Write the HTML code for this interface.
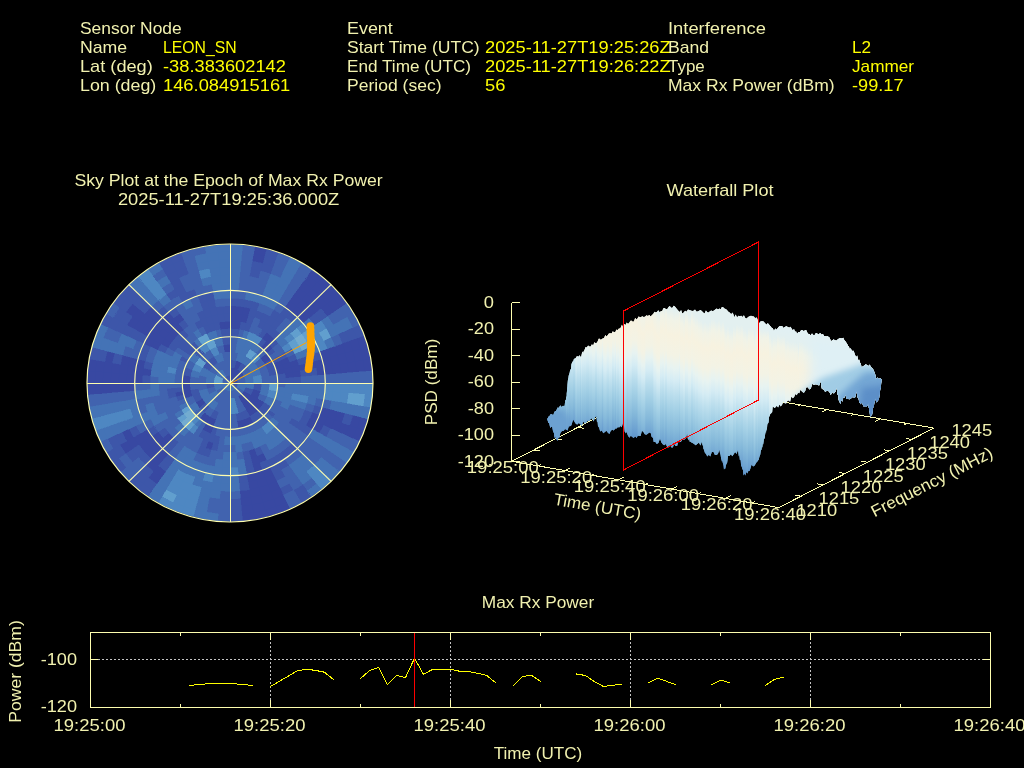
<!DOCTYPE html>
<html><head><meta charset="utf-8"><title>Interference Event</title>
<style>
html,body{margin:0;padding:0;background:#000;}
body{width:1024px;height:768px;overflow:hidden;}
svg{display:block;}
text{font-family:"Liberation Sans",sans-serif;}
line,polyline,rect,.cr{shape-rendering:crispEdges;}
</style></head><body>
<svg width="1024" height="768" viewBox="0 0 1024 768">
<rect width="1024" height="768" fill="#000"/>
<g opacity="0.999">
<text x="80" y="34" fill="#f2f2b0" font-size="16.60" text-anchor="start" textLength="101.7" lengthAdjust="spacingAndGlyphs">Sensor Node</text>
<text x="80" y="53" fill="#f2f2b0" font-size="16.60" text-anchor="start" textLength="47.2" lengthAdjust="spacingAndGlyphs">Name</text>
<text x="163" y="53" fill="#ffff00" font-size="16.60" text-anchor="start" textLength="73.7" lengthAdjust="spacingAndGlyphs">LEON_SN</text>
<text x="80" y="72" fill="#f2f2b0" font-size="16.60" text-anchor="start" textLength="72.8" lengthAdjust="spacingAndGlyphs">Lat (deg)</text>
<text x="163" y="72" fill="#ffff00" font-size="16.60" text-anchor="start" textLength="122.9" lengthAdjust="spacingAndGlyphs">-38.383602142</text>
<text x="80" y="91" fill="#f2f2b0" font-size="16.60" text-anchor="start" textLength="76.3" lengthAdjust="spacingAndGlyphs">Lon (deg)</text>
<text x="163" y="91" fill="#ffff00" font-size="16.60" text-anchor="start" textLength="127.3" lengthAdjust="spacingAndGlyphs">146.084915161</text>
<text x="347" y="34" fill="#f2f2b0" font-size="16.60" text-anchor="start" textLength="45.8" lengthAdjust="spacingAndGlyphs">Event</text>
<text x="347" y="53" fill="#f2f2b0" font-size="16.60" text-anchor="start" textLength="132.7" lengthAdjust="spacingAndGlyphs">Start Time (UTC)</text>
<text x="485" y="53" fill="#ffff00" font-size="16.60" text-anchor="start" textLength="185.7" lengthAdjust="spacingAndGlyphs">2025-11-27T19:25:26Z</text>
<text x="347" y="72" fill="#f2f2b0" font-size="16.60" text-anchor="start" textLength="124.0" lengthAdjust="spacingAndGlyphs">End Time (UTC)</text>
<text x="485" y="72" fill="#ffff00" font-size="16.60" text-anchor="start" textLength="185.7" lengthAdjust="spacingAndGlyphs">2025-11-27T19:26:22Z</text>
<text x="347" y="91" fill="#f2f2b0" font-size="16.60" text-anchor="start" textLength="94.5" lengthAdjust="spacingAndGlyphs">Period (sec)</text>
<text x="485" y="91" fill="#ffff00" font-size="16.60" text-anchor="start" textLength="20.4" lengthAdjust="spacingAndGlyphs">56</text>
<text x="668" y="34" fill="#f2f2b0" font-size="16.60" text-anchor="start" textLength="97.9" lengthAdjust="spacingAndGlyphs">Interference</text>
<text x="668" y="53" fill="#f2f2b0" font-size="16.60" text-anchor="start" textLength="41.1" lengthAdjust="spacingAndGlyphs">Band</text>
<text x="852" y="53" fill="#ffff00" font-size="16.60" text-anchor="start" textLength="19.1" lengthAdjust="spacingAndGlyphs">L2</text>
<text x="668" y="72" fill="#f2f2b0" font-size="16.60" text-anchor="start" textLength="36.8" lengthAdjust="spacingAndGlyphs">Type</text>
<text x="852" y="72" fill="#ffff00" font-size="16.60" text-anchor="start" textLength="62.1" lengthAdjust="spacingAndGlyphs">Jammer</text>
<text x="668" y="91" fill="#f2f2b0" font-size="16.60" text-anchor="start" textLength="166.6" lengthAdjust="spacingAndGlyphs">Max Rx Power (dBm)</text>
<text x="852" y="91" fill="#ffff00" font-size="16.60" text-anchor="start" textLength="51.6" lengthAdjust="spacingAndGlyphs">-99.17</text>
<text x="228.6" y="186" fill="#f2f2b0" font-size="16.60" text-anchor="middle" textLength="308.2" lengthAdjust="spacingAndGlyphs">Sky Plot at the Epoch of Max Rx Power</text>
<text x="228.6" y="205" fill="#f2f2b0" font-size="16.60" text-anchor="middle" textLength="221.4" lengthAdjust="spacingAndGlyphs">2025-11-27T19:25:36.000Z</text>
<text x="720" y="196" fill="#f2f2b0" font-size="16.60" text-anchor="middle" textLength="107.0" lengthAdjust="spacingAndGlyphs">Waterfall Plot</text>
<text x="538" y="608" fill="#f2f2b0" font-size="16.60" text-anchor="middle" textLength="112.3" lengthAdjust="spacingAndGlyphs">Max Rx Power</text>
<text x="538" y="759" fill="#f2f2b0" font-size="16.60" text-anchor="middle" textLength="88.5" lengthAdjust="spacingAndGlyphs">Time (UTC)</text>
<line x1="90.5" y1="659.5" x2="990.5" y2="659.5" stroke="#c4c4c4" stroke-width="1" stroke-dasharray="2 2" stroke-dashoffset="1"/>
<line x1="270.5" y1="632.5" x2="270.5" y2="707.5" stroke="#c4c4c4" stroke-width="1" stroke-dasharray="2 2" stroke-dashoffset="3"/>
<line x1="450.5" y1="632.5" x2="450.5" y2="707.5" stroke="#c4c4c4" stroke-width="1" stroke-dasharray="2 2" stroke-dashoffset="3"/>
<line x1="630.5" y1="632.5" x2="630.5" y2="707.5" stroke="#c4c4c4" stroke-width="1" stroke-dasharray="2 2" stroke-dashoffset="3"/>
<line x1="810.5" y1="632.5" x2="810.5" y2="707.5" stroke="#c4c4c4" stroke-width="1" stroke-dasharray="2 2" stroke-dashoffset="3"/>
<polyline points="189.5,685.4 198.5,684.6 207.5,683.8 216.5,683.7 225.5,683.7 234.5,683.8 243.5,684.6 252.5,685.4" fill="none" stroke="#ffff00" stroke-width="1" stroke-linecap="square"/>
<polyline points="270.5,686.5 279.5,681.2 288.5,676.0 297.5,670.7 306.5,669.2 315.5,670.4 324.5,672.2 333.5,679.6" fill="none" stroke="#ffff00" stroke-width="1" stroke-linecap="square"/>
<polyline points="360.5,678.6 369.5,670.6 378.5,667.4 387.5,684.7 396.5,675.3 405.5,677.6 414.5,658.2 423.5,674.3 432.5,669.4 441.5,669.4 450.5,669.4 459.5,671.2 468.5,671.6 477.5,673.3 486.5,675.3 495.5,682.6" fill="none" stroke="#ffff00" stroke-width="1" stroke-linecap="square"/>
<polyline points="513.5,685.4 522.5,676.5 531.5,675.3 540.5,681.4" fill="none" stroke="#ffff00" stroke-width="1" stroke-linecap="square"/>
<polyline points="576.5,674.0 585.5,675.5 594.5,681.7 603.5,686.5 612.5,685.3 621.5,684.2" fill="none" stroke="#ffff00" stroke-width="1" stroke-linecap="square"/>
<polyline points="648.5,682.7 657.5,678.1 666.5,681.3 675.5,684.6" fill="none" stroke="#ffff00" stroke-width="1" stroke-linecap="square"/>
<polyline points="711.5,684.7 720.5,680.1 729.5,682.6" fill="none" stroke="#ffff00" stroke-width="1" stroke-linecap="square"/>
<polyline points="765.5,685.4 774.5,679.3 783.5,677.3" fill="none" stroke="#ffff00" stroke-width="1" stroke-linecap="square"/>
<line x1="414.5" y1="632.5" x2="414.5" y2="707.5" stroke="#ff0000" stroke-width="1"/>
<rect x="90.5" y="632.5" width="900.0" height="75.0" fill="none" stroke="#ffffb0" stroke-width="1"/>
<line x1="90.5" y1="707.5" x2="90.5" y2="700.0" stroke="#ffffb0" stroke-width="1"/>
<line x1="90.5" y1="632.5" x2="90.5" y2="640.0" stroke="#ffffb0" stroke-width="1"/>
<line x1="180.5" y1="707.5" x2="180.5" y2="704.0" stroke="#ffffb0" stroke-width="1"/>
<line x1="180.5" y1="632.5" x2="180.5" y2="636.0" stroke="#ffffb0" stroke-width="1"/>
<line x1="270.5" y1="707.5" x2="270.5" y2="700.0" stroke="#ffffb0" stroke-width="1"/>
<line x1="270.5" y1="632.5" x2="270.5" y2="640.0" stroke="#ffffb0" stroke-width="1"/>
<line x1="360.5" y1="707.5" x2="360.5" y2="704.0" stroke="#ffffb0" stroke-width="1"/>
<line x1="360.5" y1="632.5" x2="360.5" y2="636.0" stroke="#ffffb0" stroke-width="1"/>
<line x1="450.5" y1="707.5" x2="450.5" y2="700.0" stroke="#ffffb0" stroke-width="1"/>
<line x1="450.5" y1="632.5" x2="450.5" y2="640.0" stroke="#ffffb0" stroke-width="1"/>
<line x1="540.5" y1="707.5" x2="540.5" y2="704.0" stroke="#ffffb0" stroke-width="1"/>
<line x1="540.5" y1="632.5" x2="540.5" y2="636.0" stroke="#ffffb0" stroke-width="1"/>
<line x1="630.5" y1="707.5" x2="630.5" y2="700.0" stroke="#ffffb0" stroke-width="1"/>
<line x1="630.5" y1="632.5" x2="630.5" y2="640.0" stroke="#ffffb0" stroke-width="1"/>
<line x1="720.5" y1="707.5" x2="720.5" y2="704.0" stroke="#ffffb0" stroke-width="1"/>
<line x1="720.5" y1="632.5" x2="720.5" y2="636.0" stroke="#ffffb0" stroke-width="1"/>
<line x1="810.5" y1="707.5" x2="810.5" y2="700.0" stroke="#ffffb0" stroke-width="1"/>
<line x1="810.5" y1="632.5" x2="810.5" y2="640.0" stroke="#ffffb0" stroke-width="1"/>
<line x1="900.5" y1="707.5" x2="900.5" y2="704.0" stroke="#ffffb0" stroke-width="1"/>
<line x1="900.5" y1="632.5" x2="900.5" y2="636.0" stroke="#ffffb0" stroke-width="1"/>
<line x1="990.5" y1="707.5" x2="990.5" y2="700.0" stroke="#ffffb0" stroke-width="1"/>
<line x1="990.5" y1="632.5" x2="990.5" y2="640.0" stroke="#ffffb0" stroke-width="1"/>
<line x1="90.5" y1="659.5" x2="98.0" y2="659.5" stroke="#ffffb0" stroke-width="1"/>
<line x1="990.5" y1="659.5" x2="983.0" y2="659.5" stroke="#ffffb0" stroke-width="1"/>
<text x="89.5" y="731" fill="#f2f2b0" font-size="16.60" text-anchor="middle" textLength="71.9" lengthAdjust="spacingAndGlyphs">19:25:00</text>
<text x="269.5" y="731" fill="#f2f2b0" font-size="16.60" text-anchor="middle" textLength="71.9" lengthAdjust="spacingAndGlyphs">19:25:20</text>
<text x="449.5" y="731" fill="#f2f2b0" font-size="16.60" text-anchor="middle" textLength="71.9" lengthAdjust="spacingAndGlyphs">19:25:40</text>
<text x="629.5" y="731" fill="#f2f2b0" font-size="16.60" text-anchor="middle" textLength="71.9" lengthAdjust="spacingAndGlyphs">19:26:00</text>
<text x="809.5" y="731" fill="#f2f2b0" font-size="16.60" text-anchor="middle" textLength="71.9" lengthAdjust="spacingAndGlyphs">19:26:20</text>
<text x="989.5" y="731" fill="#f2f2b0" font-size="16.60" text-anchor="middle" textLength="71.9" lengthAdjust="spacingAndGlyphs">19:26:40</text>
<text x="77" y="664.5" fill="#f2f2b0" font-size="16.60" text-anchor="end" textLength="36.3" lengthAdjust="spacingAndGlyphs">-100</text>
<text x="77" y="712" fill="#f2f2b0" font-size="16.60" text-anchor="end" textLength="36.3" lengthAdjust="spacingAndGlyphs">-120</text>
<text x="21" y="671.5" fill="#f2f2b0" font-size="16.60" text-anchor="middle" textLength="102.7" lengthAdjust="spacingAndGlyphs" transform="rotate(-90 21 671.5)">Power (dBm)</text>
<defs><clipPath id="hc"><ellipse cx="230.0" cy="383.0" rx="143.0" ry="138.4"/></clipPath></defs>
<g clip-path="url(#hc)" shape-rendering="crispEdges">
<rect x="86" y="243" width="289" height="281" fill="#4264b0"/>
<path d="M230.0 383.0L230.0 375.3L230.3 375.3L230.7 375.3L231.0 375.3L231.4 375.4L231.7 375.5L232.1 375.5L232.4 375.6L232.7 375.7L233.0 375.9L233.4 376.0L233.7 376.2L234.0 376.3L234.3 376.5L234.6 376.7L234.8 376.9L235.1 377.1L235.4 377.3L235.6 377.5L230.0 383.0ZM230.0 383.0L235.6 377.5L235.9 377.8L236.1 378.0L236.3 378.3L236.5 378.6L236.7 378.9L236.9 379.1L237.0 379.4L237.2 379.7L237.3 380.0L237.5 380.4L237.6 380.7L237.7 381.0L237.8 381.3L237.8 381.7L237.9 382.0L237.9 382.3L237.9 382.7L237.9 383.0L230.0 383.0ZM230.0 375.3L230.0 367.6L230.7 367.6L231.4 367.6L232.1 367.7L232.8 367.8L233.4 367.9L234.1 368.1L234.8 368.3L235.4 368.5L236.1 368.7L236.7 369.0L237.3 369.3L237.9 369.6L234.0 376.3L233.7 376.2L233.4 376.0L233.0 375.9L232.7 375.7L232.4 375.6L232.1 375.5L231.7 375.5L231.4 375.4L231.0 375.3L230.7 375.3L230.3 375.3ZM234.0 376.3L237.9 369.6L238.5 370.0L239.1 370.3L239.7 370.7L240.2 371.2L240.7 371.6L241.2 372.1L241.7 372.6L242.2 373.1L242.6 373.6L243.0 374.1L243.4 374.7L243.8 375.3L236.9 379.1L236.7 378.9L236.5 378.6L236.3 378.3L236.1 378.0L235.9 377.8L235.6 377.5L235.4 377.3L235.1 377.1L234.8 376.9L234.6 376.7L234.3 376.5ZM234.1 368.1L236.2 360.6L237.2 360.9L238.2 361.2L239.1 361.6L240.1 362.0L241.0 362.5L241.9 362.9L237.9 369.6L237.3 369.3L236.7 369.0L236.1 368.7L235.4 368.5L234.8 368.3ZM243.8 390.7L250.6 394.6L250.1 395.4L249.5 396.3L248.9 397.1L248.3 397.9L247.6 398.7L246.9 399.4L241.2 393.9L241.7 393.4L242.2 392.9L242.6 392.4L243.0 391.9L243.4 391.3ZM241.2 393.9L246.9 399.4L246.1 400.1L245.3 400.7L244.5 401.4L243.7 402.0L242.8 402.5L241.9 403.1L237.9 396.4L238.5 396.0L239.1 395.7L239.7 395.3L240.2 394.8L240.7 394.4ZM253.0 389.0L260.7 391.0L260.3 392.3L259.9 393.6L259.4 394.8L258.8 396.1L258.2 397.3L257.5 398.4L250.6 394.6L251.1 393.7L251.6 392.8L252.0 391.9L252.4 390.9L252.7 390.0ZM250.6 394.6L257.5 398.4L256.8 399.6L256.0 400.7L255.2 401.8L254.3 402.9L253.4 403.9L252.5 404.8L246.9 399.4L247.6 398.7L248.3 397.9L248.9 397.1L249.5 396.3L250.1 395.4ZM246.9 399.4L252.5 404.8L251.5 405.8L250.4 406.7L249.3 407.5L248.2 408.3L247.1 409.1L245.9 409.8L241.9 403.1L242.8 402.5L243.7 402.0L244.5 401.4L245.3 400.7L246.1 400.1ZM257.5 398.4L264.4 402.3L263.5 403.7L262.5 405.1L261.5 406.5L260.4 407.8L254.3 402.9L255.2 401.8L256.0 400.7L256.8 399.6ZM254.3 402.9L260.4 407.8L259.3 409.1L258.1 410.3L256.8 411.5L255.5 412.6L250.4 406.7L251.5 405.8L252.5 404.8L253.4 403.9ZM250.4 406.7L255.5 412.6L254.2 413.6L252.8 414.6L251.3 415.6L249.9 416.4L245.9 409.8L247.1 409.1L248.2 408.3L249.3 407.5ZM205.7 402.9L199.6 407.8L198.5 406.5L197.5 405.1L196.5 403.7L195.6 402.3L202.5 398.4L203.2 399.6L204.0 400.7L204.8 401.8ZM224.5 352.6L223.1 345.0L224.8 344.7L226.5 344.5L228.3 344.4L230.0 344.4L230.0 352.1L228.6 352.1L227.2 352.2L225.9 352.4ZM260.4 358.2L266.5 353.2L267.8 354.8L269.0 356.4L270.2 358.1L271.3 359.8L264.4 363.7L263.5 362.3L262.5 360.9L261.5 359.5ZM249.9 416.4L253.8 423.1L252.0 424.1L250.1 425.0L248.2 425.8L246.3 426.5L243.6 419.3L245.2 418.7L246.8 418.0L248.3 417.2ZM243.6 419.3L246.3 426.5L244.3 427.2L242.3 427.8L240.3 428.2L238.3 428.6L236.9 421.0L238.6 420.7L240.3 420.3L241.9 419.8ZM216.4 419.3L213.7 426.5L211.8 425.8L209.9 425.0L208.0 424.1L206.2 423.1L210.1 416.4L211.7 417.2L213.2 418.0L214.8 418.7ZM210.1 416.4L206.2 423.1L204.4 422.1L202.7 421.0L201.0 419.8L199.4 418.5L204.5 412.6L205.8 413.6L207.2 414.6L208.7 415.6ZM192.7 396.2L185.2 398.8L184.5 396.9L184.0 395.0L183.5 393.0L183.1 391.0L190.9 389.7L191.2 391.4L191.6 393.0L192.1 394.6ZM190.9 389.7L183.1 391.0L182.7 389.0L182.5 387.0L182.4 385.0L182.3 383.0L190.3 383.0L190.3 384.7L190.4 386.4L190.6 388.0ZM190.3 383.0L182.3 383.0L182.4 381.0L182.5 379.0L182.7 377.0L183.1 375.0L190.9 376.3L190.6 378.0L190.4 379.6L190.3 381.3ZM260.6 347.5L265.7 341.6L267.6 343.1L269.3 344.8L263.7 350.2L262.2 348.8ZM263.7 350.2L269.3 344.8L271.0 346.5L272.6 348.3L266.5 353.2L265.1 351.7ZM273.2 363.4L280.4 360.2L281.4 362.3L282.3 364.5L274.8 367.2L274.0 365.3ZM274.8 367.2L282.3 364.5L283.0 366.7L283.7 369.0L276.0 371.0L275.5 369.1ZM276.0 371.0L283.7 369.0L284.3 371.3L284.8 373.6L276.9 375.0L276.5 373.0ZM213.7 426.5L211.0 433.8L208.7 432.9L206.5 432.0L209.9 425.0L211.8 425.8ZM209.9 425.0L206.5 432.0L204.3 430.9L202.2 429.8L206.2 423.1L208.0 424.1ZM184.0 395.0L176.3 397.0L175.7 394.7L175.2 392.4L183.1 391.0L183.5 393.0ZM230.0 328.9L230.0 321.2L232.8 321.3L235.5 321.5L234.8 329.2L232.4 329.0ZM234.8 329.2L235.5 321.5L238.3 321.8L241.0 322.2L239.7 329.8L237.3 329.4ZM261.9 338.7L266.5 332.4L268.7 334.0L270.9 335.7L265.7 341.6L263.9 340.1ZM265.7 341.6L270.9 335.7L272.9 337.5L274.9 339.3L269.3 344.8L267.6 343.1ZM280.4 360.2L287.6 356.9L288.7 359.4L289.7 361.9L282.3 364.5L281.4 362.3ZM282.3 364.5L289.7 361.9L290.6 364.4L291.4 367.0L283.7 369.0L283.0 366.7ZM283.7 369.0L291.4 367.0L292.0 369.6L292.6 372.3L284.8 373.6L284.3 371.3ZM284.8 373.6L292.6 372.3L293.0 374.9L293.3 377.6L285.4 378.3L285.1 375.9ZM220.3 329.8L219.0 322.2L221.7 321.8L224.5 321.5L225.2 329.2L222.7 329.4ZM225.2 329.2L224.5 321.5L227.2 321.3L230.0 321.2L230.0 328.9L227.6 329.0ZM230.0 321.2L230.0 313.5L233.1 313.6L236.2 313.8L235.5 321.5L232.8 321.3ZM235.5 321.5L236.2 313.8L239.3 314.1L242.4 314.6L241.0 322.2L238.3 321.8ZM241.0 322.2L242.4 314.6L245.5 315.1L248.5 315.9L246.4 323.3L243.8 322.7ZM289.7 361.9L297.2 359.2L298.2 362.1L299.1 365.0L291.4 367.0L290.6 364.4ZM291.4 367.0L299.1 365.0L299.8 368.0L300.4 370.9L292.6 372.3L292.0 369.6ZM292.6 372.3L300.4 370.9L300.9 373.9L301.2 376.9L293.3 377.6L293.0 374.9ZM213.6 442.7L211.5 450.1L208.5 449.3L205.5 448.3L208.3 441.1L210.9 441.9ZM230.0 313.5L230.0 305.8L233.5 305.9L236.9 306.1L236.2 313.8L233.1 313.6ZM236.2 313.8L236.9 306.1L240.4 306.4L243.8 307.0L242.4 314.6L239.3 314.1ZM242.4 314.6L243.8 307.0L247.2 307.6L250.6 308.4L248.5 315.9L245.5 315.1ZM299.1 365.0L306.7 363.0L307.6 366.3L308.2 369.6L300.4 370.9L299.8 368.0ZM254.5 448.3L257.2 455.6L253.9 456.6L250.6 457.6L248.5 450.1L251.5 449.3ZM168.1 348.2L161.2 344.4L163.0 341.5L164.9 338.7L171.4 343.1L169.7 345.7ZM171.4 343.1L164.9 338.7L167.0 336.0L169.1 333.4L175.2 338.3L173.3 340.7ZM175.2 338.3L169.1 333.4L171.4 330.8L173.8 328.4L179.4 333.9L177.3 336.0ZM179.4 333.9L173.8 328.4L176.3 326.1L178.9 323.8L184.0 329.8L181.7 331.8ZM306.7 363.0L314.4 361.0L315.3 364.6L316.1 368.2L308.2 369.6L307.6 366.3ZM263.6 453.0L266.9 460.0L263.4 461.5L259.9 462.8L257.2 455.6L260.4 454.3ZM257.2 455.6L259.9 462.8L256.3 464.0L252.6 465.1L250.6 457.6L253.9 456.6ZM173.8 437.6L168.2 443.1L165.6 440.4L163.1 437.6L169.1 432.6L171.4 435.2ZM150.9 376.3L142.9 375.6L143.4 371.9L143.9 368.2L151.8 369.6L151.2 372.9ZM158.0 350.4L150.8 347.1L152.5 343.8L154.3 340.5L161.2 344.4L159.5 347.3ZM161.2 344.4L154.3 340.5L156.3 337.4L158.4 334.3L164.9 338.7L163.0 341.5ZM164.9 338.7L158.4 334.3L160.7 331.3L163.1 328.4L169.1 333.4L167.0 336.0ZM169.1 333.4L163.1 328.4L165.6 325.6L168.2 322.9L173.8 328.4L171.4 330.8ZM173.8 328.4L168.2 322.9L171.0 320.4L173.8 317.9L178.9 323.8L176.3 326.1ZM178.9 323.8L173.8 317.9L176.8 315.6L179.9 313.4L184.4 319.7L181.6 321.7ZM314.4 361.0L322.1 359.0L323.1 362.9L323.9 366.9L316.1 368.2L315.3 364.6ZM316.1 368.2L323.9 366.9L324.5 370.9L325.0 374.9L317.1 375.6L316.6 371.9ZM312.1 412.1L319.6 414.7L318.1 418.5L316.4 422.2L309.2 418.9L310.7 415.5ZM309.2 418.9L316.4 422.2L314.6 425.8L312.6 429.3L305.7 425.5L307.5 422.2ZM259.9 462.8L262.6 470.1L258.7 471.4L254.7 472.5L252.6 465.1L256.3 464.0ZM168.2 443.1L162.6 448.5L159.7 445.6L157.0 442.6L163.1 437.6L165.6 440.4ZM163.1 437.6L157.0 442.6L154.4 439.4L151.9 436.2L158.4 431.7L160.7 434.7ZM142.6 383.0L134.7 383.0L134.8 379.0L135.0 374.9L142.9 375.6L142.7 379.3ZM142.9 375.6L135.0 374.9L135.5 370.9L136.1 366.9L143.9 368.2L143.4 371.9ZM143.9 368.2L136.1 366.9L136.9 362.9L137.9 359.0L145.6 361.0L144.7 364.6ZM150.8 347.1L143.6 343.8L145.4 340.2L147.4 336.7L154.3 340.5L152.5 343.8ZM154.3 340.5L147.4 336.7L149.6 333.2L151.9 329.8L158.4 334.3L156.3 337.4ZM158.4 334.3L151.9 329.8L154.4 326.6L157.0 323.4L163.1 328.4L160.7 331.3ZM163.1 328.4L157.0 323.4L159.7 320.4L162.6 317.5L168.2 322.9L165.6 325.6ZM168.2 322.9L162.6 317.5L165.6 314.7L168.7 312.0L173.8 317.9L171.0 320.4ZM284.7 307.1L289.2 300.8L292.9 303.4L296.4 306.1L291.3 312.0L288.0 309.5ZM291.3 312.0L296.4 306.1L299.8 309.0L303.0 312.0L297.4 317.5L294.4 314.7ZM297.4 317.5L303.0 312.0L306.1 315.2L309.1 318.5L303.0 323.4L300.3 320.4ZM319.6 351.3L327.0 348.7L328.5 352.8L329.8 357.0L322.1 359.0L320.9 355.1ZM322.1 359.0L329.8 357.0L330.8 361.3L331.7 365.6L323.9 366.9L323.1 362.9ZM323.9 366.9L331.7 365.6L332.4 369.9L332.9 374.3L325.0 374.9L324.5 370.9ZM322.1 407.0L329.8 409.0L328.5 413.2L327.0 417.3L319.6 414.7L320.9 410.9ZM319.6 414.7L327.0 417.3L325.4 421.4L323.6 425.4L316.4 422.2L318.1 418.5ZM316.4 422.2L323.6 425.4L321.6 429.4L319.4 433.2L312.6 429.3L314.6 425.8ZM270.3 467.0L273.6 474.0L269.5 475.7L265.3 477.3L262.6 470.1L266.5 468.6ZM262.6 470.1L265.3 477.3L261.1 478.7L256.7 480.0L254.7 472.5L258.7 471.4ZM254.7 472.5L256.7 480.0L252.4 481.0L247.9 481.9L246.6 474.3L250.6 473.5ZM168.7 454.0L163.6 459.9L160.2 457.0L157.0 454.0L162.6 448.5L165.6 451.3ZM162.6 448.5L157.0 454.0L153.9 450.8L150.9 447.5L157.0 442.6L159.7 445.6ZM157.0 442.6L150.9 447.5L148.1 444.1L145.4 440.6L151.9 436.2L154.4 439.4ZM151.9 436.2L145.4 440.6L142.9 436.9L140.6 433.2L147.4 429.3L149.6 432.8ZM135.0 391.1L127.1 391.7L126.8 387.4L126.7 383.0L134.7 383.0L134.8 387.0ZM134.7 383.0L126.7 383.0L126.8 378.6L127.1 374.3L135.0 374.9L134.8 379.0ZM135.0 374.9L127.1 374.3L127.6 369.9L128.3 365.6L136.1 366.9L135.5 370.9ZM136.1 366.9L128.3 365.6L129.2 361.3L130.2 357.0L137.9 359.0L136.9 362.9ZM147.4 336.7L140.6 332.8L142.9 329.1L145.4 325.4L151.9 329.8L149.6 333.2ZM151.9 329.8L145.4 325.4L148.1 321.9L150.9 318.5L157.0 323.4L154.4 326.6ZM157.0 323.4L150.9 318.5L153.9 315.2L157.0 312.0L162.6 317.5L159.7 320.4ZM289.2 300.8L293.8 294.4L297.7 297.2L301.5 300.2L296.4 306.1L292.9 303.4ZM296.4 306.1L301.5 300.2L305.1 303.3L308.6 306.6L303.0 312.0L299.8 309.0ZM303.0 312.0L308.6 306.6L312.0 310.0L315.2 313.5L309.1 318.5L306.1 315.2ZM327.0 348.7L334.5 346.0L336.1 350.5L337.4 355.0L329.8 357.0L328.5 352.8ZM329.8 357.0L337.4 355.0L338.6 359.6L339.5 364.2L331.7 365.6L330.8 361.3ZM331.7 365.6L339.5 364.2L340.3 368.9L340.8 373.6L332.9 374.3L332.4 369.9ZM329.8 409.0L337.4 411.0L336.1 415.5L334.5 420.0L327.0 417.3L328.5 413.2ZM327.0 417.3L334.5 420.0L332.8 424.4L330.8 428.7L323.6 425.4L325.4 421.4ZM273.6 474.0L277.0 481.0L272.6 482.9L268.0 484.6L265.3 477.3L269.5 475.7ZM265.3 477.3L268.0 484.6L263.4 486.1L258.8 487.4L256.7 480.0L261.1 478.7ZM256.7 480.0L258.8 487.4L254.1 488.5L249.3 489.5L247.9 481.9L252.4 481.0ZM163.6 459.9L158.5 465.8L154.9 462.7L151.4 459.4L157.0 454.0L160.2 457.0ZM157.0 454.0L151.4 459.4L148.0 456.0L144.8 452.5L150.9 447.5L153.9 450.8ZM150.9 447.5L144.8 452.5L141.8 448.8L138.9 445.0L145.4 440.6L148.1 444.1ZM145.4 440.6L138.9 445.0L136.2 441.1L133.7 437.1L140.6 433.2L142.9 436.9ZM127.1 391.7L119.2 392.4L118.9 387.7L118.8 383.0L126.7 383.0L126.8 387.4ZM126.7 383.0L118.8 383.0L118.9 378.3L119.2 373.6L127.1 374.3L126.8 378.6ZM127.1 374.3L119.2 373.6L119.7 368.9L120.5 364.2L128.3 365.6L127.6 369.9ZM128.3 365.6L120.5 364.2L121.4 359.6L122.6 355.0L130.2 357.0L129.2 361.3ZM140.6 332.8L133.7 328.9L136.2 324.9L138.9 321.0L145.4 325.4L142.9 329.1ZM145.4 325.4L138.9 321.0L141.8 317.2L144.8 313.5L150.9 318.5L148.1 321.9ZM150.9 318.5L144.8 313.5L148.0 310.0L151.4 306.6L157.0 312.0L153.9 315.2ZM293.8 294.4L298.4 288.1L302.5 291.1L306.6 294.3L301.5 300.2L297.7 297.2ZM301.5 300.2L306.6 294.3L310.5 297.6L314.3 301.1L308.6 306.6L305.1 303.3ZM308.6 306.6L314.3 301.1L317.9 304.7L321.3 308.5L315.2 313.5L312.0 310.0ZM334.5 346.0L342.0 343.4L343.7 348.2L345.1 353.0L337.4 355.0L336.1 350.5ZM337.4 355.0L345.1 353.0L346.3 357.9L347.4 362.9L339.5 364.2L338.6 359.6ZM339.5 364.2L347.4 362.9L348.1 367.9L348.7 372.9L340.8 373.6L340.3 368.9ZM337.4 411.0L345.1 413.0L343.7 417.8L342.0 422.6L334.5 420.0L336.1 415.5ZM334.5 420.0L342.0 422.6L340.1 427.3L338.0 432.0L330.8 428.7L332.8 424.4ZM277.0 481.0L280.4 488.0L275.6 490.0L270.8 491.8L268.0 484.6L272.6 482.9ZM268.0 484.6L270.8 491.8L265.8 493.5L260.8 494.9L258.8 487.4L263.4 486.1ZM258.8 487.4L260.8 494.9L255.8 496.1L250.7 497.1L249.3 489.5L254.1 488.5ZM249.3 489.5L250.7 497.1L245.6 497.8L240.4 498.4L239.7 490.7L244.5 490.2ZM166.2 471.6L161.6 477.9L157.5 474.9L153.4 471.7L158.5 465.8L162.3 468.8ZM158.5 465.8L153.4 471.7L149.5 468.4L145.7 464.9L151.4 459.4L154.9 462.7ZM138.9 445.0L132.4 449.4L129.5 445.2L126.8 440.9L133.7 437.1L136.2 441.1ZM133.7 437.1L126.8 440.9L124.3 436.5L122.0 432.0L129.2 428.7L131.3 432.9ZM119.2 392.4L111.3 393.1L110.9 388.1L110.8 383.0L118.8 383.0L118.9 387.7ZM118.8 383.0L110.8 383.0L110.9 377.9L111.3 372.9L119.2 373.6L118.9 378.3ZM119.2 373.6L111.3 372.9L111.9 367.9L112.6 362.9L120.5 364.2L119.7 368.9ZM133.7 328.9L126.8 325.1L129.5 320.8L132.4 316.6L138.9 321.0L136.2 324.9ZM138.9 321.0L132.4 316.6L135.5 312.5L138.7 308.5L144.8 313.5L141.8 317.2ZM298.4 288.1L302.9 281.8L307.4 285.0L311.7 288.4L306.6 294.3L302.5 291.1ZM306.6 294.3L311.7 288.4L315.9 291.9L319.9 295.6L314.3 301.1L310.5 297.6ZM314.3 301.1L319.9 295.6L323.7 299.5L327.4 303.6L321.3 308.5L317.9 304.7ZM321.3 308.5L327.4 303.6L330.8 307.8L334.1 312.1L327.6 316.6L324.5 312.5ZM342.0 343.4L349.4 340.7L351.2 345.8L352.8 351.0L345.1 353.0L343.7 348.2ZM345.1 353.0L352.8 351.0L354.1 356.3L355.2 361.5L347.4 362.9L346.3 357.9ZM347.4 362.9L355.2 361.5L356.0 366.9L356.6 372.2L348.7 372.9L348.1 367.9ZM342.0 422.6L349.4 425.3L347.4 430.3L345.2 435.2L338.0 432.0L340.1 427.3ZM280.4 488.0L283.7 495.0L278.6 497.2L273.5 499.1L270.8 491.8L275.6 490.0ZM270.8 491.8L273.5 499.1L268.2 500.8L262.9 502.3L260.8 494.9L265.8 493.5ZM260.8 494.9L262.9 502.3L257.5 503.6L252.1 504.7L250.7 497.1L255.8 496.1ZM250.7 497.1L252.1 504.7L246.6 505.5L241.1 506.1L240.4 498.4L245.6 497.8ZM161.6 477.9L157.1 484.2L152.6 481.0L148.3 477.6L153.4 471.7L157.5 474.9ZM132.4 449.4L125.9 453.9L122.8 449.4L119.9 444.8L126.8 440.9L129.5 445.2ZM111.3 393.1L103.4 393.8L103.0 388.4L102.9 383.0L110.8 383.0L110.9 388.1ZM110.8 383.0L102.9 383.0L103.0 377.6L103.4 372.2L111.3 372.9L110.9 377.9ZM111.3 372.9L103.4 372.2L104.0 366.9L104.8 361.5L112.6 362.9L111.9 367.9ZM112.6 362.9L104.8 361.5L105.9 356.3L107.2 351.0L114.9 353.0L113.7 357.9ZM132.4 316.6L125.9 312.1L129.2 307.8L132.6 303.6L138.7 308.5L135.5 312.5ZM252.1 261.3L253.5 253.7L259.2 254.8L265.0 256.2L262.9 263.7L257.5 262.4ZM302.9 281.8L307.5 275.5L312.2 278.9L316.8 282.4L311.7 288.4L307.4 285.0ZM311.7 288.4L316.8 282.4L321.2 286.2L325.5 290.2L319.9 295.6L315.9 291.9ZM319.9 295.6L325.5 290.2L329.6 294.3L333.5 298.6L327.4 303.6L323.7 299.5ZM327.4 303.6L333.5 298.6L337.1 303.1L340.6 307.7L334.1 312.1L330.8 307.8ZM349.4 340.7L356.9 338.1L358.8 343.5L360.5 349.0L352.8 351.0L351.2 345.8ZM352.8 351.0L360.5 349.0L361.9 354.6L363.0 360.2L355.2 361.5L354.1 356.3ZM355.2 361.5L363.0 360.2L363.9 365.9L364.5 371.6L356.6 372.2L356.0 366.9ZM352.8 415.0L360.5 417.0L358.8 422.5L356.9 427.9L349.4 425.3L351.2 420.2ZM349.4 425.3L356.9 427.9L354.8 433.2L352.4 438.5L345.2 435.2L347.4 430.3ZM283.7 495.0L287.1 502.0L281.7 504.3L276.2 506.4L273.5 499.1L278.6 497.2ZM273.5 499.1L276.2 506.4L270.6 508.2L265.0 509.8L262.9 502.3L268.2 500.8ZM262.9 502.3L265.0 509.8L259.2 511.2L253.5 512.3L252.1 504.7L257.5 503.6ZM252.1 504.7L253.5 512.3L247.6 513.2L241.8 513.8L241.1 506.1L246.6 505.5ZM103.4 393.8L95.5 394.4L95.1 388.7L94.9 383.0L102.9 383.0L103.0 388.4ZM102.9 383.0L94.9 383.0L95.1 377.3L95.5 371.6L103.4 372.2L103.0 377.6ZM103.4 372.2L95.5 371.6L96.1 365.9L97.0 360.2L104.8 361.5L104.0 366.9ZM253.5 253.7L254.8 246.1L261.0 247.3L267.0 248.7L265.0 256.2L259.2 254.8ZM307.5 275.5L312.0 269.1L317.1 272.7L321.9 276.5L316.8 282.4L312.2 278.9ZM316.8 282.4L321.9 276.5L326.6 280.5L331.1 284.7L325.5 290.2L321.2 286.2ZM325.5 290.2L331.1 284.7L335.4 289.1L339.5 293.7L333.5 298.6L329.6 294.3ZM333.5 298.6L339.5 293.7L343.4 298.4L347.1 303.3L340.6 307.7L337.1 303.1ZM356.9 338.1L364.4 335.5L366.4 341.2L368.1 347.0L360.5 349.0L358.8 343.5ZM360.5 349.0L368.1 347.0L369.6 352.9L370.8 358.9L363.0 360.2L361.9 354.6ZM363.0 360.2L370.8 358.9L371.8 364.9L372.5 370.9L364.5 371.6L363.9 365.9ZM360.5 417.0L368.1 419.0L366.4 424.8L364.4 430.5L356.9 427.9L358.8 422.5ZM356.9 427.9L364.4 430.5L362.1 436.2L359.6 441.7L352.4 438.5L354.8 433.2ZM287.1 502.0L290.4 509.0L284.7 511.4L278.9 513.6L276.2 506.4L281.7 504.3ZM276.2 506.4L278.9 513.6L273.0 515.6L267.0 517.3L265.0 509.8L270.6 508.2ZM265.0 509.8L267.0 517.3L261.0 518.7L254.8 519.9L253.5 512.3L259.2 511.2ZM253.5 512.3L254.8 519.9L248.7 520.8L242.5 521.5L241.8 513.8L247.6 513.2ZM95.5 394.4L87.5 395.1L87.1 389.1L87.0 383.0L94.9 383.0L95.1 388.7ZM94.9 383.0L87.0 383.0L87.1 376.9L87.5 370.9L95.5 371.6L95.1 377.3ZM95.5 371.6L87.5 370.9L88.2 364.9L89.2 358.9L97.0 360.2L96.1 365.9Z" fill="#3949a3" stroke="#3949a3" stroke-width="0.6"/>
<path d="M230.0 383.0L237.9 383.0L237.9 383.3L237.9 383.7L237.9 384.0L237.8 384.3L237.8 384.7L237.7 385.0L237.6 385.3L237.5 385.6L237.3 386.0L237.2 386.3L237.0 386.6L236.9 386.9L236.7 387.1L236.5 387.4L236.3 387.7L236.1 388.0L235.9 388.2L235.6 388.5L230.0 383.0ZM230.0 383.0L224.4 377.5L224.6 377.3L224.9 377.1L225.2 376.9L225.4 376.7L225.7 376.5L226.0 376.3L226.3 376.2L226.6 376.0L227.0 375.9L227.3 375.7L227.6 375.6L227.9 375.5L228.3 375.5L228.6 375.4L229.0 375.3L229.3 375.3L229.7 375.3L230.0 375.3L230.0 383.0ZM230.0 367.6L230.0 359.8L231.0 359.9L232.1 359.9L233.1 360.0L234.1 360.2L235.2 360.4L236.2 360.6L234.1 368.1L233.4 367.9L232.8 367.8L232.1 367.7L231.4 367.6L230.7 367.6ZM237.9 369.6L241.9 362.9L242.8 363.5L243.7 364.0L244.5 364.6L245.3 365.3L246.1 365.9L246.9 366.6L241.2 372.1L240.7 371.6L240.2 371.2L239.7 370.7L239.1 370.3L238.5 370.0ZM245.3 387.0L253.0 389.0L252.7 390.0L252.4 390.9L252.0 391.9L251.6 392.8L251.1 393.7L250.6 394.6L243.8 390.7L244.1 390.1L244.4 389.5L244.7 388.9L244.9 388.3L245.2 387.6ZM214.7 387.0L207.0 389.0L206.7 388.0L206.5 387.0L206.4 386.0L206.3 385.0L206.2 384.0L206.2 383.0L214.1 383.0L214.1 383.7L214.2 384.3L214.2 385.0L214.4 385.7L214.5 386.3ZM253.8 383.0L261.8 383.0L261.7 384.3L261.7 385.7L261.5 387.0L261.3 388.4L261.0 389.7L260.7 391.0L253.0 389.0L253.3 388.0L253.5 387.0L253.6 386.0L253.7 385.0L253.8 384.0ZM209.4 371.4L202.5 367.6L203.2 366.4L204.0 365.3L204.8 364.2L205.7 363.1L206.6 362.1L207.5 361.2L213.1 366.6L212.4 367.3L211.7 368.1L211.1 368.9L210.5 369.7L209.9 370.6ZM213.1 366.6L207.5 361.2L208.5 360.2L209.6 359.3L210.7 358.5L211.8 357.7L212.9 356.9L214.1 356.2L218.1 362.9L217.2 363.5L216.3 364.0L215.5 364.6L214.7 365.3L213.9 365.9ZM245.9 409.8L249.9 416.4L248.3 417.2L246.8 418.0L245.2 418.7L243.6 419.3L240.9 412.0L242.2 411.5L243.4 411.0L244.7 410.4ZM240.9 412.0L243.6 419.3L241.9 419.8L240.3 420.3L238.6 420.7L236.9 421.0L235.5 413.4L236.9 413.2L238.2 412.8L239.6 412.5ZM219.1 412.0L216.4 419.3L214.8 418.7L213.2 418.0L211.7 417.2L210.1 416.4L214.1 409.8L215.3 410.4L216.6 411.0L217.8 411.5ZM209.6 406.7L204.5 412.6L203.2 411.5L201.9 410.3L200.7 409.1L199.6 407.8L205.7 402.9L206.6 403.9L207.5 404.8L208.5 405.8ZM202.5 398.4L195.6 402.3L194.8 400.8L194.0 399.3L193.3 397.8L192.7 396.2L200.1 393.6L200.6 394.8L201.2 396.1L201.8 397.3ZM200.1 393.6L192.7 396.2L192.1 394.6L191.6 393.0L191.2 391.4L190.9 389.7L198.7 388.4L199.0 389.7L199.3 391.0L199.7 392.3ZM264.4 363.7L271.3 359.8L272.3 361.6L273.2 363.4L274.0 365.3L274.8 367.2L267.3 369.8L266.7 368.2L266.0 366.7L265.2 365.2ZM267.3 369.8L274.8 367.2L275.5 369.1L276.0 371.0L276.5 373.0L276.9 375.0L269.1 376.3L268.8 374.6L268.4 373.0L267.9 371.4ZM264.4 402.3L271.3 406.2L270.2 407.9L269.0 409.6L267.8 411.2L266.5 412.8L260.4 407.8L261.5 406.5L262.5 405.1L263.5 403.7ZM260.4 407.8L266.5 412.8L265.1 414.3L263.7 415.8L262.2 417.2L260.6 418.5L255.5 412.6L256.8 411.5L258.1 410.3L259.3 409.1ZM255.5 412.6L260.6 418.5L259.0 419.8L257.3 421.0L255.6 422.1L253.8 423.1L249.9 416.4L251.3 415.6L252.8 414.6L254.2 413.6ZM190.9 376.3L183.1 375.0L183.5 373.0L184.0 371.0L184.5 369.1L185.2 367.2L192.7 369.8L192.1 371.4L191.6 373.0L191.2 374.6ZM199.6 358.2L193.5 353.2L194.9 351.7L196.3 350.2L197.8 348.8L199.4 347.5L204.5 353.4L203.2 354.5L201.9 355.7L200.7 356.9ZM223.1 345.0L221.7 337.4L223.8 337.1L225.8 336.8L227.9 336.7L230.0 336.7L230.0 344.4L228.3 344.4L226.5 344.5L224.8 344.7ZM230.0 336.7L230.0 328.9L232.4 329.0L234.8 329.2L234.2 336.8L232.1 336.7ZM234.2 336.8L234.8 329.2L237.3 329.4L239.7 329.8L238.3 337.4L236.2 337.1ZM257.3 345.0L261.9 338.7L263.9 340.1L265.7 341.6L260.6 347.5L259.0 346.2ZM266.5 353.2L272.6 348.3L274.1 350.1L275.6 352.0L269.0 356.4L267.8 354.8ZM271.3 359.8L278.2 356.0L279.3 358.0L280.4 360.2L273.2 363.4L272.3 361.6ZM276.9 375.0L284.8 373.6L285.1 375.9L285.4 378.3L277.5 379.0L277.3 377.0ZM277.5 379.0L285.4 378.3L285.6 380.6L285.6 383.0L277.7 383.0L277.6 381.0ZM269.0 409.6L275.6 414.0L274.1 415.9L272.6 417.7L266.5 412.8L267.8 411.2ZM217.7 427.8L215.6 435.2L213.3 434.6L211.0 433.8L213.7 426.5L215.7 427.2ZM185.2 398.8L177.7 401.5L177.0 399.3L176.3 397.0L184.0 395.0L184.5 396.9ZM183.1 391.0L175.2 392.4L174.9 390.1L174.6 387.7L182.5 387.0L182.7 389.0ZM186.8 363.4L179.6 360.2L180.7 358.0L181.8 356.0L188.7 359.8L187.7 361.6ZM191.0 356.4L184.4 352.0L185.9 350.1L187.4 348.3L193.5 353.2L192.2 354.8ZM193.5 353.2L187.4 348.3L189.0 346.5L190.7 344.8L196.3 350.2L194.9 351.7ZM196.3 350.2L190.7 344.8L192.4 343.1L194.3 341.6L199.4 347.5L197.8 348.8ZM221.7 337.4L220.3 329.8L222.7 329.4L225.2 329.2L225.8 336.8L223.8 337.1ZM225.8 336.8L225.2 329.2L227.6 329.0L230.0 328.9L230.0 336.7L227.9 336.7ZM239.7 329.8L241.0 322.2L243.8 322.7L246.4 323.3L244.4 330.8L242.0 330.2ZM244.4 330.8L246.4 323.3L249.1 324.1L251.7 324.9L249.0 332.2L246.7 331.4ZM257.8 336.2L261.8 329.5L264.1 330.9L266.5 332.4L261.9 338.7L259.9 337.4ZM269.3 344.8L274.9 339.3L276.9 341.3L278.7 343.3L272.6 348.3L271.0 346.5ZM278.2 356.0L285.0 352.1L286.4 354.5L287.6 356.9L280.4 360.2L279.3 358.0ZM285.4 378.3L293.3 377.6L293.5 380.3L293.6 383.0L285.6 383.0L285.6 380.6ZM220.3 436.2L219.0 443.8L216.2 443.3L213.6 442.7L215.6 435.2L218.0 435.8ZM215.6 435.2L213.6 442.7L210.9 441.9L208.3 441.1L211.0 433.8L213.3 434.6ZM211.0 433.8L208.3 441.1L205.7 440.1L203.1 439.0L206.5 432.0L208.7 432.9ZM206.5 432.0L203.1 439.0L200.7 437.8L198.2 436.5L202.2 429.8L204.3 430.9ZM176.3 397.0L168.6 399.0L168.0 396.4L167.4 393.7L175.2 392.4L175.7 394.7ZM175.2 392.4L167.4 393.7L167.0 391.1L166.7 388.4L174.6 387.7L174.9 390.1ZM184.4 352.0L177.9 347.6L179.6 345.4L181.3 343.3L187.4 348.3L185.9 350.1ZM187.4 348.3L181.3 343.3L183.1 341.3L185.1 339.3L190.7 344.8L189.0 346.5ZM206.5 334.0L203.1 327.0L205.7 325.9L208.3 324.9L211.0 332.2L208.7 333.1ZM211.0 332.2L208.3 324.9L210.9 324.1L213.6 323.3L215.6 330.8L213.3 331.4ZM215.6 330.8L213.6 323.3L216.2 322.7L219.0 322.2L220.3 329.8L218.0 330.2ZM246.4 323.3L248.5 315.9L251.5 316.7L254.5 317.7L251.7 324.9L249.1 324.1ZM256.9 327.0L260.2 320.0L263.0 321.4L265.8 322.8L261.8 329.5L259.3 328.2ZM261.8 329.5L265.8 322.8L268.4 324.4L271.0 326.1L266.5 332.4L264.1 330.9ZM266.5 332.4L271.0 326.1L273.5 327.9L276.0 329.8L270.9 335.7L268.7 334.0ZM270.9 335.7L276.0 329.8L278.3 331.8L280.6 333.9L274.9 339.3L272.9 337.5ZM287.6 356.9L294.8 353.6L296.1 356.4L297.2 359.2L289.7 361.9L288.7 359.4ZM293.3 377.6L301.2 376.9L301.4 380.0L301.5 383.0L293.6 383.0L293.5 380.3ZM219.0 443.8L217.6 451.4L214.5 450.9L211.5 450.1L213.6 442.7L216.2 443.3ZM208.3 441.1L205.5 448.3L202.6 447.2L199.8 446.0L203.1 439.0L205.7 440.1ZM175.0 352.1L168.1 348.2L169.7 345.7L171.4 343.1L177.9 347.6L176.4 349.8ZM177.9 347.6L171.4 343.1L173.3 340.7L175.2 338.3L181.3 343.3L179.6 345.4ZM181.3 343.3L175.2 338.3L177.3 336.0L179.4 333.9L185.1 339.3L183.1 341.3ZM185.1 339.3L179.4 333.9L181.7 331.8L184.0 329.8L189.1 335.7L187.1 337.5ZM198.2 329.5L194.2 322.8L197.0 321.4L199.8 320.0L203.1 327.0L200.7 328.2ZM203.1 327.0L199.8 320.0L202.6 318.8L205.5 317.7L208.3 324.9L205.7 325.9ZM208.3 324.9L205.5 317.7L208.5 316.7L211.5 315.9L213.6 323.3L210.9 324.1ZM213.6 323.3L211.5 315.9L214.5 315.1L217.6 314.6L219.0 322.2L216.2 322.7ZM219.0 322.2L217.6 314.6L220.7 314.1L223.8 313.8L224.5 321.5L221.7 321.8ZM224.5 321.5L223.8 313.8L226.9 313.6L230.0 313.5L230.0 321.2L227.2 321.3ZM248.5 315.9L250.6 308.4L253.9 309.4L257.2 310.4L254.5 317.7L251.5 316.7ZM254.5 317.7L257.2 310.4L260.4 311.7L263.6 313.0L260.2 320.0L257.4 318.8ZM260.2 320.0L263.6 313.0L266.7 314.5L269.7 316.1L265.8 322.8L263.0 321.4ZM265.8 322.8L269.7 316.1L272.7 317.9L275.6 319.7L271.0 326.1L268.4 324.4ZM271.0 326.1L275.6 319.7L278.4 321.7L281.1 323.8L276.0 329.8L273.5 327.9ZM297.2 359.2L304.7 356.6L305.8 359.8L306.7 363.0L299.1 365.0L298.2 362.1ZM300.4 370.9L308.2 369.6L308.8 372.9L309.1 376.3L301.2 376.9L300.9 373.9ZM291.9 417.8L298.8 421.6L297.0 424.5L295.1 427.3L288.6 422.9L290.3 420.3ZM260.2 446.0L263.6 453.0L260.4 454.3L257.2 455.6L254.5 448.3L257.4 447.2ZM248.5 450.1L250.6 457.6L247.2 458.4L243.8 459.0L242.4 451.4L245.5 450.9ZM211.5 450.1L209.4 457.6L206.1 456.6L202.8 455.6L205.5 448.3L208.5 449.3ZM205.5 448.3L202.8 455.6L199.6 454.3L196.4 453.0L199.8 446.0L202.6 447.2ZM165.2 353.6L158.0 350.4L159.5 347.3L161.2 344.4L168.1 348.2L166.6 350.9ZM184.0 329.8L178.9 323.8L181.6 321.7L184.4 319.7L189.0 326.1L186.5 327.9ZM199.8 320.0L196.4 313.0L199.6 311.7L202.8 310.4L205.5 317.7L202.6 318.8ZM205.5 317.7L202.8 310.4L206.1 309.4L209.4 308.4L211.5 315.9L208.5 316.7ZM211.5 315.9L209.4 308.4L212.8 307.6L216.2 307.0L217.6 314.6L214.5 315.1ZM217.6 314.6L216.2 307.0L219.6 306.4L223.1 306.1L223.8 313.8L220.7 314.1ZM223.8 313.8L223.1 306.1L226.5 305.9L230.0 305.8L230.0 313.5L226.9 313.6ZM230.0 305.8L230.0 298.1L233.8 298.1L237.6 298.4L236.9 306.1L233.5 305.9ZM236.9 306.1L237.6 298.4L241.4 298.8L245.2 299.3L243.8 307.0L240.4 306.4ZM243.8 307.0L245.2 299.3L248.9 300.1L252.6 300.9L250.6 308.4L247.2 307.6ZM250.6 308.4L252.6 300.9L256.3 302.0L259.9 303.2L257.2 310.4L253.9 309.4ZM269.7 316.1L273.7 309.4L277.0 311.4L280.1 313.4L275.6 319.7L272.7 317.9ZM275.6 319.7L280.1 313.4L283.2 315.6L286.2 317.9L281.1 323.8L278.4 321.7ZM304.7 356.6L312.1 353.9L313.3 357.5L314.4 361.0L306.7 363.0L305.8 359.8ZM308.2 369.6L316.1 368.2L316.6 371.9L317.1 375.6L309.1 376.3L308.8 372.9ZM304.7 409.4L312.1 412.1L310.7 415.5L309.2 418.9L302.0 415.6L303.4 412.6ZM302.0 415.6L309.2 418.9L307.5 422.2L305.7 425.5L298.8 421.6L300.5 418.7ZM298.8 421.6L305.7 425.5L303.7 428.6L301.6 431.7L295.1 427.3L297.0 424.5ZM250.6 457.6L252.6 465.1L248.9 465.9L245.2 466.7L243.8 459.0L247.2 458.4ZM178.9 442.2L173.8 448.1L171.0 445.6L168.2 443.1L173.8 437.6L176.3 439.9ZM169.1 432.6L163.1 437.6L160.7 434.7L158.4 431.7L164.9 427.3L167.0 430.0ZM150.6 383.0L142.6 383.0L142.7 379.3L142.9 375.6L150.9 376.3L150.6 379.6ZM151.8 369.6L143.9 368.2L144.7 364.6L145.6 361.0L153.3 363.0L152.4 366.3ZM202.8 310.4L200.1 303.2L203.7 302.0L207.4 300.9L209.4 308.4L206.1 309.4ZM209.4 308.4L207.4 300.9L211.1 300.1L214.8 299.3L216.2 307.0L212.8 307.6ZM280.1 313.4L284.7 307.1L288.0 309.5L291.3 312.0L286.2 317.9L283.2 315.6ZM286.2 317.9L291.3 312.0L294.4 314.7L297.4 317.5L291.8 322.9L289.0 320.4ZM312.1 353.9L319.6 351.3L320.9 355.1L322.1 359.0L314.4 361.0L313.3 357.5ZM314.4 405.0L322.1 407.0L320.9 410.9L319.6 414.7L312.1 412.1L313.3 408.5ZM305.7 425.5L312.6 429.3L310.4 432.8L308.1 436.2L301.6 431.7L303.7 428.6ZM291.8 443.1L297.4 448.5L294.4 451.3L291.3 454.0L286.2 448.1L289.0 445.6ZM286.2 448.1L291.3 454.0L288.0 456.5L284.7 458.9L280.1 452.6L283.2 450.4ZM280.1 452.6L284.7 458.9L281.2 461.2L277.7 463.3L273.7 456.6L277.0 454.6ZM273.7 456.6L277.7 463.3L274.0 465.2L270.3 467.0L266.9 460.0L270.4 458.3ZM266.9 460.0L270.3 467.0L266.5 468.6L262.6 470.1L259.9 462.8L263.4 461.5ZM252.6 465.1L254.7 472.5L250.6 473.5L246.6 474.3L245.2 466.7L248.9 465.9ZM173.8 448.1L168.7 454.0L165.6 451.3L162.6 448.5L168.2 443.1L171.0 445.6ZM158.4 431.7L151.9 436.2L149.6 432.8L147.4 429.3L154.3 425.5L156.3 428.6ZM145.6 361.0L137.9 359.0L139.1 355.1L140.4 351.3L147.9 353.9L146.7 357.5ZM147.9 353.9L140.4 351.3L141.9 347.5L143.6 343.8L150.8 347.1L149.3 350.5ZM173.8 317.9L168.7 312.0L172.0 309.5L175.3 307.1L179.9 313.4L176.8 315.6ZM200.1 303.2L197.4 295.9L201.3 294.6L205.3 293.5L207.4 300.9L203.7 302.0ZM207.4 300.9L205.3 293.5L209.4 292.5L213.4 291.7L214.8 299.3L211.1 300.1ZM284.7 458.9L289.2 465.2L285.5 467.7L281.6 469.9L277.7 463.3L281.2 461.2ZM277.7 463.3L281.6 469.9L277.7 472.0L273.6 474.0L270.3 467.0L274.0 465.2ZM246.6 474.3L247.9 481.9L243.5 482.5L239.0 483.0L238.3 475.3L242.4 474.9ZM175.3 458.9L170.8 465.2L167.1 462.6L163.6 459.9L168.7 454.0L172.0 456.5ZM143.6 343.8L136.4 340.6L138.4 336.6L140.6 332.8L147.4 336.7L145.4 340.2ZM162.6 317.5L157.0 312.0L160.2 309.0L163.6 306.1L168.7 312.0L165.6 314.7ZM182.3 302.7L178.4 296.1L182.3 294.0L186.4 292.0L189.7 299.0L186.0 300.8ZM189.7 299.0L186.4 292.0L190.5 290.3L194.7 288.7L197.4 295.9L193.5 297.4ZM309.1 318.5L315.2 313.5L318.2 317.2L321.1 321.0L314.6 325.4L311.9 321.9ZM323.6 425.4L330.8 428.7L328.7 432.9L326.3 437.1L319.4 433.2L321.6 429.4ZM281.6 469.9L285.6 476.6L281.4 478.9L277.0 481.0L273.6 474.0L277.7 472.0ZM247.9 481.9L249.3 489.5L244.5 490.2L239.7 490.7L239.0 483.0L243.5 482.5ZM170.8 465.2L166.2 471.6L162.3 468.8L158.5 465.8L163.6 459.9L167.1 462.6ZM140.6 433.2L133.7 437.1L131.3 432.9L129.2 428.7L136.4 425.4L138.4 429.4ZM136.4 340.6L129.2 337.3L131.3 333.1L133.7 328.9L140.6 332.8L138.4 336.6ZM170.8 300.8L166.2 294.4L170.2 291.8L174.4 289.4L178.4 296.1L174.5 298.3ZM178.4 296.1L174.4 289.4L178.6 287.1L183.0 285.0L186.4 292.0L182.3 294.0ZM249.3 276.5L250.7 268.9L255.8 269.9L260.8 271.1L258.8 278.6L254.1 277.5ZM315.2 313.5L321.3 308.5L324.5 312.5L327.6 316.6L321.1 321.0L318.2 317.2ZM151.4 459.4L145.7 464.9L142.1 461.3L138.7 457.5L144.8 452.5L148.0 456.0ZM144.8 452.5L138.7 457.5L135.5 453.5L132.4 449.4L138.9 445.0L141.8 448.8ZM120.5 364.2L112.6 362.9L113.7 357.9L114.9 353.0L122.6 355.0L121.4 359.6ZM129.2 337.3L122.0 334.0L124.3 329.5L126.8 325.1L133.7 328.9L131.3 333.1ZM144.8 313.5L138.7 308.5L142.1 304.7L145.7 301.1L151.4 306.6L148.0 310.0ZM174.4 289.4L170.4 282.7L175.0 280.3L179.6 278.0L183.0 285.0L178.6 287.1ZM250.7 268.9L252.1 261.3L257.5 262.4L262.9 263.7L260.8 271.1L255.8 269.9ZM260.8 271.1L262.9 263.7L268.2 265.2L273.5 266.9L270.8 274.2L265.8 272.5ZM338.0 334.0L345.2 330.8L347.4 335.7L349.4 340.7L342.0 343.4L340.1 338.7ZM345.1 413.0L352.8 415.0L351.2 420.2L349.4 425.3L342.0 422.6L343.7 417.8ZM289.6 483.3L293.6 490.0L288.7 492.6L283.7 495.0L280.4 488.0L285.0 485.7ZM240.4 498.4L241.1 506.1L235.5 506.4L230.0 506.6L230.0 498.8L235.2 498.7ZM153.4 471.7L148.3 477.6L144.1 474.1L140.1 470.4L145.7 464.9L149.5 468.4ZM138.7 457.5L132.6 462.4L129.2 458.2L125.9 453.9L132.4 449.4L135.5 453.5ZM126.8 440.9L119.9 444.8L117.3 440.1L114.8 435.2L122.0 432.0L124.3 436.5ZM122.0 334.0L114.8 330.8L117.3 325.9L119.9 321.2L126.8 325.1L124.3 329.5ZM126.8 325.1L119.9 321.2L122.8 316.6L125.9 312.1L132.4 316.6L129.5 320.8ZM138.7 308.5L132.6 303.6L136.3 299.5L140.1 295.6L145.7 301.1L142.1 304.7ZM170.4 282.7L166.4 276.0L171.3 273.4L176.3 271.0L179.6 278.0L175.0 280.3ZM179.6 278.0L176.3 271.0L181.4 268.8L186.5 266.9L189.2 274.2L184.4 276.0ZM262.9 263.7L265.0 256.2L270.6 257.8L276.2 259.6L273.5 266.9L268.2 265.2ZM345.2 330.8L352.4 327.5L354.8 332.8L356.9 338.1L349.4 340.7L347.4 335.7ZM302.9 484.2L307.5 490.5L302.6 493.7L297.5 496.7L293.6 490.0L298.3 487.2ZM241.1 506.1L241.8 513.8L235.9 514.2L230.0 514.3L230.0 506.6L235.5 506.4ZM157.1 484.2L152.5 490.5L147.8 487.1L143.2 483.6L148.3 477.6L152.6 481.0ZM148.3 477.6L143.2 483.6L138.8 479.8L134.5 475.8L140.1 470.4L144.1 474.1ZM125.9 453.9L119.4 458.3L116.1 453.5L113.0 448.6L119.9 444.8L122.8 449.4ZM119.9 444.8L113.0 448.6L110.2 443.6L107.6 438.5L114.8 435.2L117.3 440.1ZM104.8 361.5L97.0 360.2L98.1 354.6L99.5 349.0L107.2 351.0L105.9 356.3ZM114.8 330.8L107.6 327.5L110.2 322.4L113.0 317.4L119.9 321.2L117.3 325.9ZM119.9 321.2L113.0 317.4L116.1 312.5L119.4 307.7L125.9 312.1L122.8 316.6ZM125.9 312.1L119.4 307.7L122.9 303.1L126.5 298.6L132.6 303.6L129.2 307.8ZM132.6 303.6L126.5 298.6L130.4 294.3L134.5 290.2L140.1 295.6L136.3 299.5ZM166.4 276.0L162.5 269.3L167.6 266.6L172.9 264.0L176.3 271.0L171.3 273.4ZM176.3 271.0L172.9 264.0L178.3 261.7L183.8 259.6L186.5 266.9L181.4 268.8ZM265.0 256.2L267.0 248.7L273.0 250.4L278.9 252.4L276.2 259.6L270.6 257.8ZM352.4 327.5L359.6 324.3L362.1 329.8L364.4 335.5L356.9 338.1L354.8 332.8ZM307.5 490.5L312.0 496.9L306.8 500.2L301.5 503.4L297.5 496.7L302.6 493.7ZM241.8 513.8L242.5 521.5L236.2 521.9L230.0 522.0L230.0 514.3L235.9 514.2ZM152.5 490.5L148.0 496.9L142.9 493.3L138.1 489.5L143.2 483.6L147.8 487.1ZM143.2 483.6L138.1 489.5L133.4 485.5L128.9 481.3L134.5 475.8L138.8 479.8ZM126.5 467.4L120.5 472.3L116.6 467.6L112.9 462.7L119.4 458.3L122.9 462.9ZM119.4 458.3L112.9 462.7L109.4 457.7L106.2 452.5L113.0 448.6L116.1 453.5ZM97.0 360.2L89.2 358.9L90.4 352.9L91.9 347.0L99.5 349.0L98.1 354.6ZM107.6 327.5L100.4 324.3L103.2 318.8L106.2 313.5L113.0 317.4L110.2 322.4ZM119.4 307.7L112.9 303.3L116.6 298.4L120.5 293.7L126.5 298.6L122.9 303.1ZM126.5 298.6L120.5 293.7L124.6 289.1L128.9 284.7L134.5 290.2L130.4 294.3ZM162.5 269.3L158.5 262.6L164.0 259.7L169.6 257.0L172.9 264.0L167.6 266.6ZM172.9 264.0L169.6 257.0L175.3 254.6L181.1 252.4L183.8 259.6L178.3 261.7Z" fill="#3e57aa" stroke="#3e57aa" stroke-width="0.6"/>
<path d="M230.0 383.0L222.1 383.0L222.1 382.7L222.1 382.3L222.1 382.0L222.2 381.7L222.2 381.3L222.3 381.0L222.4 380.7L222.5 380.4L222.7 380.0L222.8 379.7L223.0 379.4L223.1 379.1L223.3 378.9L223.5 378.6L223.7 378.3L223.9 378.0L224.1 377.8L224.4 377.5L230.0 383.0ZM236.9 379.1L243.8 375.3L244.1 375.9L244.4 376.5L244.7 377.1L244.9 377.7L245.2 378.4L245.3 379.0L245.5 379.7L245.6 380.3L245.8 381.0L245.8 381.7L245.9 382.3L245.9 383.0L237.9 383.0L237.9 382.7L237.9 382.3L237.9 382.0L237.8 381.7L237.8 381.3L237.7 381.0L237.6 380.7L237.5 380.4L237.3 380.0L237.2 379.7L237.0 379.4ZM236.9 386.9L243.8 390.7L243.4 391.3L243.0 391.9L242.6 392.4L242.2 392.9L241.7 393.4L241.2 393.9L240.7 394.4L240.2 394.8L239.7 395.3L239.1 395.7L238.5 396.0L237.9 396.4L234.0 389.7L234.3 389.5L234.6 389.3L234.8 389.1L235.1 388.9L235.4 388.7L235.6 388.5L235.9 388.2L236.1 388.0L236.3 387.7L236.5 387.4L236.7 387.1ZM234.0 389.7L237.9 396.4L237.3 396.7L236.7 397.0L236.1 397.3L235.4 397.5L234.8 397.7L234.1 397.9L233.4 398.1L232.8 398.2L232.1 398.3L231.4 398.4L230.7 398.4L230.0 398.4L230.0 390.7L230.3 390.7L230.7 390.7L231.0 390.7L231.4 390.6L231.7 390.5L232.1 390.5L232.4 390.4L232.7 390.3L233.0 390.1L233.4 390.0L233.7 389.8ZM230.0 390.7L230.0 398.4L229.3 398.4L228.6 398.4L227.9 398.3L227.2 398.2L226.6 398.1L225.9 397.9L225.2 397.7L224.6 397.5L223.9 397.3L223.3 397.0L222.7 396.7L222.1 396.4L226.0 389.7L226.3 389.8L226.6 390.0L227.0 390.1L227.3 390.3L227.6 390.4L227.9 390.5L228.3 390.5L228.6 390.6L229.0 390.7L229.3 390.7L229.7 390.7ZM226.0 389.7L222.1 396.4L221.5 396.0L220.9 395.7L220.3 395.3L219.8 394.8L219.3 394.4L218.8 393.9L218.3 393.4L217.8 392.9L217.4 392.4L217.0 391.9L216.6 391.3L216.2 390.7L223.1 386.9L223.3 387.1L223.5 387.4L223.7 387.7L223.9 388.0L224.1 388.2L224.4 388.5L224.6 388.7L224.9 388.9L225.2 389.1L225.4 389.3L225.7 389.5ZM226.0 376.3L222.1 369.6L222.7 369.3L223.3 369.0L223.9 368.7L224.6 368.5L225.2 368.3L225.9 368.1L226.6 367.9L227.2 367.8L227.9 367.7L228.6 367.6L229.3 367.6L230.0 367.6L230.0 375.3L229.7 375.3L229.3 375.3L229.0 375.3L228.6 375.4L228.3 375.5L227.9 375.5L227.6 375.6L227.3 375.7L227.0 375.9L226.6 376.0L226.3 376.2ZM241.2 372.1L246.9 366.6L247.6 367.3L248.3 368.1L248.9 368.9L249.5 369.7L250.1 370.6L250.6 371.4L243.8 375.3L243.4 374.7L243.0 374.1L242.6 373.6L242.2 373.1L241.7 372.6ZM237.9 396.4L241.9 403.1L241.0 403.5L240.1 404.0L239.1 404.4L238.2 404.8L237.2 405.1L236.2 405.4L234.1 397.9L234.8 397.7L235.4 397.5L236.1 397.3L236.7 397.0L237.3 396.7ZM230.0 398.4L230.0 406.2L229.0 406.1L227.9 406.1L226.9 406.0L225.9 405.8L224.8 405.6L223.8 405.4L225.9 397.9L226.6 398.1L227.2 398.2L227.9 398.3L228.6 398.4L229.3 398.4ZM225.9 397.9L223.8 405.4L222.8 405.1L221.8 404.8L220.9 404.4L219.9 404.0L219.0 403.5L218.1 403.1L222.1 396.4L222.7 396.7L223.3 397.0L223.9 397.3L224.6 397.5L225.2 397.7ZM222.1 396.4L218.1 403.1L217.2 402.5L216.3 402.0L215.5 401.4L214.7 400.7L213.9 400.1L213.1 399.4L218.8 393.9L219.3 394.4L219.8 394.8L220.3 395.3L220.9 395.7L221.5 396.0ZM216.2 390.7L209.4 394.6L208.9 393.7L208.4 392.8L208.0 391.9L207.6 390.9L207.3 390.0L207.0 389.0L214.7 387.0L214.8 387.6L215.1 388.3L215.3 388.9L215.6 389.5L215.9 390.1ZM216.2 375.3L209.4 371.4L209.9 370.6L210.5 369.7L211.1 368.9L211.7 368.1L212.4 367.3L213.1 366.6L218.8 372.1L218.3 372.6L217.8 373.1L217.4 373.6L217.0 374.1L216.6 374.7ZM218.8 372.1L213.1 366.6L213.9 365.9L214.7 365.3L215.5 364.6L216.3 364.0L217.2 363.5L218.1 362.9L222.1 369.6L221.5 370.0L220.9 370.3L220.3 370.7L219.8 371.2L219.3 371.6ZM222.1 369.6L218.1 362.9L219.0 362.5L219.9 362.0L220.9 361.6L221.8 361.2L222.8 360.9L223.8 360.6L225.9 368.1L225.2 368.3L224.6 368.5L223.9 368.7L223.3 369.0L222.7 369.3ZM225.9 368.1L223.8 360.6L224.8 360.4L225.9 360.2L226.9 360.0L227.9 359.9L229.0 359.9L230.0 359.8L230.0 367.6L229.3 367.6L228.6 367.6L227.9 367.7L227.2 367.8L226.6 367.9ZM230.0 359.8L230.0 352.1L231.4 352.1L232.8 352.2L234.1 352.4L235.5 352.6L236.9 352.8L238.2 353.2L236.2 360.6L235.2 360.4L234.1 360.2L233.1 360.0L232.1 359.9L231.0 359.9ZM241.9 403.1L245.9 409.8L244.7 410.4L243.4 411.0L242.2 411.5L240.9 412.0L239.6 412.5L238.2 412.8L236.2 405.4L237.2 405.1L238.2 404.8L239.1 404.4L240.1 404.0L241.0 403.5ZM230.0 406.2L230.0 413.9L228.6 413.9L227.2 413.8L225.9 413.6L224.5 413.4L223.1 413.2L221.8 412.8L223.8 405.4L224.8 405.6L225.9 405.8L226.9 406.0L227.9 406.1L229.0 406.1ZM223.8 405.4L221.8 412.8L220.4 412.5L219.1 412.0L217.8 411.5L216.6 411.0L215.3 410.4L214.1 409.8L218.1 403.1L219.0 403.5L219.9 404.0L220.9 404.4L221.8 404.8L222.8 405.1ZM207.0 389.0L199.3 391.0L199.0 389.7L198.7 388.4L198.5 387.0L198.3 385.7L198.3 384.3L198.2 383.0L206.2 383.0L206.2 384.0L206.3 385.0L206.4 386.0L206.5 387.0L206.7 388.0ZM206.2 383.0L198.2 383.0L198.3 381.7L198.3 380.3L198.5 379.0L198.7 377.6L199.0 376.3L199.3 375.0L207.0 377.0L206.7 378.0L206.5 379.0L206.4 380.0L206.3 381.0L206.2 382.0ZM223.8 360.6L221.8 353.2L223.1 352.8L224.5 352.6L225.9 352.4L227.2 352.2L228.6 352.1L230.0 352.1L230.0 359.8L229.0 359.9L227.9 359.9L226.9 360.0L225.9 360.2L224.8 360.4ZM230.0 352.1L230.0 344.4L231.7 344.4L233.5 344.5L235.2 344.7L236.9 345.0L235.5 352.6L234.1 352.4L232.8 352.2L231.4 352.1ZM254.3 363.1L260.4 358.2L261.5 359.5L262.5 360.9L263.5 362.3L264.4 363.7L257.5 367.6L256.8 366.4L256.0 365.3L255.2 364.2ZM257.5 367.6L264.4 363.7L265.2 365.2L266.0 366.7L266.7 368.2L267.3 369.8L259.9 372.4L259.4 371.2L258.8 369.9L258.2 368.7ZM259.9 372.4L267.3 369.8L267.9 371.4L268.4 373.0L268.8 374.6L269.1 376.3L261.3 377.6L261.0 376.3L260.7 375.0L260.3 373.7ZM261.3 377.6L269.1 376.3L269.4 378.0L269.6 379.6L269.7 381.3L269.7 383.0L261.8 383.0L261.7 381.7L261.7 380.3L261.5 379.0ZM259.9 393.6L267.3 396.2L266.7 397.8L266.0 399.3L265.2 400.8L264.4 402.3L257.5 398.4L258.2 397.3L258.8 396.1L259.4 394.8ZM235.5 413.4L236.9 421.0L235.2 421.3L233.5 421.5L231.7 421.6L230.0 421.6L230.0 413.9L231.4 413.9L232.8 413.8L234.1 413.6ZM230.0 413.9L230.0 421.6L228.3 421.6L226.5 421.5L224.8 421.3L223.1 421.0L224.5 413.4L225.9 413.6L227.2 413.8L228.6 413.9ZM224.5 413.4L223.1 421.0L221.4 420.7L219.7 420.3L218.1 419.8L216.4 419.3L219.1 412.0L220.4 412.5L221.8 412.8L223.1 413.2ZM214.1 409.8L210.1 416.4L208.7 415.6L207.2 414.6L205.8 413.6L204.5 412.6L209.6 406.7L210.7 407.5L211.8 408.3L212.9 409.1ZM198.7 388.4L190.9 389.7L190.6 388.0L190.4 386.4L190.3 384.7L190.3 383.0L198.2 383.0L198.3 384.3L198.3 385.7L198.5 387.0ZM198.2 383.0L190.3 383.0L190.3 381.3L190.4 379.6L190.6 378.0L190.9 376.3L198.7 377.6L198.5 379.0L198.3 380.3L198.3 381.7ZM205.7 363.1L199.6 358.2L200.7 356.9L201.9 355.7L203.2 354.5L204.5 353.4L209.6 359.3L208.5 360.2L207.5 361.2L206.6 362.1ZM209.6 359.3L204.5 353.4L205.8 352.4L207.2 351.4L208.7 350.4L210.1 349.6L214.1 356.2L212.9 356.9L211.8 357.7L210.7 358.5ZM219.1 354.0L216.4 346.7L218.1 346.2L219.7 345.7L221.4 345.3L223.1 345.0L224.5 352.6L223.1 352.8L221.8 353.2L220.4 353.5ZM230.0 344.4L230.0 336.7L232.1 336.7L234.2 336.8L236.2 337.1L238.3 337.4L236.9 345.0L235.2 344.7L233.5 344.5L231.7 344.4ZM255.5 353.4L260.6 347.5L262.2 348.8L263.7 350.2L265.1 351.7L266.5 353.2L260.4 358.2L259.3 356.9L258.1 355.7L256.8 354.5ZM269.1 376.3L276.9 375.0L277.3 377.0L277.5 379.0L277.6 381.0L277.7 383.0L269.7 383.0L269.7 381.3L269.6 379.6L269.4 378.0ZM236.9 421.0L238.3 428.6L236.2 428.9L234.2 429.2L232.1 429.3L230.0 429.3L230.0 421.6L231.7 421.6L233.5 421.5L235.2 421.3ZM230.0 421.6L230.0 429.3L227.9 429.3L225.8 429.2L223.8 428.9L221.7 428.6L223.1 421.0L224.8 421.3L226.5 421.5L228.3 421.6ZM223.1 421.0L221.7 428.6L219.7 428.2L217.7 427.8L215.7 427.2L213.7 426.5L216.4 419.3L218.1 419.8L219.7 420.3L221.4 420.7ZM204.5 412.6L199.4 418.5L197.8 417.2L196.3 415.8L194.9 414.3L193.5 412.8L199.6 407.8L200.7 409.1L201.9 410.3L203.2 411.5ZM195.6 402.3L188.7 406.2L187.7 404.4L186.8 402.6L186.0 400.7L185.2 398.8L192.7 396.2L193.3 397.8L194.0 399.3L194.8 400.8ZM192.7 369.8L185.2 367.2L186.0 365.3L186.8 363.4L187.7 361.6L188.7 359.8L195.6 363.7L194.8 365.2L194.0 366.7L193.3 368.2ZM238.3 337.4L239.7 329.8L242.0 330.2L244.4 330.8L242.3 338.2L240.3 337.8ZM269.0 356.4L275.6 352.0L276.9 354.0L278.2 356.0L271.3 359.8L270.2 358.1ZM277.7 383.0L285.6 383.0L285.6 385.4L285.4 387.7L277.5 387.0L277.6 385.0ZM274.8 398.8L282.3 401.5L281.4 403.7L280.4 405.8L273.2 402.6L274.0 400.7ZM273.2 402.6L280.4 405.8L279.3 408.0L278.2 410.0L271.3 406.2L272.3 404.4ZM271.3 406.2L278.2 410.0L276.9 412.0L275.6 414.0L269.0 409.6L270.2 407.9ZM266.5 412.8L272.6 417.7L271.0 419.5L269.3 421.2L263.7 415.8L265.1 414.3ZM263.7 415.8L269.3 421.2L267.6 422.9L265.7 424.4L260.6 418.5L262.2 417.2ZM260.6 418.5L265.7 424.4L263.9 425.9L261.9 427.3L257.3 421.0L259.0 419.8ZM257.3 421.0L261.9 427.3L259.9 428.6L257.8 429.8L253.8 423.1L255.6 422.1ZM253.8 423.1L257.8 429.8L255.7 430.9L253.5 432.0L250.1 425.0L252.0 424.1ZM250.1 425.0L253.5 432.0L251.3 432.9L249.0 433.8L246.3 426.5L248.2 425.8ZM246.3 426.5L249.0 433.8L246.7 434.6L244.4 435.2L242.3 427.8L244.3 427.2ZM242.3 427.8L244.4 435.2L242.0 435.8L239.7 436.2L238.3 428.6L240.3 428.2ZM238.3 428.6L239.7 436.2L237.3 436.6L234.8 436.8L234.2 429.2L236.2 428.9ZM234.2 429.2L234.8 436.8L232.4 437.0L230.0 437.1L230.0 429.3L232.1 429.3ZM230.0 429.3L230.0 437.1L227.6 437.0L225.2 436.8L225.8 429.2L227.9 429.3ZM225.8 429.2L225.2 436.8L222.7 436.6L220.3 436.2L221.7 428.6L223.8 428.9ZM221.7 428.6L220.3 436.2L218.0 435.8L215.6 435.2L217.7 427.8L219.7 428.2ZM206.2 423.1L202.2 429.8L200.1 428.6L198.1 427.3L202.7 421.0L204.4 422.1ZM186.8 402.6L179.6 405.8L178.6 403.7L177.7 401.5L185.2 398.8L186.0 400.7ZM182.5 387.0L174.6 387.7L174.4 385.4L174.4 383.0L182.3 383.0L182.4 385.0ZM182.3 383.0L174.4 383.0L174.4 380.6L174.6 378.3L182.5 379.0L182.4 381.0ZM182.5 379.0L174.6 378.3L174.9 375.9L175.2 373.6L183.1 375.0L182.7 377.0ZM183.1 375.0L175.2 373.6L175.7 371.3L176.3 369.0L184.0 371.0L183.5 373.0ZM184.0 371.0L176.3 369.0L177.0 366.7L177.7 364.5L185.2 367.2L184.5 369.1ZM185.2 367.2L177.7 364.5L178.6 362.3L179.6 360.2L186.8 363.4L186.0 365.3ZM188.7 359.8L181.8 356.0L183.1 354.0L184.4 352.0L191.0 356.4L189.8 358.1ZM217.7 338.2L215.6 330.8L218.0 330.2L220.3 329.8L221.7 337.4L219.7 337.8ZM249.0 332.2L251.7 324.9L254.3 325.9L256.9 327.0L253.5 334.0L251.3 333.1ZM253.5 334.0L256.9 327.0L259.3 328.2L261.8 329.5L257.8 336.2L255.7 335.1ZM272.6 348.3L278.7 343.3L280.4 345.4L282.1 347.6L275.6 352.0L274.1 350.1ZM275.6 352.0L282.1 347.6L283.6 349.8L285.0 352.1L278.2 356.0L276.9 354.0ZM280.4 405.8L287.6 409.1L286.4 411.5L285.0 413.9L278.2 410.0L279.3 408.0ZM278.2 410.0L285.0 413.9L283.6 416.2L282.1 418.4L275.6 414.0L276.9 412.0ZM275.6 414.0L282.1 418.4L280.4 420.6L278.7 422.7L272.6 417.7L274.1 415.9ZM225.2 436.8L224.5 444.5L221.7 444.2L219.0 443.8L220.3 436.2L222.7 436.6ZM202.2 429.8L198.2 436.5L195.9 435.1L193.5 433.6L198.1 427.3L200.1 428.6ZM181.8 410.0L175.0 413.9L173.6 411.5L172.4 409.1L179.6 405.8L180.7 408.0ZM179.6 405.8L172.4 409.1L171.3 406.6L170.3 404.1L177.7 401.5L178.6 403.7ZM177.7 401.5L170.3 404.1L169.4 401.6L168.6 399.0L176.3 397.0L177.0 399.3ZM174.6 387.7L166.7 388.4L166.5 385.7L166.4 383.0L174.4 383.0L174.4 385.4ZM181.8 356.0L175.0 352.1L176.4 349.8L177.9 347.6L184.4 352.0L183.1 354.0ZM190.7 344.8L185.1 339.3L187.1 337.5L189.1 335.7L194.3 341.6L192.4 343.1ZM194.3 341.6L189.1 335.7L191.3 334.0L193.5 332.4L198.1 338.7L196.1 340.1ZM202.2 336.2L198.2 329.5L200.7 328.2L203.1 327.0L206.5 334.0L204.3 335.1ZM251.7 324.9L254.5 317.7L257.4 318.8L260.2 320.0L256.9 327.0L254.3 325.9ZM285.0 352.1L291.9 348.2L293.4 350.9L294.8 353.6L287.6 356.9L286.4 354.5ZM289.7 404.1L297.2 406.8L296.1 409.6L294.8 412.4L287.6 409.1L288.7 406.6ZM287.6 409.1L294.8 412.4L293.4 415.1L291.9 417.8L285.0 413.9L286.4 411.5ZM285.0 413.9L291.9 417.8L290.3 420.3L288.6 422.9L282.1 418.4L283.6 416.2ZM282.1 418.4L288.6 422.9L286.7 425.3L284.8 427.7L278.7 422.7L280.4 420.6ZM278.7 422.7L284.8 427.7L282.7 430.0L280.6 432.1L274.9 426.7L276.9 424.7ZM251.7 441.1L254.5 448.3L251.5 449.3L248.5 450.1L246.4 442.7L249.1 441.9ZM246.4 442.7L248.5 450.1L245.5 450.9L242.4 451.4L241.0 443.8L243.8 443.3ZM235.5 444.5L236.2 452.2L233.1 452.4L230.0 452.5L230.0 444.8L232.8 444.7ZM230.0 444.8L230.0 452.5L226.9 452.4L223.8 452.2L224.5 444.5L227.2 444.7ZM224.5 444.5L223.8 452.2L220.7 451.9L217.6 451.4L219.0 443.8L221.7 444.2ZM203.1 439.0L199.8 446.0L197.0 444.6L194.2 443.2L198.2 436.5L200.7 437.8ZM198.2 436.5L194.2 443.2L191.6 441.6L189.0 439.9L193.5 433.6L195.9 435.1ZM193.5 433.6L189.0 439.9L186.5 438.1L184.0 436.2L189.1 430.3L191.3 432.0ZM181.3 422.7L175.2 427.7L173.3 425.3L171.4 422.9L177.9 418.4L179.6 420.6ZM177.9 418.4L171.4 422.9L169.7 420.3L168.1 417.8L175.0 413.9L176.4 416.2ZM175.0 413.9L168.1 417.8L166.6 415.1L165.2 412.4L172.4 409.1L173.6 411.5ZM172.4 409.1L165.2 412.4L163.9 409.6L162.8 406.8L170.3 404.1L171.3 406.6ZM170.3 404.1L162.8 406.8L161.8 403.9L160.9 401.0L168.6 399.0L169.4 401.6ZM168.6 399.0L160.9 401.0L160.2 398.0L159.6 395.1L167.4 393.7L168.0 396.4ZM167.4 393.7L159.6 395.1L159.1 392.1L158.8 389.1L166.7 388.4L167.0 391.1ZM166.7 388.4L158.8 389.1L158.6 386.0L158.5 383.0L166.4 383.0L166.5 385.7ZM172.4 356.9L165.2 353.6L166.6 350.9L168.1 348.2L175.0 352.1L173.6 354.5ZM189.1 335.7L184.0 329.8L186.5 327.9L189.0 326.1L193.5 332.4L191.3 334.0ZM193.5 332.4L189.0 326.1L191.6 324.4L194.2 322.8L198.2 329.5L195.9 330.9ZM276.0 329.8L281.1 323.8L283.7 326.1L286.2 328.4L280.6 333.9L278.3 331.8ZM301.2 376.9L309.1 376.3L309.4 379.6L309.4 383.0L301.5 383.0L301.4 380.0ZM297.2 406.8L304.7 409.4L303.4 412.6L302.0 415.6L294.8 412.4L296.1 409.6ZM294.8 412.4L302.0 415.6L300.5 418.7L298.8 421.6L291.9 417.8L293.4 415.1ZM288.6 422.9L295.1 427.3L293.0 430.0L290.9 432.6L284.8 427.7L286.7 425.3ZM284.8 427.7L290.9 432.6L288.6 435.2L286.2 437.6L280.6 432.1L282.7 430.0ZM265.8 443.2L269.7 449.9L266.7 451.5L263.6 453.0L260.2 446.0L263.0 444.6ZM242.4 451.4L243.8 459.0L240.4 459.6L236.9 459.9L236.2 452.2L239.3 451.9ZM223.8 452.2L223.1 459.9L219.6 459.6L216.2 459.0L217.6 451.4L220.7 451.9ZM217.6 451.4L216.2 459.0L212.8 458.4L209.4 457.6L211.5 450.1L214.5 450.9ZM199.8 446.0L196.4 453.0L193.3 451.5L190.3 449.9L194.2 443.2L197.0 444.6ZM194.2 443.2L190.3 449.9L187.3 448.1L184.4 446.3L189.0 439.9L191.6 441.6ZM189.0 439.9L184.4 446.3L181.6 444.3L178.9 442.2L184.0 436.2L186.5 438.1ZM184.0 436.2L178.9 442.2L176.3 439.9L173.8 437.6L179.4 432.1L181.7 434.2ZM179.4 432.1L173.8 437.6L171.4 435.2L169.1 432.6L175.2 427.7L177.3 430.0ZM175.2 427.7L169.1 432.6L167.0 430.0L164.9 427.3L171.4 422.9L173.3 425.3ZM171.4 422.9L164.9 427.3L163.0 424.5L161.2 421.6L168.1 417.8L169.7 420.3ZM165.2 412.4L158.0 415.6L156.6 412.6L155.3 409.4L162.8 406.8L163.9 409.6ZM162.8 406.8L155.3 409.4L154.2 406.2L153.3 403.0L160.9 401.0L161.8 403.9ZM160.9 401.0L153.3 403.0L152.4 399.7L151.8 396.4L159.6 395.1L160.2 398.0ZM158.5 383.0L150.6 383.0L150.6 379.6L150.9 376.3L158.8 376.9L158.6 380.0ZM189.0 326.1L184.4 319.7L187.3 317.9L190.3 316.1L194.2 322.8L191.6 324.4ZM194.2 322.8L190.3 316.1L193.3 314.5L196.4 313.0L199.8 320.0L197.0 321.4ZM257.2 310.4L259.9 303.2L263.4 304.5L266.9 306.0L263.6 313.0L260.4 311.7ZM263.6 313.0L266.9 306.0L270.4 307.7L273.7 309.4L269.7 316.1L266.7 314.5ZM281.1 323.8L286.2 317.9L289.0 320.4L291.8 322.9L286.2 328.4L283.7 326.1ZM309.1 376.3L317.1 375.6L317.3 379.3L317.4 383.0L309.4 383.0L309.4 379.6ZM306.7 403.0L314.4 405.0L313.3 408.5L312.1 412.1L304.7 409.4L305.8 406.2ZM295.1 427.3L301.6 431.7L299.3 434.7L296.9 437.6L290.9 432.6L293.0 430.0ZM290.9 432.6L296.9 437.6L294.4 440.4L291.8 443.1L286.2 437.6L288.6 435.2ZM286.2 437.6L291.8 443.1L289.0 445.6L286.2 448.1L281.1 442.2L283.7 439.9ZM281.1 442.2L286.2 448.1L283.2 450.4L280.1 452.6L275.6 446.3L278.4 444.3ZM275.6 446.3L280.1 452.6L277.0 454.6L273.7 456.6L269.7 449.9L272.7 448.1ZM269.7 449.9L273.7 456.6L270.4 458.3L266.9 460.0L263.6 453.0L266.7 451.5ZM216.2 459.0L214.8 466.7L211.1 465.9L207.4 465.1L209.4 457.6L212.8 458.4ZM209.4 457.6L207.4 465.1L203.7 464.0L200.1 462.8L202.8 455.6L206.1 456.6ZM202.8 455.6L200.1 462.8L196.6 461.5L193.1 460.0L196.4 453.0L199.6 454.3ZM184.4 446.3L179.9 452.6L176.8 450.4L173.8 448.1L178.9 442.2L181.6 444.3ZM164.9 427.3L158.4 431.7L156.3 428.6L154.3 425.5L161.2 421.6L163.0 424.5ZM153.3 403.0L145.6 405.0L144.7 401.4L143.9 397.8L151.8 396.4L152.4 399.7ZM150.9 389.7L142.9 390.4L142.7 386.7L142.6 383.0L150.6 383.0L150.6 386.4ZM153.3 363.0L145.6 361.0L146.7 357.5L147.9 353.9L155.3 356.6L154.2 359.8ZM155.3 356.6L147.9 353.9L149.3 350.5L150.8 347.1L158.0 350.4L156.6 353.4ZM184.4 319.7L179.9 313.4L183.0 311.4L186.3 309.4L190.3 316.1L187.3 317.9ZM190.3 316.1L186.3 309.4L189.6 307.7L193.1 306.0L196.4 313.0L193.3 314.5ZM196.4 313.0L193.1 306.0L196.6 304.5L200.1 303.2L202.8 310.4L199.6 311.7ZM216.2 307.0L214.8 299.3L218.6 298.8L222.4 298.4L223.1 306.1L219.6 306.4ZM223.1 306.1L222.4 298.4L226.2 298.1L230.0 298.1L230.0 305.8L226.5 305.9ZM230.0 298.1L230.0 290.3L234.2 290.4L238.3 290.7L237.6 298.4L233.8 298.1ZM237.6 298.4L238.3 290.7L242.4 291.1L246.6 291.7L245.2 299.3L241.4 298.8ZM273.7 309.4L277.7 302.7L281.2 304.8L284.7 307.1L280.1 313.4L277.0 311.4ZM317.1 375.6L325.0 374.9L325.2 379.0L325.3 383.0L317.4 383.0L317.3 379.3ZM316.1 397.8L323.9 399.1L323.1 403.1L322.1 407.0L314.4 405.0L315.3 401.4ZM301.6 431.7L308.1 436.2L305.6 439.4L303.0 442.6L296.9 437.6L299.3 434.7ZM296.9 437.6L303.0 442.6L300.3 445.6L297.4 448.5L291.8 443.1L294.4 440.4ZM179.9 452.6L175.3 458.9L172.0 456.5L168.7 454.0L173.8 448.1L176.8 450.4ZM154.3 425.5L147.4 429.3L145.4 425.8L143.6 422.2L150.8 418.9L152.5 422.2ZM147.9 412.1L140.4 414.7L139.1 410.9L137.9 407.0L145.6 405.0L146.7 408.5ZM145.6 405.0L137.9 407.0L136.9 403.1L136.1 399.1L143.9 397.8L144.7 401.4ZM142.9 390.4L135.0 391.1L134.8 387.0L134.7 383.0L142.6 383.0L142.7 386.7ZM179.9 313.4L175.3 307.1L178.8 304.8L182.3 302.7L186.3 309.4L183.0 311.4ZM193.1 306.0L189.7 299.0L193.5 297.4L197.4 295.9L200.1 303.2L196.6 304.5ZM238.3 290.7L239.0 283.0L243.5 283.5L247.9 284.1L246.6 291.7L242.4 291.1ZM246.6 291.7L247.9 284.1L252.4 285.0L256.7 286.0L254.7 293.5L250.6 292.5ZM254.7 293.5L256.7 286.0L261.1 287.3L265.3 288.7L262.6 295.9L258.7 294.6ZM277.7 302.7L281.6 296.1L285.5 298.3L289.2 300.8L284.7 307.1L281.2 304.8ZM325.0 374.9L332.9 374.3L333.2 378.6L333.3 383.0L325.3 383.0L325.2 379.0ZM323.9 399.1L331.7 400.4L330.8 404.7L329.8 409.0L322.1 407.0L323.1 403.1ZM308.1 436.2L314.6 440.6L311.9 444.1L309.1 447.5L303.0 442.6L305.6 439.4ZM303.0 442.6L309.1 447.5L306.1 450.8L303.0 454.0L297.4 448.5L300.3 445.6ZM297.4 448.5L303.0 454.0L299.8 457.0L296.4 459.9L291.3 454.0L294.4 451.3ZM291.3 454.0L296.4 459.9L292.9 462.6L289.2 465.2L284.7 458.9L288.0 456.5ZM147.4 429.3L140.6 433.2L138.4 429.4L136.4 425.4L143.6 422.2L145.4 425.8ZM136.1 399.1L128.3 400.4L127.6 396.1L127.1 391.7L135.0 391.1L135.5 395.1ZM137.9 359.0L130.2 357.0L131.5 352.8L133.0 348.7L140.4 351.3L139.1 355.1ZM140.4 351.3L133.0 348.7L134.6 344.6L136.4 340.6L143.6 343.8L141.9 347.5ZM168.7 312.0L163.6 306.1L167.1 303.4L170.8 300.8L175.3 307.1L172.0 309.5ZM175.3 307.1L170.8 300.8L174.5 298.3L178.4 296.1L182.3 302.7L178.8 304.8ZM197.4 295.9L194.7 288.7L198.9 287.3L203.3 286.0L205.3 293.5L201.3 294.6ZM205.3 293.5L203.3 286.0L207.6 285.0L212.1 284.1L213.4 291.7L209.4 292.5ZM239.0 283.0L239.7 275.3L244.5 275.8L249.3 276.5L247.9 284.1L243.5 283.5ZM247.9 284.1L249.3 276.5L254.1 277.5L258.8 278.6L256.7 286.0L252.4 285.0ZM256.7 286.0L258.8 278.6L263.4 279.9L268.0 281.4L265.3 288.7L261.1 287.3ZM281.6 296.1L285.6 289.4L289.8 291.8L293.8 294.4L289.2 300.8L285.5 298.3ZM332.9 374.3L340.8 373.6L341.1 378.3L341.2 383.0L333.3 383.0L333.2 378.6ZM314.6 440.6L321.1 445.0L318.2 448.8L315.2 452.5L309.1 447.5L311.9 444.1ZM309.1 447.5L315.2 452.5L312.0 456.0L308.6 459.4L303.0 454.0L306.1 450.8ZM289.2 465.2L293.8 471.6L289.8 474.2L285.6 476.6L281.6 469.9L285.5 467.7ZM128.3 400.4L120.5 401.8L119.7 397.1L119.2 392.4L127.1 391.7L127.6 396.1ZM130.2 357.0L122.6 355.0L123.9 350.5L125.5 346.0L133.0 348.7L131.5 352.8ZM157.0 312.0L151.4 306.6L154.9 303.3L158.5 300.2L163.6 306.1L160.2 309.0ZM186.4 292.0L183.0 285.0L187.4 283.1L192.0 281.4L194.7 288.7L190.5 290.3ZM194.7 288.7L192.0 281.4L196.6 279.9L201.2 278.6L203.3 286.0L198.9 287.3ZM239.7 275.3L240.4 267.6L245.6 268.2L250.7 268.9L249.3 276.5L244.5 275.8ZM258.8 278.6L260.8 271.1L265.8 272.5L270.8 274.2L268.0 281.4L263.4 279.9ZM285.6 289.4L289.6 282.7L294.0 285.3L298.4 288.1L293.8 294.4L289.8 291.8ZM330.8 337.3L338.0 334.0L340.1 338.7L342.0 343.4L334.5 346.0L332.8 341.6ZM340.8 373.6L348.7 372.9L349.1 377.9L349.2 383.0L341.2 383.0L341.1 378.3ZM330.8 428.7L338.0 432.0L335.7 436.5L333.2 440.9L326.3 437.1L328.7 432.9ZM321.1 445.0L327.6 449.4L324.5 453.5L321.3 457.5L315.2 452.5L318.2 448.8ZM315.2 452.5L321.3 457.5L317.9 461.3L314.3 464.9L308.6 459.4L312.0 456.0ZM293.8 471.6L298.4 477.9L294.0 480.7L289.6 483.3L285.6 476.6L289.8 474.2ZM285.6 476.6L289.6 483.3L285.0 485.7L280.4 488.0L277.0 481.0L281.4 478.9ZM239.7 490.7L240.4 498.4L235.2 498.7L230.0 498.8L230.0 491.1L234.9 491.0ZM230.0 491.1L230.0 498.8L224.8 498.7L219.6 498.4L220.3 490.7L225.1 491.0ZM120.5 401.8L112.6 403.1L111.9 398.1L111.3 393.1L119.2 392.4L119.7 397.1ZM166.2 294.4L161.6 288.1L166.0 285.3L170.4 282.7L174.4 289.4L170.2 291.8ZM183.0 285.0L179.6 278.0L184.4 276.0L189.2 274.2L192.0 281.4L187.4 283.1ZM192.0 281.4L189.2 274.2L194.2 272.5L199.2 271.1L201.2 278.6L196.6 279.9ZM240.4 267.6L241.1 259.9L246.6 260.5L252.1 261.3L250.7 268.9L245.6 268.2ZM270.8 274.2L273.5 266.9L278.6 268.8L283.7 271.0L280.4 278.0L275.6 276.0ZM289.6 282.7L293.6 276.0L298.3 278.8L302.9 281.8L298.4 288.1L294.0 285.3ZM327.6 316.6L334.1 312.1L337.2 316.6L340.1 321.2L333.2 325.1L330.5 320.8ZM348.7 372.9L356.6 372.2L357.0 377.6L357.1 383.0L349.2 383.0L349.1 377.9ZM338.0 432.0L345.2 435.2L342.7 440.1L340.1 444.8L333.2 440.9L335.7 436.5ZM327.6 449.4L334.1 453.9L330.8 458.2L327.4 462.4L321.3 457.5L324.5 453.5ZM298.4 477.9L302.9 484.2L298.3 487.2L293.6 490.0L289.6 483.3L294.0 480.7ZM230.0 498.8L230.0 506.6L224.5 506.4L218.9 506.1L219.6 498.4L224.8 498.7ZM219.6 498.4L218.9 506.1L213.4 505.5L207.9 504.7L209.3 497.1L214.4 497.8ZM145.7 464.9L140.1 470.4L136.3 466.5L132.6 462.4L138.7 457.5L142.1 461.3ZM112.6 403.1L104.8 404.5L104.0 399.1L103.4 393.8L111.3 393.1L111.9 398.1ZM118.0 343.4L110.6 340.7L112.6 335.7L114.8 330.8L122.0 334.0L119.9 338.7ZM189.2 274.2L186.5 266.9L191.8 265.2L197.1 263.7L199.2 271.1L194.2 272.5ZM241.1 259.9L241.8 252.2L247.6 252.8L253.5 253.7L252.1 261.3L246.6 260.5ZM273.5 266.9L276.2 259.6L281.7 261.7L287.1 264.0L283.7 271.0L278.6 268.8ZM293.6 276.0L297.5 269.3L302.6 272.3L307.5 275.5L302.9 281.8L298.3 278.8ZM334.1 312.1L340.6 307.7L343.9 312.5L347.0 317.4L340.1 321.2L337.2 316.6ZM356.6 372.2L364.5 371.6L364.9 377.3L365.1 383.0L357.1 383.0L357.0 377.6ZM345.2 435.2L352.4 438.5L349.8 443.6L347.0 448.6L340.1 444.8L342.7 440.1ZM334.1 453.9L340.6 458.3L337.1 462.9L333.5 467.4L327.4 462.4L330.8 458.2ZM311.7 477.6L316.8 483.6L312.2 487.1L307.5 490.5L302.9 484.2L307.4 481.0ZM293.6 490.0L297.5 496.7L292.4 499.4L287.1 502.0L283.7 495.0L288.7 492.6ZM230.0 506.6L230.0 514.3L224.1 514.2L218.2 513.8L218.9 506.1L224.5 506.4ZM218.9 506.1L218.2 513.8L212.4 513.2L206.5 512.3L207.9 504.7L213.4 505.5ZM140.1 470.4L134.5 475.8L130.4 471.7L126.5 467.4L132.6 462.4L136.3 466.5ZM132.6 462.4L126.5 467.4L122.9 462.9L119.4 458.3L125.9 453.9L129.2 458.2ZM104.8 404.5L97.0 405.8L96.1 400.1L95.5 394.4L103.4 393.8L104.0 399.1ZM110.6 340.7L103.1 338.1L105.2 332.8L107.6 327.5L114.8 330.8L112.6 335.7ZM157.1 281.8L152.5 275.5L157.4 272.3L162.5 269.3L166.4 276.0L161.7 278.8ZM186.5 266.9L183.8 259.6L189.4 257.8L195.0 256.2L197.1 263.7L191.8 265.2ZM241.8 252.2L242.5 244.5L248.7 245.2L254.8 246.1L253.5 253.7L247.6 252.8ZM276.2 259.6L278.9 252.4L284.7 254.6L290.4 257.0L287.1 264.0L281.7 261.7ZM297.5 269.3L301.5 262.6L306.8 265.8L312.0 269.1L307.5 275.5L302.6 272.3ZM340.6 307.7L347.1 303.3L350.6 308.3L353.8 313.5L347.0 317.4L343.9 312.5ZM347.0 317.4L353.8 313.5L356.8 318.8L359.6 324.3L352.4 327.5L349.8 322.4ZM364.5 371.6L372.5 370.9L372.9 376.9L373.0 383.0L365.1 383.0L364.9 377.3ZM352.4 438.5L359.6 441.7L356.8 447.2L353.8 452.5L347.0 448.6L349.8 443.6ZM340.6 458.3L347.1 462.7L343.4 467.6L339.5 472.3L333.5 467.4L337.1 462.9ZM297.5 496.7L301.5 503.4L296.0 506.3L290.4 509.0L287.1 502.0L292.4 499.4ZM230.0 514.3L230.0 522.0L223.8 521.9L217.5 521.5L218.2 513.8L224.1 514.2ZM134.5 475.8L128.9 481.3L124.6 476.9L120.5 472.3L126.5 467.4L130.4 471.7ZM113.0 448.6L106.2 452.5L103.2 447.2L100.4 441.7L107.6 438.5L110.2 443.6ZM97.0 405.8L89.2 407.1L88.2 401.1L87.5 395.1L95.5 394.4L96.1 400.1ZM113.0 317.4L106.2 313.5L109.4 308.3L112.9 303.3L119.4 307.7L116.1 312.5ZM183.8 259.6L181.1 252.4L187.0 250.4L193.0 248.7L195.0 256.2L189.4 257.8ZM195.0 256.2L193.0 248.7L199.0 247.3L205.2 246.1L206.5 253.7L200.8 254.8Z" fill="#4264b0" stroke="#4264b0" stroke-width="0.6"/>
<path d="M230.0 383.0L235.6 388.5L235.4 388.7L235.1 388.9L234.8 389.1L234.6 389.3L234.3 389.5L234.0 389.7L233.7 389.8L233.4 390.0L233.0 390.1L232.7 390.3L232.4 390.4L232.1 390.5L231.7 390.5L231.4 390.6L231.0 390.7L230.7 390.7L230.3 390.7L230.0 390.7L230.0 383.0ZM230.0 383.0L230.0 390.7L229.7 390.7L229.3 390.7L229.0 390.7L228.6 390.6L228.3 390.5L227.9 390.5L227.6 390.4L227.3 390.3L227.0 390.1L226.6 390.0L226.3 389.8L226.0 389.7L225.7 389.5L225.4 389.3L225.2 389.1L224.9 388.9L224.6 388.7L224.4 388.5L230.0 383.0ZM230.0 383.0L224.4 388.5L224.1 388.2L223.9 388.0L223.7 387.7L223.5 387.4L223.3 387.1L223.1 386.9L223.0 386.6L222.8 386.3L222.7 386.0L222.5 385.6L222.4 385.3L222.3 385.0L222.2 384.7L222.2 384.3L222.1 384.0L222.1 383.7L222.1 383.3L222.1 383.0L230.0 383.0ZM237.9 383.0L245.9 383.0L245.9 383.7L245.8 384.3L245.8 385.0L245.6 385.7L245.5 386.3L245.3 387.0L245.2 387.6L244.9 388.3L244.7 388.9L244.4 389.5L244.1 390.1L243.8 390.7L236.9 386.9L237.0 386.6L237.2 386.3L237.3 386.0L237.5 385.6L237.6 385.3L237.7 385.0L237.8 384.7L237.8 384.3L237.9 384.0L237.9 383.7L237.9 383.3ZM223.1 386.9L216.2 390.7L215.9 390.1L215.6 389.5L215.3 388.9L215.1 388.3L214.8 387.6L214.7 387.0L214.5 386.3L214.4 385.7L214.2 385.0L214.2 384.3L214.1 383.7L214.1 383.0L222.1 383.0L222.1 383.3L222.1 383.7L222.1 384.0L222.2 384.3L222.2 384.7L222.3 385.0L222.4 385.3L222.5 385.6L222.7 386.0L222.8 386.3L223.0 386.6ZM223.1 379.1L216.2 375.3L216.6 374.7L217.0 374.1L217.4 373.6L217.8 373.1L218.3 372.6L218.8 372.1L219.3 371.6L219.8 371.2L220.3 370.7L220.9 370.3L221.5 370.0L222.1 369.6L226.0 376.3L225.7 376.5L225.4 376.7L225.2 376.9L224.9 377.1L224.6 377.3L224.4 377.5L224.1 377.8L223.9 378.0L223.7 378.3L223.5 378.6L223.3 378.9ZM243.8 375.3L250.6 371.4L251.1 372.3L251.6 373.2L252.0 374.1L252.4 375.1L252.7 376.0L253.0 377.0L245.3 379.0L245.2 378.4L244.9 377.7L244.7 377.1L244.4 376.5L244.1 375.9ZM245.3 379.0L253.0 377.0L253.3 378.0L253.5 379.0L253.6 380.0L253.7 381.0L253.8 382.0L253.8 383.0L245.9 383.0L245.9 382.3L245.8 381.7L245.8 381.0L245.6 380.3L245.5 379.7ZM245.9 383.0L253.8 383.0L253.8 384.0L253.7 385.0L253.6 386.0L253.5 387.0L253.3 388.0L253.0 389.0L245.3 387.0L245.5 386.3L245.6 385.7L245.8 385.0L245.8 384.3L245.9 383.7ZM218.8 393.9L213.1 399.4L212.4 398.7L211.7 397.9L211.1 397.1L210.5 396.3L209.9 395.4L209.4 394.6L216.2 390.7L216.6 391.3L217.0 391.9L217.4 392.4L217.8 392.9L218.3 393.4ZM214.1 383.0L206.2 383.0L206.2 382.0L206.3 381.0L206.4 380.0L206.5 379.0L206.7 378.0L207.0 377.0L214.7 379.0L214.5 379.7L214.4 380.3L214.2 381.0L214.2 381.7L214.1 382.3ZM214.7 379.0L207.0 377.0L207.3 376.0L207.6 375.1L208.0 374.1L208.4 373.2L208.9 372.3L209.4 371.4L216.2 375.3L215.9 375.9L215.6 376.5L215.3 377.1L215.1 377.7L214.8 378.4ZM236.2 360.6L238.2 353.2L239.6 353.5L240.9 354.0L242.2 354.5L243.4 355.0L244.7 355.6L245.9 356.2L241.9 362.9L241.0 362.5L240.1 362.0L239.1 361.6L238.2 361.2L237.2 360.9ZM241.9 362.9L245.9 356.2L247.1 356.9L248.2 357.7L249.3 358.5L250.4 359.3L251.5 360.2L252.5 361.2L246.9 366.6L246.1 365.9L245.3 365.3L244.5 364.6L243.7 364.0L242.8 363.5ZM246.9 366.6L252.5 361.2L253.4 362.1L254.3 363.1L255.2 364.2L256.0 365.3L256.8 366.4L257.5 367.6L250.6 371.4L250.1 370.6L249.5 369.7L248.9 368.9L248.3 368.1L247.6 367.3ZM250.6 371.4L257.5 367.6L258.2 368.7L258.8 369.9L259.4 371.2L259.9 372.4L260.3 373.7L260.7 375.0L253.0 377.0L252.7 376.0L252.4 375.1L252.0 374.1L251.6 373.2L251.1 372.3ZM218.1 403.1L214.1 409.8L212.9 409.1L211.8 408.3L210.7 407.5L209.6 406.7L208.5 405.8L207.5 404.8L213.1 399.4L213.9 400.1L214.7 400.7L215.5 401.4L216.3 402.0L217.2 402.5ZM213.1 399.4L207.5 404.8L206.6 403.9L205.7 402.9L204.8 401.8L204.0 400.7L203.2 399.6L202.5 398.4L209.4 394.6L209.9 395.4L210.5 396.3L211.1 397.1L211.7 397.9L212.4 398.7ZM209.4 394.6L202.5 398.4L201.8 397.3L201.2 396.1L200.6 394.8L200.1 393.6L199.7 392.3L199.3 391.0L207.0 389.0L207.3 390.0L207.6 390.9L208.0 391.9L208.4 392.8L208.9 393.7ZM207.0 377.0L199.3 375.0L199.7 373.7L200.1 372.4L200.6 371.2L201.2 369.9L201.8 368.7L202.5 367.6L209.4 371.4L208.9 372.3L208.4 373.2L208.0 374.1L207.6 375.1L207.3 376.0ZM218.1 362.9L214.1 356.2L215.3 355.6L216.6 355.0L217.8 354.5L219.1 354.0L220.4 353.5L221.8 353.2L223.8 360.6L222.8 360.9L221.8 361.2L220.9 361.6L219.9 362.0L219.0 362.5ZM235.5 352.6L236.9 345.0L238.6 345.3L240.3 345.7L241.9 346.2L243.6 346.7L240.9 354.0L239.6 353.5L238.2 353.2L236.9 352.8ZM240.9 354.0L243.6 346.7L245.2 347.3L246.8 348.0L248.3 348.8L249.9 349.6L245.9 356.2L244.7 355.6L243.4 355.0L242.2 354.5ZM261.8 383.0L269.7 383.0L269.7 384.7L269.6 386.4L269.4 388.0L269.1 389.7L261.3 388.4L261.5 387.0L261.7 385.7L261.7 384.3ZM261.3 388.4L269.1 389.7L268.8 391.4L268.4 393.0L267.9 394.6L267.3 396.2L259.9 393.6L260.3 392.3L260.7 391.0L261.0 389.7ZM198.7 377.6L190.9 376.3L191.2 374.6L191.6 373.0L192.1 371.4L192.7 369.8L200.1 372.4L199.7 373.7L199.3 375.0L199.0 376.3ZM236.9 345.0L238.3 337.4L240.3 337.8L242.3 338.2L244.3 338.8L246.3 339.5L243.6 346.7L241.9 346.2L240.3 345.7L238.6 345.3ZM243.6 346.7L246.3 339.5L248.2 340.2L250.1 341.0L252.0 341.9L253.8 342.9L249.9 349.6L248.3 348.8L246.8 348.0L245.2 347.3ZM249.9 349.6L253.8 342.9L255.6 343.9L257.3 345.0L259.0 346.2L260.6 347.5L255.5 353.4L254.2 352.4L252.8 351.4L251.3 350.4ZM267.3 396.2L274.8 398.8L274.0 400.7L273.2 402.6L272.3 404.4L271.3 406.2L264.4 402.3L265.2 400.8L266.0 399.3L266.7 397.8ZM199.6 407.8L193.5 412.8L192.2 411.2L191.0 409.6L189.8 407.9L188.7 406.2L195.6 402.3L196.5 403.7L197.5 405.1L198.5 406.5ZM195.6 363.7L188.7 359.8L189.8 358.1L191.0 356.4L192.2 354.8L193.5 353.2L199.6 358.2L198.5 359.5L197.5 360.9L196.5 362.3ZM216.4 346.7L213.7 339.5L215.7 338.8L217.7 338.2L219.7 337.8L221.7 337.4L223.1 345.0L221.4 345.3L219.7 345.7L218.1 346.2ZM242.3 338.2L244.4 330.8L246.7 331.4L249.0 332.2L246.3 339.5L244.3 338.8ZM277.5 387.0L285.4 387.7L285.1 390.1L284.8 392.4L276.9 391.0L277.3 389.0ZM276.9 391.0L284.8 392.4L284.3 394.7L283.7 397.0L276.0 395.0L276.5 393.0ZM276.0 395.0L283.7 397.0L283.0 399.3L282.3 401.5L274.8 398.8L275.5 396.9ZM202.7 421.0L198.1 427.3L196.1 425.9L194.3 424.4L199.4 418.5L201.0 419.8ZM188.7 406.2L181.8 410.0L180.7 408.0L179.6 405.8L186.8 402.6L187.7 404.4ZM199.4 347.5L194.3 341.6L196.1 340.1L198.1 338.7L202.7 345.0L201.0 346.2ZM209.9 341.0L206.5 334.0L208.7 333.1L211.0 332.2L213.7 339.5L211.8 340.2ZM213.7 339.5L211.0 332.2L213.3 331.4L215.6 330.8L217.7 338.2L215.7 338.8ZM285.6 383.0L293.6 383.0L293.5 385.7L293.3 388.4L285.4 387.7L285.6 385.4ZM285.4 387.7L293.3 388.4L293.0 391.1L292.6 393.7L284.8 392.4L285.1 390.1ZM284.8 392.4L292.6 393.7L292.0 396.4L291.4 399.0L283.7 397.0L284.3 394.7ZM283.7 397.0L291.4 399.0L290.6 401.6L289.7 404.1L282.3 401.5L283.0 399.3ZM282.3 401.5L289.7 404.1L288.7 406.6L287.6 409.1L280.4 405.8L281.4 403.7ZM272.6 417.7L278.7 422.7L276.9 424.7L274.9 426.7L269.3 421.2L271.0 419.5ZM261.9 427.3L266.5 433.6L264.1 435.1L261.8 436.5L257.8 429.8L259.9 428.6ZM257.8 429.8L261.8 436.5L259.3 437.8L256.9 439.0L253.5 432.0L255.7 430.9ZM253.5 432.0L256.9 439.0L254.3 440.1L251.7 441.1L249.0 433.8L251.3 432.9ZM249.0 433.8L251.7 441.1L249.1 441.9L246.4 442.7L244.4 435.2L246.7 434.6ZM244.4 435.2L246.4 442.7L243.8 443.3L241.0 443.8L239.7 436.2L242.0 435.8ZM239.7 436.2L241.0 443.8L238.3 444.2L235.5 444.5L234.8 436.8L237.3 436.6ZM234.8 436.8L235.5 444.5L232.8 444.7L230.0 444.8L230.0 437.1L232.4 437.0ZM230.0 437.1L230.0 444.8L227.2 444.7L224.5 444.5L225.2 436.8L227.6 437.0ZM184.4 414.0L177.9 418.4L176.4 416.2L175.0 413.9L181.8 410.0L183.1 412.0ZM174.4 383.0L166.4 383.0L166.5 380.3L166.7 377.6L174.6 378.3L174.4 380.6ZM174.6 378.3L166.7 377.6L167.0 374.9L167.4 372.3L175.2 373.6L174.9 375.9ZM176.3 369.0L168.6 367.0L169.4 364.4L170.3 361.9L177.7 364.5L177.0 366.7ZM177.7 364.5L170.3 361.9L171.3 359.4L172.4 356.9L179.6 360.2L178.6 362.3ZM179.6 360.2L172.4 356.9L173.6 354.5L175.0 352.1L181.8 356.0L180.7 358.0ZM198.1 338.7L193.5 332.4L195.9 330.9L198.2 329.5L202.2 336.2L200.1 337.4ZM274.9 339.3L280.6 333.9L282.7 336.0L284.8 338.3L278.7 343.3L276.9 341.3ZM278.7 343.3L284.8 338.3L286.7 340.7L288.6 343.1L282.1 347.6L280.4 345.4ZM293.6 383.0L301.5 383.0L301.4 386.0L301.2 389.1L293.3 388.4L293.5 385.7ZM293.3 388.4L301.2 389.1L300.9 392.1L300.4 395.1L292.6 393.7L293.0 391.1ZM291.4 399.0L299.1 401.0L298.2 403.9L297.2 406.8L289.7 404.1L290.6 401.6ZM274.9 426.7L280.6 432.1L278.3 434.2L276.0 436.2L270.9 430.3L272.9 428.5ZM270.9 430.3L276.0 436.2L273.5 438.1L271.0 439.9L266.5 433.6L268.7 432.0ZM266.5 433.6L271.0 439.9L268.4 441.6L265.8 443.2L261.8 436.5L264.1 435.1ZM261.8 436.5L265.8 443.2L263.0 444.6L260.2 446.0L256.9 439.0L259.3 437.8ZM256.9 439.0L260.2 446.0L257.4 447.2L254.5 448.3L251.7 441.1L254.3 440.1ZM241.0 443.8L242.4 451.4L239.3 451.9L236.2 452.2L235.5 444.5L238.3 444.2ZM189.1 430.3L184.0 436.2L181.7 434.2L179.4 432.1L185.1 426.7L187.1 428.5ZM185.1 426.7L179.4 432.1L177.3 430.0L175.2 427.7L181.3 422.7L183.1 424.7ZM166.4 383.0L158.5 383.0L158.6 380.0L158.8 376.9L166.7 377.6L166.5 380.3ZM166.7 377.6L158.8 376.9L159.1 373.9L159.6 370.9L167.4 372.3L167.0 374.9ZM167.4 372.3L159.6 370.9L160.2 368.0L160.9 365.0L168.6 367.0L168.0 369.6ZM168.6 367.0L160.9 365.0L161.8 362.1L162.8 359.2L170.3 361.9L169.4 364.4ZM170.3 361.9L162.8 359.2L163.9 356.4L165.2 353.6L172.4 356.9L171.3 359.4ZM280.6 333.9L286.2 328.4L288.6 330.8L290.9 333.4L284.8 338.3L282.7 336.0ZM294.8 353.6L302.0 350.4L303.4 353.4L304.7 356.6L297.2 359.2L296.1 356.4ZM301.5 383.0L309.4 383.0L309.4 386.4L309.1 389.7L301.2 389.1L301.4 386.0ZM301.2 389.1L309.1 389.7L308.8 393.1L308.2 396.4L300.4 395.1L300.9 392.1ZM299.1 401.0L306.7 403.0L305.8 406.2L304.7 409.4L297.2 406.8L298.2 403.9ZM280.6 432.1L286.2 437.6L283.7 439.9L281.1 442.2L276.0 436.2L278.3 434.2ZM276.0 436.2L281.1 442.2L278.4 444.3L275.6 446.3L271.0 439.9L273.5 438.1ZM271.0 439.9L275.6 446.3L272.7 448.1L269.7 449.9L265.8 443.2L268.4 441.6ZM236.2 452.2L236.9 459.9L233.5 460.1L230.0 460.2L230.0 452.5L233.1 452.4ZM230.0 452.5L230.0 460.2L226.5 460.1L223.1 459.9L223.8 452.2L226.9 452.4ZM168.1 417.8L161.2 421.6L159.5 418.7L158.0 415.6L165.2 412.4L166.6 415.1ZM159.6 395.1L151.8 396.4L151.2 393.1L150.9 389.7L158.8 389.1L159.1 392.1ZM158.8 389.1L150.9 389.7L150.6 386.4L150.6 383.0L158.5 383.0L158.6 386.0ZM158.8 376.9L150.9 376.3L151.2 372.9L151.8 369.6L159.6 370.9L159.1 373.9ZM159.6 370.9L151.8 369.6L152.4 366.3L153.3 363.0L160.9 365.0L160.2 368.0ZM160.9 365.0L153.3 363.0L154.2 359.8L155.3 356.6L162.8 359.2L161.8 362.1ZM162.8 359.2L155.3 356.6L156.6 353.4L158.0 350.4L165.2 353.6L163.9 356.4ZM286.2 328.4L291.8 322.9L294.4 325.6L296.9 328.4L290.9 333.4L288.6 330.8ZM302.0 350.4L309.2 347.1L310.7 350.5L312.1 353.9L304.7 356.6L303.4 353.4ZM309.4 383.0L317.4 383.0L317.3 386.7L317.1 390.4L309.1 389.7L309.4 386.4ZM309.1 389.7L317.1 390.4L316.6 394.1L316.1 397.8L308.2 396.4L308.8 393.1ZM308.2 396.4L316.1 397.8L315.3 401.4L314.4 405.0L306.7 403.0L307.6 399.7ZM243.8 459.0L245.2 466.7L241.4 467.2L237.6 467.6L236.9 459.9L240.4 459.6ZM236.9 459.9L237.6 467.6L233.8 467.9L230.0 467.9L230.0 460.2L233.5 460.1ZM230.0 460.2L230.0 467.9L226.2 467.9L222.4 467.6L223.1 459.9L226.5 460.1ZM223.1 459.9L222.4 467.6L218.6 467.2L214.8 466.7L216.2 459.0L219.6 459.6ZM196.4 453.0L193.1 460.0L189.6 458.3L186.3 456.6L190.3 449.9L193.3 451.5ZM190.3 449.9L186.3 456.6L183.0 454.6L179.9 452.6L184.4 446.3L187.3 448.1ZM161.2 421.6L154.3 425.5L152.5 422.2L150.8 418.9L158.0 415.6L159.5 418.7ZM158.0 415.6L150.8 418.9L149.3 415.5L147.9 412.1L155.3 409.4L156.6 412.6ZM155.3 409.4L147.9 412.1L146.7 408.5L145.6 405.0L153.3 403.0L154.2 406.2ZM151.8 396.4L143.9 397.8L143.4 394.1L142.9 390.4L150.9 389.7L151.2 393.1ZM245.2 299.3L246.6 291.7L250.6 292.5L254.7 293.5L252.6 300.9L248.9 300.1ZM252.6 300.9L254.7 293.5L258.7 294.6L262.6 295.9L259.9 303.2L256.3 302.0ZM259.9 303.2L262.6 295.9L266.5 297.4L270.3 299.0L266.9 306.0L263.4 304.5ZM266.9 306.0L270.3 299.0L274.0 300.8L277.7 302.7L273.7 309.4L270.4 307.7ZM291.8 322.9L297.4 317.5L300.3 320.4L303.0 323.4L296.9 328.4L294.4 325.6ZM309.2 347.1L316.4 343.8L318.1 347.5L319.6 351.3L312.1 353.9L310.7 350.5ZM317.4 383.0L325.3 383.0L325.2 387.0L325.0 391.1L317.1 390.4L317.3 386.7ZM317.1 390.4L325.0 391.1L324.5 395.1L323.9 399.1L316.1 397.8L316.6 394.1ZM245.2 466.7L246.6 474.3L242.4 474.9L238.3 475.3L237.6 467.6L241.4 467.2ZM230.0 467.9L230.0 475.7L225.8 475.6L221.7 475.3L222.4 467.6L226.2 467.9ZM222.4 467.6L221.7 475.3L217.6 474.9L213.4 474.3L214.8 466.7L218.6 467.2ZM214.8 466.7L213.4 474.3L209.4 473.5L205.3 472.5L207.4 465.1L211.1 465.9ZM207.4 465.1L205.3 472.5L201.3 471.4L197.4 470.1L200.1 462.8L203.7 464.0ZM200.1 462.8L197.4 470.1L193.5 468.6L189.7 467.0L193.1 460.0L196.6 461.5ZM193.1 460.0L189.7 467.0L186.0 465.2L182.3 463.3L186.3 456.6L189.6 458.3ZM186.3 456.6L182.3 463.3L178.8 461.2L175.3 458.9L179.9 452.6L183.0 454.6ZM150.8 418.9L143.6 422.2L141.9 418.5L140.4 414.7L147.9 412.1L149.3 415.5ZM143.9 397.8L136.1 399.1L135.5 395.1L135.0 391.1L142.9 390.4L143.4 394.1ZM186.3 309.4L182.3 302.7L186.0 300.8L189.7 299.0L193.1 306.0L189.6 307.7ZM214.8 299.3L213.4 291.7L217.6 291.1L221.7 290.7L222.4 298.4L218.6 298.8ZM222.4 298.4L221.7 290.7L225.8 290.4L230.0 290.3L230.0 298.1L226.2 298.1ZM230.0 290.3L230.0 282.6L234.5 282.7L239.0 283.0L238.3 290.7L234.2 290.4ZM262.6 295.9L265.3 288.7L269.5 290.3L273.6 292.0L270.3 299.0L266.5 297.4ZM270.3 299.0L273.6 292.0L277.7 294.0L281.6 296.1L277.7 302.7L274.0 300.8ZM303.0 323.4L309.1 318.5L311.9 321.9L314.6 325.4L308.1 329.8L305.6 326.6ZM312.6 429.3L319.4 433.2L317.1 436.9L314.6 440.6L308.1 436.2L310.4 432.8ZM238.3 475.3L239.0 483.0L234.5 483.3L230.0 483.4L230.0 475.7L234.2 475.6ZM230.0 475.7L230.0 483.4L225.5 483.3L221.0 483.0L221.7 475.3L225.8 475.6ZM221.7 475.3L221.0 483.0L216.5 482.5L212.1 481.9L213.4 474.3L217.6 474.9ZM205.3 472.5L203.3 480.0L198.9 478.7L194.7 477.3L197.4 470.1L201.3 471.4ZM197.4 470.1L194.7 477.3L190.5 475.7L186.4 474.0L189.7 467.0L193.5 468.6ZM189.7 467.0L186.4 474.0L182.3 472.0L178.4 469.9L182.3 463.3L186.0 465.2ZM182.3 463.3L178.4 469.9L174.5 467.7L170.8 465.2L175.3 458.9L178.8 461.2ZM143.6 422.2L136.4 425.4L134.6 421.4L133.0 417.3L140.4 414.7L141.9 418.5ZM140.4 414.7L133.0 417.3L131.5 413.2L130.2 409.0L137.9 407.0L139.1 410.9ZM137.9 407.0L130.2 409.0L129.2 404.7L128.3 400.4L136.1 399.1L136.9 403.1ZM213.4 291.7L212.1 284.1L216.5 283.5L221.0 283.0L221.7 290.7L217.6 291.1ZM221.7 290.7L221.0 283.0L225.5 282.7L230.0 282.6L230.0 290.3L225.8 290.4ZM230.0 282.6L230.0 274.9L234.9 275.0L239.7 275.3L239.0 283.0L234.5 282.7ZM265.3 288.7L268.0 281.4L272.6 283.1L277.0 285.0L273.6 292.0L269.5 290.3ZM273.6 292.0L277.0 285.0L281.4 287.1L285.6 289.4L281.6 296.1L277.7 294.0ZM323.6 340.6L330.8 337.3L332.8 341.6L334.5 346.0L327.0 348.7L325.4 344.6ZM331.7 400.4L339.5 401.8L338.6 406.4L337.4 411.0L329.8 409.0L330.8 404.7ZM319.4 433.2L326.3 437.1L323.8 441.1L321.1 445.0L314.6 440.6L317.1 436.9ZM303.0 454.0L308.6 459.4L305.1 462.7L301.5 465.8L296.4 459.9L299.8 457.0ZM296.4 459.9L301.5 465.8L297.7 468.8L293.8 471.6L289.2 465.2L292.9 462.6ZM239.0 483.0L239.7 490.7L234.9 491.0L230.0 491.1L230.0 483.4L234.5 483.3ZM230.0 483.4L230.0 491.1L225.1 491.0L220.3 490.7L221.0 483.0L225.5 483.3ZM221.0 483.0L220.3 490.7L215.5 490.2L210.7 489.5L212.1 481.9L216.5 482.5ZM212.1 481.9L210.7 489.5L205.9 488.5L201.2 487.4L203.3 480.0L207.6 481.0ZM203.3 480.0L201.2 487.4L196.6 486.1L192.0 484.6L194.7 477.3L198.9 478.7ZM178.4 469.9L174.4 476.6L170.2 474.2L166.2 471.6L170.8 465.2L174.5 467.7ZM136.4 425.4L129.2 428.7L127.2 424.4L125.5 420.0L133.0 417.3L134.6 421.4ZM130.2 409.0L122.6 411.0L121.4 406.4L120.5 401.8L128.3 400.4L129.2 404.7ZM133.0 348.7L125.5 346.0L127.2 341.6L129.2 337.3L136.4 340.6L134.6 344.6ZM163.6 306.1L158.5 300.2L162.3 297.2L166.2 294.4L170.8 300.8L167.1 303.4ZM203.3 286.0L201.2 278.6L205.9 277.5L210.7 276.5L212.1 284.1L207.6 285.0ZM212.1 284.1L210.7 276.5L215.5 275.8L220.3 275.3L221.0 283.0L216.5 283.5ZM221.0 283.0L220.3 275.3L225.1 275.0L230.0 274.9L230.0 282.6L225.5 282.7ZM230.0 274.9L230.0 267.2L235.2 267.3L240.4 267.6L239.7 275.3L234.9 275.0ZM268.0 281.4L270.8 274.2L275.6 276.0L280.4 278.0L277.0 285.0L272.6 283.1ZM277.0 285.0L280.4 278.0L285.0 280.3L289.6 282.7L285.6 289.4L281.4 287.1ZM321.1 321.0L327.6 316.6L330.5 320.8L333.2 325.1L326.3 328.9L323.8 324.9ZM326.3 328.9L333.2 325.1L335.7 329.5L338.0 334.0L330.8 337.3L328.7 333.1ZM339.5 401.8L347.4 403.1L346.3 408.1L345.1 413.0L337.4 411.0L338.6 406.4ZM326.3 437.1L333.2 440.9L330.5 445.2L327.6 449.4L321.1 445.0L323.8 441.1ZM308.6 459.4L314.3 464.9L310.5 468.4L306.6 471.7L301.5 465.8L305.1 462.7ZM301.5 465.8L306.6 471.7L302.5 474.9L298.4 477.9L293.8 471.6L297.7 468.8ZM220.3 490.7L219.6 498.4L214.4 497.8L209.3 497.1L210.7 489.5L215.5 490.2ZM210.7 489.5L209.3 497.1L204.2 496.1L199.2 494.9L201.2 487.4L205.9 488.5ZM174.4 476.6L170.4 483.3L166.0 480.7L161.6 477.9L166.2 471.6L170.2 474.2ZM129.2 428.7L122.0 432.0L119.9 427.3L118.0 422.6L125.5 420.0L127.2 424.4ZM122.6 411.0L114.9 413.0L113.7 408.1L112.6 403.1L120.5 401.8L121.4 406.4ZM122.6 355.0L114.9 353.0L116.3 348.2L118.0 343.4L125.5 346.0L123.9 350.5ZM125.5 346.0L118.0 343.4L119.9 338.7L122.0 334.0L129.2 337.3L127.2 341.6ZM151.4 306.6L145.7 301.1L149.5 297.6L153.4 294.3L158.5 300.2L154.9 303.3ZM210.7 276.5L209.3 268.9L214.4 268.2L219.6 267.6L220.3 275.3L215.5 275.8ZM220.3 275.3L219.6 267.6L224.8 267.3L230.0 267.2L230.0 274.9L225.1 275.0ZM230.0 267.2L230.0 259.4L235.5 259.6L241.1 259.9L240.4 267.6L235.2 267.3ZM280.4 278.0L283.7 271.0L288.7 273.4L293.6 276.0L289.6 282.7L285.0 280.3ZM333.2 325.1L340.1 321.2L342.7 325.9L345.2 330.8L338.0 334.0L335.7 329.5ZM347.4 403.1L355.2 404.5L354.1 409.7L352.8 415.0L345.1 413.0L346.3 408.1ZM333.2 440.9L340.1 444.8L337.2 449.4L334.1 453.9L327.6 449.4L330.5 445.2ZM321.3 457.5L327.4 462.4L323.7 466.5L319.9 470.4L314.3 464.9L317.9 461.3ZM306.6 471.7L311.7 477.6L307.4 481.0L302.9 484.2L298.4 477.9L302.5 474.9ZM209.3 497.1L207.9 504.7L202.5 503.6L197.1 502.3L199.2 494.9L204.2 496.1ZM170.4 483.3L166.4 490.0L161.7 487.2L157.1 484.2L161.6 477.9L166.0 480.7ZM122.0 432.0L114.8 435.2L112.6 430.3L110.6 425.3L118.0 422.6L119.9 427.3ZM114.9 413.0L107.2 415.0L105.9 409.7L104.8 404.5L112.6 403.1L113.7 408.1ZM114.9 353.0L107.2 351.0L108.8 345.8L110.6 340.7L118.0 343.4L116.3 348.2ZM145.7 301.1L140.1 295.6L144.1 291.9L148.3 288.4L153.4 294.3L149.5 297.6ZM161.6 288.1L157.1 281.8L161.7 278.8L166.4 276.0L170.4 282.7L166.0 285.3ZM199.2 271.1L197.1 263.7L202.5 262.4L207.9 261.3L209.3 268.9L204.2 269.9ZM209.3 268.9L207.9 261.3L213.4 260.5L218.9 259.9L219.6 267.6L214.4 268.2ZM219.6 267.6L218.9 259.9L224.5 259.6L230.0 259.4L230.0 267.2L224.8 267.3ZM230.0 259.4L230.0 251.7L235.9 251.8L241.8 252.2L241.1 259.9L235.5 259.6ZM283.7 271.0L287.1 264.0L292.4 266.6L297.5 269.3L293.6 276.0L288.7 273.4ZM340.1 321.2L347.0 317.4L349.8 322.4L352.4 327.5L345.2 330.8L342.7 325.9ZM355.2 404.5L363.0 405.8L361.9 411.4L360.5 417.0L352.8 415.0L354.1 409.7ZM340.1 444.8L347.0 448.6L343.9 453.5L340.6 458.3L334.1 453.9L337.2 449.4ZM327.4 462.4L333.5 467.4L329.6 471.7L325.5 475.8L319.9 470.4L323.7 466.5ZM207.9 504.7L206.5 512.3L200.8 511.2L195.0 509.8L197.1 502.3L202.5 503.6ZM166.4 490.0L162.5 496.7L157.4 493.7L152.5 490.5L157.1 484.2L161.7 487.2ZM114.8 435.2L107.6 438.5L105.2 433.2L103.1 427.9L110.6 425.3L112.6 430.3ZM107.2 415.0L99.5 417.0L98.1 411.4L97.0 405.8L104.8 404.5L105.9 409.7ZM107.2 351.0L99.5 349.0L101.2 343.5L103.1 338.1L110.6 340.7L108.8 345.8ZM140.1 295.6L134.5 290.2L138.8 286.2L143.2 282.4L148.3 288.4L144.1 291.9ZM197.1 263.7L195.0 256.2L200.8 254.8L206.5 253.7L207.9 261.3L202.5 262.4ZM207.9 261.3L206.5 253.7L212.4 252.8L218.2 252.2L218.9 259.9L213.4 260.5ZM218.9 259.9L218.2 252.2L224.1 251.8L230.0 251.7L230.0 259.4L224.5 259.6ZM230.0 251.7L230.0 244.0L236.2 244.1L242.5 244.5L241.8 252.2L235.9 251.8ZM287.1 264.0L290.4 257.0L296.0 259.7L301.5 262.6L297.5 269.3L292.4 266.6ZM363.0 405.8L370.8 407.1L369.6 413.1L368.1 419.0L360.5 417.0L361.9 411.4ZM347.0 448.6L353.8 452.5L350.6 457.7L347.1 462.7L340.6 458.3L343.9 453.5ZM333.5 467.4L339.5 472.3L335.4 476.9L331.1 481.3L325.5 475.8L329.6 471.7ZM316.8 483.6L321.9 489.5L317.1 493.3L312.0 496.9L307.5 490.5L312.2 487.1ZM218.2 513.8L217.5 521.5L211.3 520.8L205.2 519.9L206.5 512.3L212.4 513.2ZM206.5 512.3L205.2 519.9L199.0 518.7L193.0 517.3L195.0 509.8L200.8 511.2ZM162.5 496.7L158.5 503.4L153.2 500.2L148.0 496.9L152.5 490.5L157.4 493.7ZM107.6 438.5L100.4 441.7L97.9 436.2L95.6 430.5L103.1 427.9L105.2 433.2ZM99.5 417.0L91.9 419.0L90.4 413.1L89.2 407.1L97.0 405.8L98.1 411.4ZM99.5 349.0L91.9 347.0L93.6 341.2L95.6 335.5L103.1 338.1L101.2 343.5ZM103.1 338.1L95.6 335.5L97.9 329.8L100.4 324.3L107.6 327.5L105.2 332.8ZM134.5 290.2L128.9 284.7L133.4 280.5L138.1 276.5L143.2 282.4L138.8 286.2ZM152.5 275.5L148.0 269.1L153.2 265.8L158.5 262.6L162.5 269.3L157.4 272.3ZM206.5 253.7L205.2 246.1L211.3 245.2L217.5 244.5L218.2 252.2L212.4 252.8ZM218.2 252.2L217.5 244.5L223.8 244.1L230.0 244.0L230.0 251.7L224.1 251.8Z" fill="#4574b7" stroke="#4574b7" stroke-width="0.6"/>
<path d="M234.1 397.9L236.2 405.4L235.2 405.6L234.1 405.8L233.1 406.0L232.1 406.1L231.0 406.1L230.0 406.2L230.0 398.4L230.7 398.4L231.4 398.4L232.1 398.3L232.8 398.2L233.4 398.1ZM253.0 377.0L260.7 375.0L261.0 376.3L261.3 377.6L261.5 379.0L261.7 380.3L261.7 381.7L261.8 383.0L253.8 383.0L253.8 382.0L253.7 381.0L253.6 380.0L253.5 379.0L253.3 378.0ZM236.2 405.4L238.2 412.8L236.9 413.2L235.5 413.4L234.1 413.6L232.8 413.8L231.4 413.9L230.0 413.9L230.0 406.2L231.0 406.1L232.1 406.1L233.1 406.0L234.1 405.8L235.2 405.6ZM250.4 359.3L255.5 353.4L256.8 354.5L258.1 355.7L259.3 356.9L260.4 358.2L254.3 363.1L253.4 362.1L252.5 361.2L251.5 360.2ZM200.1 372.4L192.7 369.8L193.3 368.2L194.0 366.7L194.8 365.2L195.6 363.7L202.5 367.6L201.8 368.7L201.2 369.9L200.6 371.2ZM214.1 356.2L210.1 349.6L211.7 348.8L213.2 348.0L214.8 347.3L216.4 346.7L219.1 354.0L217.8 354.5L216.6 355.0L215.3 355.6ZM269.1 389.7L276.9 391.0L276.5 393.0L276.0 395.0L275.5 396.9L274.8 398.8L267.3 396.2L267.9 394.6L268.4 393.0L268.8 391.4ZM204.5 353.4L199.4 347.5L201.0 346.2L202.7 345.0L204.4 343.9L206.2 342.9L210.1 349.6L208.7 350.4L207.2 351.4L205.8 352.4ZM246.3 339.5L249.0 332.2L251.3 333.1L253.5 334.0L250.1 341.0L248.2 340.2ZM250.1 341.0L253.5 334.0L255.7 335.1L257.8 336.2L253.8 342.9L252.0 341.9ZM253.8 342.9L257.8 336.2L259.9 337.4L261.9 338.7L257.3 345.0L255.6 343.9ZM199.4 418.5L194.3 424.4L192.4 422.9L190.7 421.2L196.3 415.8L197.8 417.2ZM269.3 421.2L274.9 426.7L272.9 428.5L270.9 430.3L265.7 424.4L267.6 422.9ZM265.7 424.4L270.9 430.3L268.7 432.0L266.5 433.6L261.9 427.3L263.9 425.9ZM198.1 427.3L193.5 433.6L191.3 432.0L189.1 430.3L194.3 424.4L196.1 425.9ZM175.2 373.6L167.4 372.3L168.0 369.6L168.6 367.0L176.3 369.0L175.7 371.3ZM282.1 347.6L288.6 343.1L290.3 345.7L291.9 348.2L285.0 352.1L283.6 349.8ZM292.6 393.7L300.4 395.1L299.8 398.0L299.1 401.0L291.4 399.0L292.0 396.4ZM284.8 338.3L290.9 333.4L293.0 336.0L295.1 338.7L288.6 343.1L286.7 340.7ZM300.4 395.1L308.2 396.4L307.6 399.7L306.7 403.0L299.1 401.0L299.8 398.0ZM296.9 328.4L303.0 323.4L305.6 326.6L308.1 329.8L301.6 334.3L299.3 331.3ZM237.6 467.6L238.3 475.3L234.2 475.6L230.0 475.7L230.0 467.9L233.8 467.9ZM308.1 329.8L314.6 325.4L317.1 329.1L319.4 332.8L312.6 336.7L310.4 333.2ZM312.6 336.7L319.4 332.8L321.6 336.6L323.6 340.6L316.4 343.8L314.6 340.2ZM316.4 343.8L323.6 340.6L325.4 344.6L327.0 348.7L319.6 351.3L318.1 347.5ZM325.3 383.0L333.3 383.0L333.2 387.4L332.9 391.7L325.0 391.1L325.2 387.0ZM325.0 391.1L332.9 391.7L332.4 396.1L331.7 400.4L323.9 399.1L324.5 395.1ZM213.4 474.3L212.1 481.9L207.6 481.0L203.3 480.0L205.3 472.5L209.4 473.5ZM314.6 325.4L321.1 321.0L323.8 324.9L326.3 328.9L319.4 332.8L317.1 329.1ZM333.3 383.0L341.2 383.0L341.1 387.7L340.8 392.4L332.9 391.7L333.2 387.4ZM332.9 391.7L340.8 392.4L340.3 397.1L339.5 401.8L331.7 400.4L332.4 396.1ZM194.7 477.3L192.0 484.6L187.4 482.9L183.0 481.0L186.4 474.0L190.5 475.7ZM186.4 474.0L183.0 481.0L178.6 478.9L174.4 476.6L178.4 469.9L182.3 472.0ZM133.0 417.3L125.5 420.0L123.9 415.5L122.6 411.0L130.2 409.0L131.5 413.2ZM341.2 383.0L349.2 383.0L349.1 388.1L348.7 393.1L340.8 392.4L341.1 387.7ZM340.8 392.4L348.7 393.1L348.1 398.1L347.4 403.1L339.5 401.8L340.3 397.1ZM201.2 487.4L199.2 494.9L194.2 493.5L189.2 491.8L192.0 484.6L196.6 486.1ZM192.0 484.6L189.2 491.8L184.4 490.0L179.6 488.0L183.0 481.0L187.4 482.9ZM183.0 481.0L179.6 488.0L175.0 485.7L170.4 483.3L174.4 476.6L178.6 478.9ZM125.5 420.0L118.0 422.6L116.3 417.8L114.9 413.0L122.6 411.0L123.9 415.5ZM158.5 300.2L153.4 294.3L157.5 291.1L161.6 288.1L166.2 294.4L162.3 297.2ZM201.2 278.6L199.2 271.1L204.2 269.9L209.3 268.9L210.7 276.5L205.9 277.5ZM349.2 383.0L357.1 383.0L357.0 388.4L356.6 393.8L348.7 393.1L349.1 388.1ZM314.3 464.9L319.9 470.4L315.9 474.1L311.7 477.6L306.6 471.7L310.5 468.4ZM199.2 494.9L197.1 502.3L191.8 500.8L186.5 499.1L189.2 491.8L194.2 493.5ZM189.2 491.8L186.5 499.1L181.4 497.2L176.3 495.0L179.6 488.0L184.4 490.0ZM179.6 488.0L176.3 495.0L171.3 492.6L166.4 490.0L170.4 483.3L175.0 485.7ZM118.0 422.6L110.6 425.3L108.8 420.2L107.2 415.0L114.9 413.0L116.3 417.8ZM153.4 294.3L148.3 288.4L152.6 285.0L157.1 281.8L161.6 288.1L157.5 291.1ZM357.1 383.0L365.1 383.0L364.9 388.7L364.5 394.4L356.6 393.8L357.0 388.4ZM319.9 470.4L325.5 475.8L321.2 479.8L316.8 483.6L311.7 477.6L315.9 474.1ZM197.1 502.3L195.0 509.8L189.4 508.2L183.8 506.4L186.5 499.1L191.8 500.8ZM186.5 499.1L183.8 506.4L178.3 504.3L172.9 502.0L176.3 495.0L181.4 497.2ZM110.6 425.3L103.1 427.9L101.2 422.5L99.5 417.0L107.2 415.0L108.8 420.2ZM148.3 288.4L143.2 282.4L147.8 278.9L152.5 275.5L157.1 281.8L152.6 285.0ZM365.1 383.0L373.0 383.0L372.9 389.1L372.5 395.1L364.5 394.4L364.9 388.7ZM364.5 394.4L372.5 395.1L371.8 401.1L370.8 407.1L363.0 405.8L363.9 400.1ZM325.5 475.8L331.1 481.3L326.6 485.5L321.9 489.5L316.8 483.6L321.2 479.8ZM195.0 509.8L193.0 517.3L187.0 515.6L181.1 513.6L183.8 506.4L189.4 508.2ZM183.8 506.4L181.1 513.6L175.3 511.4L169.6 509.0L172.9 502.0L178.3 504.3ZM172.9 502.0L169.6 509.0L164.0 506.3L158.5 503.4L162.5 496.7L167.6 499.4ZM103.1 427.9L95.6 430.5L93.6 424.8L91.9 419.0L99.5 417.0L101.2 422.5ZM143.2 282.4L138.1 276.5L142.9 272.7L148.0 269.1L152.5 275.5L147.8 278.9Z" fill="#4f88c3" stroke="#4f88c3" stroke-width="0.6"/>
<path d="M222.1 383.0L214.1 383.0L214.1 382.3L214.2 381.7L214.2 381.0L214.4 380.3L214.5 379.7L214.7 379.0L214.8 378.4L215.1 377.7L215.3 377.1L215.6 376.5L215.9 375.9L216.2 375.3L223.1 379.1L223.0 379.4L222.8 379.7L222.7 380.0L222.5 380.4L222.4 380.7L222.3 381.0L222.2 381.3L222.2 381.7L222.1 382.0L222.1 382.3L222.1 382.7ZM245.9 356.2L249.9 349.6L251.3 350.4L252.8 351.4L254.2 352.4L255.5 353.4L250.4 359.3L249.3 358.5L248.2 357.7L247.1 356.9ZM202.5 367.6L195.6 363.7L196.5 362.3L197.5 360.9L198.5 359.5L199.6 358.2L205.7 363.1L204.8 364.2L204.0 365.3L203.2 366.4ZM269.7 383.0L277.7 383.0L277.6 385.0L277.5 387.0L277.3 389.0L276.9 391.0L269.1 389.7L269.4 388.0L269.6 386.4L269.7 384.7ZM210.1 349.6L206.2 342.9L208.0 341.9L209.9 341.0L211.8 340.2L213.7 339.5L216.4 346.7L214.8 347.3L213.2 348.0L211.7 348.8ZM191.0 409.6L184.4 414.0L183.1 412.0L181.8 410.0L188.7 406.2L189.8 407.9ZM202.7 345.0L198.1 338.7L200.1 337.4L202.2 336.2L206.2 342.9L204.4 343.9ZM206.2 342.9L202.2 336.2L204.3 335.1L206.5 334.0L209.9 341.0L208.0 341.9ZM194.3 424.4L189.1 430.3L187.1 428.5L185.1 426.7L190.7 421.2L192.4 422.9ZM187.4 417.7L181.3 422.7L179.6 420.6L177.9 418.4L184.4 414.0L185.9 415.9ZM288.6 343.1L295.1 338.7L297.0 341.5L298.8 344.4L291.9 348.2L290.3 345.7ZM291.9 348.2L298.8 344.4L300.5 347.3L302.0 350.4L294.8 353.6L293.4 350.9ZM290.9 333.4L296.9 328.4L299.3 331.3L301.6 334.3L295.1 338.7L293.0 336.0ZM301.6 334.3L308.1 329.8L310.4 333.2L312.6 336.7L305.7 340.5L303.7 337.4ZM305.7 340.5L312.6 336.7L314.6 340.2L316.4 343.8L309.2 347.1L307.5 343.8ZM319.4 332.8L326.3 328.9L328.7 333.1L330.8 337.3L323.6 340.6L321.6 336.6ZM348.7 393.1L356.6 393.8L356.0 399.1L355.2 404.5L347.4 403.1L348.1 398.1ZM356.6 393.8L364.5 394.4L363.9 400.1L363.0 405.8L355.2 404.5L356.0 399.1ZM176.3 495.0L172.9 502.0L167.6 499.4L162.5 496.7L166.4 490.0L171.3 492.6Z" fill="#62a0cf" stroke="#62a0cf" stroke-width="0.6"/>
<path d="M196.3 415.8L190.7 421.2L189.0 419.5L187.4 417.7L193.5 412.8L194.9 414.3ZM193.5 412.8L187.4 417.7L185.9 415.9L184.4 414.0L191.0 409.6L192.2 411.2ZM190.7 421.2L185.1 426.7L183.1 424.7L181.3 422.7L187.4 417.7L189.0 419.5ZM295.1 338.7L301.6 334.3L303.7 337.4L305.7 340.5L298.8 344.4L297.0 341.5ZM298.8 344.4L305.7 340.5L307.5 343.8L309.2 347.1L302.0 350.4L300.5 347.3Z" fill="#74add1" stroke="#74add1" stroke-width="0.6"/>
</g>
<g fill="none" stroke="#ffffb0" stroke-width="1.15" style="shape-rendering:geometricPrecision">
<ellipse cx="230.0" cy="383.0" rx="47.7" ry="46.3"/>
<ellipse cx="230.0" cy="383.0" rx="95.3" ry="92.7"/>
<ellipse cx="230.0" cy="383.0" rx="143.0" ry="139.0"/>
<line x1="87.0" y1="383.5" x2="373.0" y2="383.5"/>
<line x1="230.5" y1="244.0" x2="230.5" y2="522.0"/>
<line style="shape-rendering:geometricPrecision" x1="128.9" y1="284.7" x2="331.1" y2="481.3"/>
<line style="shape-rendering:geometricPrecision" x1="128.9" y1="481.3" x2="331.1" y2="284.7"/>
</g>
<line x1="230.5" y1="383.5" x2="306.5" y2="342.5" stroke="#ffa500" stroke-width="1" style="shape-rendering:geometricPrecision"/>
<circle cx="310.4" cy="326.2" r="3.9" fill="#ffa500"/>
<circle cx="310.5" cy="330" r="4.0" fill="#ffa500"/>
<circle cx="310.6" cy="334" r="4.0" fill="#ffa500"/>
<circle cx="310.8" cy="338" r="4.0" fill="#ffa500"/>
<circle cx="311.0" cy="342" r="4.1" fill="#ffa500"/>
<circle cx="311.0" cy="346" r="4.1" fill="#ffa500"/>
<circle cx="310.9" cy="350" r="4.0" fill="#ffa500"/>
<circle cx="310.5" cy="354" r="3.9" fill="#ffa500"/>
<circle cx="310.0" cy="357.5" r="3.8" fill="#ffa500"/>
<circle cx="309.5" cy="361" r="3.8" fill="#ffa500"/>
<circle cx="309.1" cy="364.5" r="3.8" fill="#ffa500"/>
<circle cx="308.7" cy="367.5" r="3.8" fill="#ffa500"/>
<circle cx="308.4" cy="369.3" r="3.7" fill="#ffa500"/>
<polygon points="511.6,461.3 778.8,507.6 933.9,428.1 666.7,381.8" fill="none" stroke="#ffffb0" stroke-width="1" class="cr"/>
<line x1="666.7" y1="381.8" x2="661.4" y2="384.5" stroke="#ffffb0" stroke-width="1"/>
<line x1="693.4" y1="386.4" x2="690.8" y2="387.8" stroke="#ffffb0" stroke-width="1"/>
<line x1="720.1" y1="391.1" x2="714.8" y2="393.8" stroke="#ffffb0" stroke-width="1"/>
<line x1="746.9" y1="395.7" x2="744.2" y2="397.1" stroke="#ffffb0" stroke-width="1"/>
<line x1="773.6" y1="400.3" x2="768.2" y2="403.1" stroke="#ffffb0" stroke-width="1"/>
<line x1="800.3" y1="405.0" x2="797.6" y2="406.3" stroke="#ffffb0" stroke-width="1"/>
<line x1="827.0" y1="409.6" x2="821.7" y2="412.3" stroke="#ffffb0" stroke-width="1"/>
<line x1="853.7" y1="414.2" x2="851.1" y2="415.6" stroke="#ffffb0" stroke-width="1"/>
<line x1="880.5" y1="418.8" x2="875.1" y2="421.6" stroke="#ffffb0" stroke-width="1"/>
<line x1="907.2" y1="423.5" x2="904.5" y2="424.8" stroke="#ffffb0" stroke-width="1"/>
<line x1="933.9" y1="428.1" x2="928.6" y2="430.8" stroke="#ffffb0" stroke-width="1"/>
<line x1="511.6" y1="461.3" x2="517.5" y2="462.3" stroke="#ffffb0" stroke-width="1"/>
<line x1="533.8" y1="449.9" x2="539.7" y2="451.0" stroke="#ffffb0" stroke-width="1"/>
<line x1="555.9" y1="438.6" x2="561.8" y2="439.6" stroke="#ffffb0" stroke-width="1"/>
<line x1="578.1" y1="427.2" x2="584.0" y2="428.3" stroke="#ffffb0" stroke-width="1"/>
<line x1="600.2" y1="415.9" x2="606.1" y2="416.9" stroke="#ffffb0" stroke-width="1"/>
<line x1="622.4" y1="404.5" x2="628.3" y2="405.5" stroke="#ffffb0" stroke-width="1"/>
<line x1="644.5" y1="393.2" x2="650.5" y2="394.2" stroke="#ffffb0" stroke-width="1"/>
<line x1="666.7" y1="381.8" x2="672.6" y2="382.8" stroke="#ffffb0" stroke-width="1"/>
<defs>
<linearGradient id="g1" gradientUnits="userSpaceOnUse" x1="650" y1="301.35" x2="635.1" y2="450.6"><stop offset="0" stop-color="#e4f1f1"/><stop offset="0.07" stop-color="#f2f4e8"/><stop offset="0.17" stop-color="#f8f3e1"/><stop offset="0.30" stop-color="#f4f4e6"/><stop offset="0.38" stop-color="#e8f4f2"/><stop offset="0.46" stop-color="#d6edf5"/><stop offset="0.55" stop-color="#bcdfee"/><stop offset="0.65" stop-color="#a3d0e6"/><stop offset="0.78" stop-color="#86badb"/><stop offset="0.90" stop-color="#6ba0d1"/><stop offset="1" stop-color="#5488c4"/></linearGradient>
<linearGradient id="g2" gradientUnits="userSpaceOnUse" x1="650" y1="301.2" x2="609.6" y2="445.6"><stop offset="0" stop-color="#e4f1f1"/><stop offset="0.07" stop-color="#f2f4e8"/><stop offset="0.17" stop-color="#f8f3e1"/><stop offset="0.30" stop-color="#f4f4e6"/><stop offset="0.38" stop-color="#e8f4f2"/><stop offset="0.46" stop-color="#d6edf5"/><stop offset="0.55" stop-color="#bcdfee"/><stop offset="0.65" stop-color="#a3d0e6"/><stop offset="0.78" stop-color="#86badb"/><stop offset="0.90" stop-color="#6ba0d1"/><stop offset="1" stop-color="#5488c4"/></linearGradient>
<clipPath id="sc"><polygon points="547.3,418.9 548.5,416.8 549.7,415.7 550.9,413.9 552.1,414.5 553.3,415.2 554.2,412.5 555.1,411.0 556.0,411.0 557.0,408.9 557.9,407.3 558.8,408.0 560.2,405.2 561.6,406.9 563.0,405.8 564.4,406.3 564.8,404.6 565.1,400.9 565.5,399.8 565.9,400.3 566.2,396.0 566.6,397.5 566.7,393.2 566.8,392.7 566.9,391.4 567.0,391.4 567.1,390.4 567.2,387.5 567.3,387.5 567.4,385.7 567.5,384.1 567.6,383.3 567.7,382.0 568.0,379.3 568.4,378.0 568.7,375.5 569.0,375.1 569.4,373.4 569.7,372.5 570.0,370.7 570.3,370.0 570.7,369.2 571.0,368.7 571.4,364.5 571.8,363.2 572.2,362.4 572.6,361.6 573.1,361.5 573.5,360.5 573.9,359.1 574.3,358.7 575.6,358.3 577.0,356.0 578.3,356.8 579.7,355.3 581.0,357.6 581.5,355.3 582.1,352.4 582.6,351.5 583.2,352.9 583.8,351.1 584.3,350.5 585.6,347.0 586.8,347.6 588.1,345.4 589.4,346.4 590.7,346.6 591.9,344.2 593.2,345.4 594.3,342.3 595.4,343.1 596.5,342.9 597.6,341.4 598.7,338.8 599.8,338.7 600.9,339.9 602.0,338.7 603.1,338.4 604.2,337.8 605.3,334.9 606.4,336.5 607.7,335.3 608.9,333.6 610.2,333.3 611.5,333.4 612.8,331.2 614.0,332.3 615.3,332.1 616.4,329.4 617.5,330.3 618.6,328.7 619.7,328.5 620.8,327.6 621.9,324.8 623.0,327.0 624.2,324.0 625.5,324.9 626.8,322.5 628.0,323.9 629.2,322.8 630.5,320.8 631.8,320.8 633.0,322.1 634.1,321.1 635.2,317.8 636.3,319.4 637.5,318.6 638.6,316.4 639.7,317.0 640.8,317.3 642.2,316.3 643.6,316.9 645.0,316.7 646.5,315.2 647.9,316.1 649.3,314.9 650.7,316.6 652.0,314.9 653.2,314.0 654.5,311.8 655.8,312.6 657.1,311.7 658.3,310.2 659.6,312.2 660.9,311.2 662.2,310.9 663.4,308.2 664.7,308.0 666.0,309.3 667.3,309.0 668.6,306.9 669.8,305.9 671.1,307.7 672.4,307.8 673.6,305.7 674.9,306.6 676.1,308.1 677.3,309.4 678.6,311.1 679.8,312.0 681.1,309.9 682.3,313.5 683.7,312.4 685.1,310.7 686.5,311.7 688.0,309.6 689.4,309.9 690.8,310.5 692.2,311.0 693.6,310.8 695.0,309.4 696.3,311.6 697.7,311.4 699.1,310.7 700.5,310.1 701.8,311.1 703.2,312.4 704.6,313.5 705.9,310.4 707.3,312.2 708.6,312.4 710.0,311.3 711.3,310.4 712.7,311.2 714.0,310.5 715.3,309.6 716.7,308.6 718.0,309.6 719.4,308.6 720.7,309.3 721.9,307.1 723.2,307.2 724.4,308.6 725.6,308.9 726.8,309.7 728.1,311.5 729.3,312.3 730.3,313.2 731.3,314.2 732.3,312.5 733.3,314.1 734.3,317.2 735.7,314.5 737.1,317.4 738.4,315.7 739.8,316.3 741.2,315.7 742.6,317.1 743.9,315.2 745.3,318.1 746.7,318.5 748.1,316.9 749.6,316.3 751.0,315.8 752.4,316.3 753.9,316.4 755.3,318.5 756.2,317.3 757.1,318.2 758.1,321.1 759.0,323.4 760.5,321.6 762.0,321.2 763.5,321.6 765.0,323.2 766.5,324.7 767.6,323.2 768.6,323.9 769.7,325.6 770.7,326.4 771.8,328.0 772.8,328.3 773.9,330.9 775.3,328.6 776.6,329.8 778.0,327.7 779.4,326.2 780.8,326.1 782.1,326.1 783.5,327.9 784.9,327.0 786.3,326.3 787.8,327.0 789.2,327.7 790.6,326.8 792.0,329.6 793.0,330.2 794.0,329.1 795.0,332.1 796.0,331.2 797.0,333.9 798.4,331.9 799.8,332.2 801.1,330.2 802.5,330.3 803.9,331.3 805.0,330.2 806.1,329.9 807.2,332.6 808.4,334.1 809.5,333.9 810.6,335.5 812.0,333.5 813.3,335.0 814.7,335.1 816.0,332.9 817.4,333.7 818.8,334.4 820.1,333.1 821.5,334.8 822.8,333.9 824.2,335.9 825.3,336.2 826.4,336.5 827.5,336.3 828.7,336.9 829.8,337.9 830.9,341.5 832.3,340.3 833.6,339.6 835.0,340.3 836.3,340.7 837.7,339.6 839.1,338.4 840.4,338.3 841.8,338.6 843.1,337.8 844.5,340.6 845.2,341.0 846.0,342.5 846.7,342.9 847.4,344.6 848.1,346.0 848.9,346.6 849.6,349.1 850.4,348.2 851.3,349.6 852.1,351.2 853.0,350.6 853.8,351.2 854.6,353.8 855.5,355.9 856.3,357.1 857.2,355.6 858.0,359.2 858.6,360.4 859.1,359.6 859.7,361.3 860.3,363.4 860.8,363.2 861.4,366.9 862.9,366.4 864.3,365.6 865.8,364.3 867.3,365.2 868.5,366.0 869.7,364.4 870.9,367.0 872.1,368.1 873.3,369.4 873.6,370.5 873.9,370.1 874.2,371.9 874.5,372.6 874.9,373.8 875.2,374.6 875.5,375.4 875.8,379.6 877.3,377.5 878.8,379.0 880.2,378.2 881.7,379.6 881.4,382.0 881.2,382.8 880.9,386.4 880.7,389.1 880.4,388.2 880.1,390.2 879.9,392.1 879.6,395.2 879.3,396.0 879.1,398.0 878.8,400.2 878.6,400.1 878.3,399.9 876.6,402.6 875.0,398.2 874.6,403.8 874.3,401.7 873.9,407.0 873.5,407.6 873.2,406.5 872.8,409.5 872.5,411.8 872.1,414.6 871.7,413.7 871.4,416.1 871.0,415.1 870.6,417.6 870.3,415.7 870.0,414.9 869.6,411.2 869.2,410.6 868.9,407.1 868.6,407.9 868.2,403.2 866.7,406.9 865.2,406.1 863.7,406.4 862.2,403.2 861.5,402.7 860.7,404.3 860.0,403.2 859.2,401.7 858.5,398.2 857.8,397.9 857.0,394.3 856.3,391.4 855.3,396.9 854.3,398.0 853.2,397.0 852.2,397.2 851.2,398.2 849.7,399.3 848.2,399.0 846.8,399.1 845.3,394.8 844.3,398.1 843.3,397.2 842.3,401.8 841.4,399.6 840.4,404.1 839.4,401.6 839.1,400.9 838.8,400.1 838.6,400.6 838.3,396.2 838.0,394.7 837.7,394.9 837.5,394.3 837.2,393.3 836.9,388.0 835.4,391.8 833.8,393.6 832.3,392.3 830.7,395.0 829.2,391.4 827.9,391.1 826.5,391.0 825.2,391.7 823.8,390.0 822.5,388.0 822.1,389.6 821.6,387.5 821.2,385.3 820.8,381.2 819.1,385.5 817.4,384.8 815.7,384.2 814.0,385.0 812.3,383.8 810.8,388.5 809.3,389.6 807.9,387.3 806.4,387.2 804.9,391.7 803.5,392.8 802.0,391.4 800.5,389.7 799.2,393.3 798.0,392.7 796.7,395.3 795.4,393.9 794.1,397.0 792.8,398.3 791.4,396.6 790.1,401.7 788.8,400.5 787.5,400.8 786.1,403.5 784.8,403.3 783.5,401.6 782.2,404.6 780.8,406.4 779.5,404.4 778.1,407.4 776.8,405.8 774.8,408.0 772.7,406.4 772.2,412.1 771.6,413.4 771.1,411.9 770.6,414.2 770.1,414.0 769.5,416.8 769.0,416.3 768.7,421.5 768.3,423.3 768.0,422.9 767.7,423.7 767.3,424.6 767.0,428.0 766.7,430.9 766.3,428.8 766.0,433.2 765.7,431.3 765.3,433.5 765.0,435.2 764.7,438.7 764.3,438.6 764.0,438.6 763.6,441.7 763.2,444.4 762.8,443.5 762.3,447.8 761.9,446.6 761.5,449.8 761.1,450.1 760.7,451.4 760.3,454.4 759.9,455.4 759.5,456.6 759.0,458.3 758.6,460.3 758.2,460.1 757.8,460.9 756.2,462.7 754.7,465.6 753.1,466.5 751.6,464.6 750.5,468.2 749.5,470.9 748.4,471.1 747.4,473.4 746.3,471.9 745.3,475.4 744.2,473.3 743.8,475.5 743.4,474.4 743.0,470.3 742.7,468.8 742.3,470.1 741.9,465.4 741.5,467.5 741.1,465.5 740.7,460.6 740.3,459.6 739.9,460.3 739.5,456.8 739.2,454.6 738.8,456.4 738.4,453.1 738.0,449.7 736.6,454.1 735.1,452.0 733.7,454.2 732.3,456.3 730.9,454.2 729.4,455.9 728.0,455.9 727.5,460.5 727.1,463.1 726.6,464.9 726.2,462.6 725.8,465.9 725.3,468.6 724.9,469.0 724.4,468.3 724.0,469.8 723.6,466.1 723.1,464.0 722.7,462.6 722.3,460.7 721.9,461.5 721.5,459.8 721.1,458.5 720.6,455.0 720.2,453.6 719.8,452.2 719.4,449.7 717.9,453.9 716.4,455.0 714.9,455.1 713.4,451.8 711.8,452.0 710.3,456.4 708.8,454.7 707.3,456.4 705.8,453.4 705.3,453.4 704.8,452.5 704.4,451.3 703.9,449.4 703.4,448.7 703.0,444.5 702.5,446.1 702.0,441.5 700.4,445.4 698.9,442.5 697.3,443.9 695.7,445.3 694.1,443.9 692.6,443.1 691.0,442.3 690.4,441.6 689.7,441.7 689.1,438.0 688.5,440.5 687.8,438.7 687.2,433.6 686.0,437.8 684.7,439.6 683.5,439.6 682.3,439.6 681.1,441.6 679.8,442.2 678.6,441.0 677.1,446.1 675.7,445.9 674.2,444.1 672.8,447.6 671.4,447.5 669.9,444.8 668.5,447.4 667.1,446.7 665.7,444.0 664.2,445.3 662.8,444.3 661.4,442.6 660.0,438.6 658.4,443.1 656.8,444.1 655.2,441.7 654.5,442.1 653.7,442.0 653.0,437.6 652.2,437.4 651.5,436.5 650.7,432.9 649.2,432.6 647.8,433.8 646.3,434.7 644.8,434.2 643.4,432.1 641.9,430.7 640.6,436.1 639.2,435.9 637.9,435.5 636.5,438.1 635.2,436.2 633.7,438.0 632.3,437.1 630.8,435.8 629.3,437.8 627.9,435.4 626.4,431.8 625.8,433.5 625.3,432.3 624.7,431.8 624.1,426.0 623.6,427.2 623.0,422.9 621.7,427.2 620.4,425.9 619.1,427.5 617.9,426.9 616.6,428.4 615.3,428.5 613.8,430.6 612.3,429.7 610.8,430.7 609.4,434.0 607.9,432.8 606.4,430.7 604.9,432.1 603.3,433.3 601.8,430.6 600.2,431.6 598.7,426.2 598.3,427.4 598.0,426.5 597.6,421.6 597.2,422.3 596.9,421.4 596.5,416.3 595.1,417.1 593.7,421.6 592.3,418.7 590.9,418.5 589.4,421.2 587.9,420.4 586.4,422.4 584.8,423.5 583.3,421.5 581.8,426.1 580.3,424.2 578.8,422.9 577.4,424.4 576.0,423.9 574.6,422.1 573.2,419.6 572.3,422.2 571.4,425.2 570.6,426.1 569.7,426.2 568.8,426.2 567.5,430.4 566.2,429.4 564.9,429.1 563.6,431.0 562.3,431.1 561.0,431.8 560.1,433.8 559.2,437.8 558.4,437.5 557.5,441.1 556.6,438.4 556.1,440.2 555.5,435.6 555.0,438.3 554.4,436.6 553.9,431.1 553.3,433.3 552.8,429.7 552.2,426.2 551.2,426.9 550.2,427.7 549.3,422.9 548.3,422.7 547.3,418.9"/></clipPath>
<filter id="b6" x="-30%" y="-30%" width="160%" height="160%"><feGaussianBlur stdDeviation="6"/></filter>
<filter id="b3" x="-30%" y="-30%" width="160%" height="160%"><feGaussianBlur stdDeviation="3"/></filter>
</defs>
<polygon points="547.3,418.9 548.5,416.8 549.7,415.7 550.9,413.9 552.1,414.5 553.3,415.2 554.2,412.5 555.1,411.0 556.0,411.0 557.0,408.9 557.9,407.3 558.8,408.0 560.2,405.2 561.6,406.9 563.0,405.8 564.4,406.3 564.8,404.6 565.1,400.9 565.5,399.8 565.9,400.3 566.2,396.0 566.6,397.5 566.7,393.2 566.8,392.7 566.9,391.4 567.0,391.4 567.1,390.4 567.2,387.5 567.3,387.5 567.4,385.7 567.5,384.1 567.6,383.3 567.7,382.0 568.0,379.3 568.4,378.0 568.7,375.5 569.0,375.1 569.4,373.4 569.7,372.5 570.0,370.7 570.3,370.0 570.7,369.2 571.0,368.7 571.4,364.5 571.8,363.2 572.2,362.4 572.6,361.6 573.1,361.5 573.5,360.5 573.9,359.1 574.3,358.7 575.6,358.3 577.0,356.0 578.3,356.8 579.7,355.3 581.0,357.6 581.5,355.3 582.1,352.4 582.6,351.5 583.2,352.9 583.8,351.1 584.3,350.5 585.6,347.0 586.8,347.6 588.1,345.4 589.4,346.4 590.7,346.6 591.9,344.2 593.2,345.4 594.3,342.3 595.4,343.1 596.5,342.9 597.6,341.4 598.7,338.8 599.8,338.7 600.9,339.9 602.0,338.7 603.1,338.4 604.2,337.8 605.3,334.9 606.4,336.5 607.7,335.3 608.9,333.6 610.2,333.3 611.5,333.4 612.8,331.2 614.0,332.3 615.3,332.1 616.4,329.4 617.5,330.3 618.6,328.7 619.7,328.5 620.8,327.6 621.9,324.8 623.0,327.0 624.2,324.0 625.5,324.9 626.8,322.5 628.0,323.9 629.2,322.8 630.5,320.8 631.8,320.8 633.0,322.1 634.1,321.1 635.2,317.8 636.3,319.4 637.5,318.6 638.6,316.4 639.7,317.0 640.8,317.3 642.2,316.3 643.6,316.9 645.0,316.7 646.5,315.2 647.9,316.1 649.3,314.9 650.7,316.6 652.0,314.9 653.2,314.0 654.5,311.8 655.8,312.6 657.1,311.7 658.3,310.2 659.6,312.2 660.9,311.2 662.2,310.9 663.4,308.2 664.7,308.0 666.0,309.3 667.3,309.0 668.6,306.9 669.8,305.9 671.1,307.7 672.4,307.8 673.6,305.7 674.9,306.6 676.1,308.1 677.3,309.4 678.6,311.1 679.8,312.0 681.1,309.9 682.3,313.5 683.7,312.4 685.1,310.7 686.5,311.7 688.0,309.6 689.4,309.9 690.8,310.5 692.2,311.0 693.6,310.8 695.0,309.4 696.3,311.6 697.7,311.4 699.1,310.7 700.5,310.1 701.8,311.1 703.2,312.4 704.6,313.5 705.9,310.4 707.3,312.2 708.6,312.4 710.0,311.3 711.3,310.4 712.7,311.2 714.0,310.5 715.3,309.6 716.7,308.6 718.0,309.6 719.4,308.6 720.7,309.3 721.9,307.1 723.2,307.2 724.4,308.6 725.6,308.9 726.8,309.7 728.1,311.5 729.3,312.3 730.3,313.2 731.3,314.2 732.3,312.5 733.3,314.1 734.3,317.2 735.7,314.5 737.1,317.4 738.4,315.7 739.8,316.3 741.2,315.7 742.6,317.1 743.9,315.2 745.3,318.1 746.7,318.5 748.1,316.9 749.6,316.3 751.0,315.8 752.4,316.3 753.9,316.4 755.3,318.5 756.2,317.3 757.1,318.2 758.1,321.1 759.0,323.4 760.5,321.6 762.0,321.2 763.5,321.6 765.0,323.2 766.5,324.7 767.6,323.2 768.6,323.9 769.7,325.6 770.7,326.4 771.8,328.0 772.8,328.3 773.9,330.9 775.3,328.6 776.6,329.8 778.0,327.7 779.4,326.2 780.8,326.1 782.1,326.1 783.5,327.9 784.9,327.0 786.3,326.3 787.8,327.0 789.2,327.7 790.6,326.8 792.0,329.6 793.0,330.2 794.0,329.1 795.0,332.1 796.0,331.2 797.0,333.9 798.4,331.9 799.8,332.2 801.1,330.2 802.5,330.3 803.9,331.3 805.0,330.2 806.1,329.9 807.2,332.6 808.4,334.1 809.5,333.9 810.6,335.5 812.0,333.5 813.3,335.0 814.7,335.1 816.0,332.9 817.4,333.7 818.8,334.4 820.1,333.1 821.5,334.8 822.8,333.9 824.2,335.9 825.3,336.2 826.4,336.5 827.5,336.3 828.7,336.9 829.8,337.9 830.9,341.5 832.3,340.3 833.6,339.6 835.0,340.3 836.3,340.7 837.7,339.6 839.1,338.4 840.4,338.3 841.8,338.6 843.1,337.8 844.5,340.6 845.2,341.0 846.0,342.5 846.7,342.9 847.4,344.6 848.1,346.0 848.9,346.6 849.6,349.1 850.4,348.2 851.3,349.6 852.1,351.2 853.0,350.6 853.8,351.2 854.6,353.8 855.5,355.9 856.3,357.1 857.2,355.6 858.0,359.2 858.6,360.4 859.1,359.6 859.7,361.3 860.3,363.4 860.8,363.2 861.4,366.9 862.9,366.4 864.3,365.6 865.8,364.3 867.3,365.2 868.5,366.0 869.7,364.4 870.9,367.0 872.1,368.1 873.3,369.4 873.6,370.5 873.9,370.1 874.2,371.9 874.5,372.6 874.9,373.8 875.2,374.6 875.5,375.4 875.8,379.6 877.3,377.5 878.8,379.0 880.2,378.2 881.7,379.6 881.4,382.0 881.2,382.8 880.9,386.4 880.7,389.1 880.4,388.2 880.1,390.2 879.9,392.1 879.6,395.2 879.3,396.0 879.1,398.0 878.8,400.2 878.6,400.1 878.3,399.9 876.6,402.6 875.0,398.2 874.6,403.8 874.3,401.7 873.9,407.0 873.5,407.6 873.2,406.5 872.8,409.5 872.5,411.8 872.1,414.6 871.7,413.7 871.4,416.1 871.0,415.1 870.6,417.6 870.3,415.7 870.0,414.9 869.6,411.2 869.2,410.6 868.9,407.1 868.6,407.9 868.2,403.2 866.7,406.9 865.2,406.1 863.7,406.4 862.2,403.2 861.5,402.7 860.7,404.3 860.0,403.2 859.2,401.7 858.5,398.2 857.8,397.9 857.0,394.3 856.3,391.4 855.3,396.9 854.3,398.0 853.2,397.0 852.2,397.2 851.2,398.2 849.7,399.3 848.2,399.0 846.8,399.1 845.3,394.8 844.3,398.1 843.3,397.2 842.3,401.8 841.4,399.6 840.4,404.1 839.4,401.6 839.1,400.9 838.8,400.1 838.6,400.6 838.3,396.2 838.0,394.7 837.7,394.9 837.5,394.3 837.2,393.3 836.9,388.0 835.4,391.8 833.8,393.6 832.3,392.3 830.7,395.0 829.2,391.4 827.9,391.1 826.5,391.0 825.2,391.7 823.8,390.0 822.5,388.0 822.1,389.6 821.6,387.5 821.2,385.3 820.8,381.2 819.1,385.5 817.4,384.8 815.7,384.2 814.0,385.0 812.3,383.8 810.8,388.5 809.3,389.6 807.9,387.3 806.4,387.2 804.9,391.7 803.5,392.8 802.0,391.4 800.5,389.7 799.2,393.3 798.0,392.7 796.7,395.3 795.4,393.9 794.1,397.0 792.8,398.3 791.4,396.6 790.1,401.7 788.8,400.5 787.5,400.8 786.1,403.5 784.8,403.3 783.5,401.6 782.2,404.6 780.8,406.4 779.5,404.4 778.1,407.4 776.8,405.8 774.8,408.0 772.7,406.4 772.2,412.1 771.6,413.4 771.1,411.9 770.6,414.2 770.1,414.0 769.5,416.8 769.0,416.3 768.7,421.5 768.3,423.3 768.0,422.9 767.7,423.7 767.3,424.6 767.0,428.0 766.7,430.9 766.3,428.8 766.0,433.2 765.7,431.3 765.3,433.5 765.0,435.2 764.7,438.7 764.3,438.6 764.0,438.6 763.6,441.7 763.2,444.4 762.8,443.5 762.3,447.8 761.9,446.6 761.5,449.8 761.1,450.1 760.7,451.4 760.3,454.4 759.9,455.4 759.5,456.6 759.0,458.3 758.6,460.3 758.2,460.1 757.8,460.9 756.2,462.7 754.7,465.6 753.1,466.5 751.6,464.6 750.5,468.2 749.5,470.9 748.4,471.1 747.4,473.4 746.3,471.9 745.3,475.4 744.2,473.3 743.8,475.5 743.4,474.4 743.0,470.3 742.7,468.8 742.3,470.1 741.9,465.4 741.5,467.5 741.1,465.5 740.7,460.6 740.3,459.6 739.9,460.3 739.5,456.8 739.2,454.6 738.8,456.4 738.4,453.1 738.0,449.7 736.6,454.1 735.1,452.0 733.7,454.2 732.3,456.3 730.9,454.2 729.4,455.9 728.0,455.9 727.5,460.5 727.1,463.1 726.6,464.9 726.2,462.6 725.8,465.9 725.3,468.6 724.9,469.0 724.4,468.3 724.0,469.8 723.6,466.1 723.1,464.0 722.7,462.6 722.3,460.7 721.9,461.5 721.5,459.8 721.1,458.5 720.6,455.0 720.2,453.6 719.8,452.2 719.4,449.7 717.9,453.9 716.4,455.0 714.9,455.1 713.4,451.8 711.8,452.0 710.3,456.4 708.8,454.7 707.3,456.4 705.8,453.4 705.3,453.4 704.8,452.5 704.4,451.3 703.9,449.4 703.4,448.7 703.0,444.5 702.5,446.1 702.0,441.5 700.4,445.4 698.9,442.5 697.3,443.9 695.7,445.3 694.1,443.9 692.6,443.1 691.0,442.3 690.4,441.6 689.7,441.7 689.1,438.0 688.5,440.5 687.8,438.7 687.2,433.6 686.0,437.8 684.7,439.6 683.5,439.6 682.3,439.6 681.1,441.6 679.8,442.2 678.6,441.0 677.1,446.1 675.7,445.9 674.2,444.1 672.8,447.6 671.4,447.5 669.9,444.8 668.5,447.4 667.1,446.7 665.7,444.0 664.2,445.3 662.8,444.3 661.4,442.6 660.0,438.6 658.4,443.1 656.8,444.1 655.2,441.7 654.5,442.1 653.7,442.0 653.0,437.6 652.2,437.4 651.5,436.5 650.7,432.9 649.2,432.6 647.8,433.8 646.3,434.7 644.8,434.2 643.4,432.1 641.9,430.7 640.6,436.1 639.2,435.9 637.9,435.5 636.5,438.1 635.2,436.2 633.7,438.0 632.3,437.1 630.8,435.8 629.3,437.8 627.9,435.4 626.4,431.8 625.8,433.5 625.3,432.3 624.7,431.8 624.1,426.0 623.6,427.2 623.0,422.9 621.7,427.2 620.4,425.9 619.1,427.5 617.9,426.9 616.6,428.4 615.3,428.5 613.8,430.6 612.3,429.7 610.8,430.7 609.4,434.0 607.9,432.8 606.4,430.7 604.9,432.1 603.3,433.3 601.8,430.6 600.2,431.6 598.7,426.2 598.3,427.4 598.0,426.5 597.6,421.6 597.2,422.3 596.9,421.4 596.5,416.3 595.1,417.1 593.7,421.6 592.3,418.7 590.9,418.5 589.4,421.2 587.9,420.4 586.4,422.4 584.8,423.5 583.3,421.5 581.8,426.1 580.3,424.2 578.8,422.9 577.4,424.4 576.0,423.9 574.6,422.1 573.2,419.6 572.3,422.2 571.4,425.2 570.6,426.1 569.7,426.2 568.8,426.2 567.5,430.4 566.2,429.4 564.9,429.1 563.6,431.0 562.3,431.1 561.0,431.8 560.1,433.8 559.2,437.8 558.4,437.5 557.5,441.1 556.6,438.4 556.1,440.2 555.5,435.6 555.0,438.3 554.4,436.6 553.9,431.1 553.3,433.3 552.8,429.7 552.2,426.2 551.2,426.9 550.2,427.7 549.3,422.9 548.3,422.7 547.3,418.9" fill="url(#g2)"/>
<g clip-path="url(#sc)">
<rect x="546" y="270" width="3.3" height="240" fill="url(#g1)" transform="translate(0 -2.2)"/>
<rect x="549" y="270" width="2.3" height="240" fill="url(#g1)" transform="translate(0 1.4)"/>
<rect x="551" y="270" width="3.3" height="240" fill="url(#g1)" transform="translate(0 -3.4)"/>
<rect x="554" y="270" width="2.3" height="240" fill="url(#g1)" transform="translate(0 0.6)"/>
<rect x="556" y="270" width="1.3" height="240" fill="url(#g1)" transform="translate(0 1.7)"/>
<rect x="557" y="270" width="1.3" height="240" fill="url(#g1)" transform="translate(0 -2.6)"/>
<rect x="558" y="270" width="2.3" height="240" fill="url(#g1)" transform="translate(0 1.9)"/>
<rect x="560" y="270" width="2.3" height="240" fill="url(#g1)" transform="translate(0 1.4)"/>
<rect x="562" y="270" width="3.3" height="240" fill="url(#g1)" transform="translate(0 -1.5)"/>
<rect x="565" y="270" width="1.3" height="240" fill="url(#g1)" transform="translate(0 -1.6)"/>
<rect x="566" y="270" width="1.3" height="240" fill="url(#g1)" transform="translate(0 2.8)"/>
<rect x="567" y="270" width="2.3" height="240" fill="url(#g1)" transform="translate(0 -1.5)"/>
<rect x="569" y="270" width="1.3" height="240" fill="url(#g1)" transform="translate(0 -4.1)"/>
<rect x="570" y="270" width="3.3" height="240" fill="url(#g1)" transform="translate(0 -2.7)"/>
<rect x="573" y="270" width="1.3" height="240" fill="url(#g1)" transform="translate(0 -6.0)"/>
<rect x="574" y="270" width="1.3" height="240" fill="url(#g1)" transform="translate(0 -5.9)"/>
<rect x="575" y="270" width="1.3" height="240" fill="url(#g1)" transform="translate(0 0.9)"/>
<rect x="576" y="270" width="1.3" height="240" fill="url(#g1)" transform="translate(0 3.8)"/>
<rect x="577" y="270" width="2.3" height="240" fill="url(#g1)" transform="translate(0 0.4)"/>
<rect x="579" y="270" width="1.3" height="240" fill="url(#g1)" transform="translate(0 0.6)"/>
<rect x="580" y="270" width="1.3" height="240" fill="url(#g1)" transform="translate(0 -2.5)"/>
<rect x="581" y="270" width="1.3" height="240" fill="url(#g1)" transform="translate(0 2.8)"/>
<rect x="582" y="270" width="2.3" height="240" fill="url(#g1)" transform="translate(0 -0.3)"/>
<rect x="584" y="270" width="2.3" height="240" fill="url(#g1)" transform="translate(0 -0.9)"/>
<rect x="586" y="270" width="1.3" height="240" fill="url(#g1)" transform="translate(0 -2.6)"/>
<rect x="587" y="270" width="2.3" height="240" fill="url(#g1)" transform="translate(0 -3.2)"/>
<rect x="589" y="270" width="3.3" height="240" fill="url(#g1)" transform="translate(0 -1.0)"/>
<rect x="592" y="270" width="3.3" height="240" fill="url(#g1)" transform="translate(0 1.0)"/>
<rect x="595" y="270" width="2.3" height="240" fill="url(#g1)" transform="translate(0 -3.3)"/>
<rect x="597" y="270" width="2.3" height="240" fill="url(#g1)" transform="translate(0 1.0)"/>
<rect x="599" y="270" width="2.3" height="240" fill="url(#g1)" transform="translate(0 2.3)"/>
<rect x="601" y="270" width="1.3" height="240" fill="url(#g1)" transform="translate(0 1.1)"/>
<rect x="602" y="270" width="1.3" height="240" fill="url(#g1)" transform="translate(0 -3.4)"/>
<rect x="603" y="270" width="1.3" height="240" fill="url(#g1)" transform="translate(0 2.2)"/>
<rect x="604" y="270" width="2.3" height="240" fill="url(#g1)" transform="translate(0 4.3)"/>
<rect x="606" y="270" width="1.3" height="240" fill="url(#g1)" transform="translate(0 2.8)"/>
<rect x="607" y="270" width="2.3" height="240" fill="url(#g1)" transform="translate(0 0.3)"/>
<rect x="609" y="270" width="3.3" height="240" fill="url(#g1)" transform="translate(0 3.3)"/>
<rect x="612" y="270" width="2.3" height="240" fill="url(#g1)" transform="translate(0 -2.3)"/>
<rect x="614" y="270" width="1.3" height="240" fill="url(#g1)" transform="translate(0 -0.1)"/>
<rect x="615" y="270" width="1.3" height="240" fill="url(#g1)" transform="translate(0 -3.5)"/>
<rect x="616" y="270" width="1.3" height="240" fill="url(#g1)" transform="translate(0 1.9)"/>
<rect x="617" y="270" width="2.3" height="240" fill="url(#g1)" transform="translate(0 -0.3)"/>
<rect x="619" y="270" width="2.3" height="240" fill="url(#g1)" transform="translate(0 3.4)"/>
<rect x="621" y="270" width="2.3" height="240" fill="url(#g1)" transform="translate(0 4.3)"/>
<rect x="623" y="270" width="1.3" height="240" fill="url(#g1)" transform="translate(0 3.2)"/>
<rect x="624" y="270" width="2.3" height="240" fill="url(#g1)" transform="translate(0 5.0)"/>
<rect x="626" y="270" width="1.3" height="240" fill="url(#g1)" transform="translate(0 2.1)"/>
<rect x="627" y="270" width="1.3" height="240" fill="url(#g1)" transform="translate(0 -1.4)"/>
<rect x="628" y="270" width="3.3" height="240" fill="url(#g1)" transform="translate(0 0.2)"/>
<rect x="631" y="270" width="1.3" height="240" fill="url(#g1)" transform="translate(0 -1.3)"/>
<rect x="632" y="270" width="3.3" height="240" fill="url(#g1)" transform="translate(0 -4.4)"/>
<rect x="635" y="270" width="2.3" height="240" fill="url(#g1)" transform="translate(0 -4.2)"/>
<rect x="637" y="270" width="1.3" height="240" fill="url(#g1)" transform="translate(0 -1.1)"/>
<rect x="638" y="270" width="2.3" height="240" fill="url(#g1)" transform="translate(0 3.8)"/>
<rect x="640" y="270" width="1.3" height="240" fill="url(#g1)" transform="translate(0 4.1)"/>
<rect x="641" y="270" width="1.3" height="240" fill="url(#g1)" transform="translate(0 6.6)"/>
<rect x="642" y="270" width="3.3" height="240" fill="url(#g1)" transform="translate(0 7.5)"/>
<rect x="645" y="270" width="1.3" height="240" fill="url(#g1)" transform="translate(0 1.7)"/>
<rect x="646" y="270" width="3.3" height="240" fill="url(#g1)" transform="translate(0 -0.4)"/>
<rect x="649" y="270" width="2.3" height="240" fill="url(#g1)" transform="translate(0 -0.6)"/>
<rect x="651" y="270" width="2.3" height="240" fill="url(#g2)" transform="translate(0 -3.5)"/>
<rect x="653" y="270" width="1.3" height="240" fill="url(#g2)" transform="translate(0 0.8)"/>
<rect x="654" y="270" width="2.3" height="240" fill="url(#g2)" transform="translate(0 3.5)"/>
<rect x="656" y="270" width="1.3" height="240" fill="url(#g2)" transform="translate(0 6.2)"/>
<rect x="657" y="270" width="3.3" height="240" fill="url(#g2)" transform="translate(0 7.5)"/>
<rect x="660" y="270" width="2.3" height="240" fill="url(#g2)" transform="translate(0 0.6)"/>
<rect x="662" y="270" width="2.3" height="240" fill="url(#g2)" transform="translate(0 -0.8)"/>
<rect x="664" y="270" width="1.3" height="240" fill="url(#g2)" transform="translate(0 2.6)"/>
<rect x="665" y="270" width="2.3" height="240" fill="url(#g2)" transform="translate(0 -1.8)"/>
<rect x="667" y="270" width="3.3" height="240" fill="url(#g2)" transform="translate(0 2.2)"/>
<rect x="670" y="270" width="3.3" height="240" fill="url(#g2)" transform="translate(0 0.8)"/>
<rect x="673" y="270" width="2.3" height="240" fill="url(#g2)" transform="translate(0 2.1)"/>
<rect x="675" y="270" width="2.3" height="240" fill="url(#g2)" transform="translate(0 1.0)"/>
<rect x="677" y="270" width="2.3" height="240" fill="url(#g2)" transform="translate(0 0.3)"/>
<rect x="679" y="270" width="1.3" height="240" fill="url(#g2)" transform="translate(0 -3.3)"/>
<rect x="680" y="270" width="3.3" height="240" fill="url(#g2)" transform="translate(0 2.3)"/>
<rect x="683" y="270" width="2.3" height="240" fill="url(#g2)" transform="translate(0 4.6)"/>
<rect x="685" y="270" width="1.3" height="240" fill="url(#g2)" transform="translate(0 -1.2)"/>
<rect x="686" y="270" width="2.3" height="240" fill="url(#g2)" transform="translate(0 -0.5)"/>
<rect x="688" y="270" width="3.3" height="240" fill="url(#g2)" transform="translate(0 3.0)"/>
<rect x="691" y="270" width="2.3" height="240" fill="url(#g2)" transform="translate(0 -2.3)"/>
<rect x="693" y="270" width="2.3" height="240" fill="url(#g2)" transform="translate(0 0.5)"/>
<rect x="695" y="270" width="1.3" height="240" fill="url(#g2)" transform="translate(0 2.6)"/>
<rect x="696" y="270" width="2.3" height="240" fill="url(#g2)" transform="translate(0 2.0)"/>
<rect x="698" y="270" width="2.3" height="240" fill="url(#g2)" transform="translate(0 4.1)"/>
<rect x="700" y="270" width="2.3" height="240" fill="url(#g2)" transform="translate(0 4.7)"/>
<rect x="702" y="270" width="2.3" height="240" fill="url(#g2)" transform="translate(0 6.7)"/>
<rect x="704" y="270" width="2.3" height="240" fill="url(#g2)" transform="translate(0 5.0)"/>
<rect x="706" y="270" width="3.3" height="240" fill="url(#g2)" transform="translate(0 5.9)"/>
<rect x="709" y="270" width="2.3" height="240" fill="url(#g2)" transform="translate(0 3.7)"/>
<rect x="711" y="270" width="2.3" height="240" fill="url(#g2)" transform="translate(0 0.5)"/>
<rect x="713" y="270" width="2.3" height="240" fill="url(#g2)" transform="translate(0 -0.1)"/>
<rect x="715" y="270" width="3.3" height="240" fill="url(#g2)" transform="translate(0 1.3)"/>
<rect x="718" y="270" width="2.3" height="240" fill="url(#g2)" transform="translate(0 -0.7)"/>
<rect x="720" y="270" width="2.3" height="240" fill="url(#g2)" transform="translate(0 1.8)"/>
<rect x="722" y="270" width="2.3" height="240" fill="url(#g2)" transform="translate(0 -0.4)"/>
<rect x="724" y="270" width="1.3" height="240" fill="url(#g2)" transform="translate(0 3.1)"/>
<rect x="725" y="270" width="2.3" height="240" fill="url(#g2)" transform="translate(0 6.0)"/>
<rect x="727" y="270" width="2.3" height="240" fill="url(#g2)" transform="translate(0 3.5)"/>
<rect x="729" y="270" width="3.3" height="240" fill="url(#g2)" transform="translate(0 6.2)"/>
<rect x="732" y="270" width="1.3" height="240" fill="url(#g2)" transform="translate(0 6.5)"/>
<rect x="733" y="270" width="2.3" height="240" fill="url(#g2)" transform="translate(0 1.6)"/>
<rect x="735" y="270" width="1.3" height="240" fill="url(#g2)" transform="translate(0 2.9)"/>
<rect x="736" y="270" width="2.3" height="240" fill="url(#g2)" transform="translate(0 -1.4)"/>
<rect x="738" y="270" width="3.3" height="240" fill="url(#g2)" transform="translate(0 -0.6)"/>
<rect x="741" y="270" width="2.3" height="240" fill="url(#g2)" transform="translate(0 -2.1)"/>
<rect x="743" y="270" width="3.3" height="240" fill="url(#g2)" transform="translate(0 1.3)"/>
<rect x="746" y="270" width="2.3" height="240" fill="url(#g2)" transform="translate(0 2.7)"/>
<rect x="748" y="270" width="1.3" height="240" fill="url(#g2)" transform="translate(0 -1.3)"/>
<rect x="749" y="270" width="3.3" height="240" fill="url(#g2)" transform="translate(0 -1.2)"/>
<rect x="752" y="270" width="1.3" height="240" fill="url(#g2)" transform="translate(0 -3.2)"/>
<rect x="753" y="270" width="1.3" height="240" fill="url(#g2)" transform="translate(0 -0.6)"/>
<rect x="754" y="270" width="1.3" height="240" fill="url(#g2)" transform="translate(0 4.1)"/>
<rect x="755" y="270" width="1.3" height="240" fill="url(#g2)" transform="translate(0 -0.8)"/>
<rect x="756" y="270" width="1.3" height="240" fill="url(#g2)" transform="translate(0 -3.9)"/>
<rect x="757" y="270" width="1.3" height="240" fill="url(#g2)" transform="translate(0 -2.3)"/>
<rect x="758" y="270" width="3.3" height="240" fill="url(#g2)" transform="translate(0 -5.5)"/>
<rect x="761" y="270" width="2.3" height="240" fill="url(#g2)" transform="translate(0 -4.3)"/>
<rect x="763" y="270" width="3.3" height="240" fill="url(#g2)" transform="translate(0 -6.2)"/>
<rect x="766" y="270" width="1.3" height="240" fill="url(#g2)" transform="translate(0 -5.8)"/>
<rect x="767" y="270" width="2.3" height="240" fill="url(#g2)" transform="translate(0 -7.7)"/>
<rect x="769" y="270" width="2.3" height="240" fill="url(#g2)" transform="translate(0 -0.2)"/>
<rect x="771" y="270" width="2.3" height="240" fill="url(#g2)" transform="translate(0 3.2)"/>
<rect x="773" y="270" width="3.3" height="240" fill="url(#g2)" transform="translate(0 0.6)"/>
<rect x="776" y="270" width="1.3" height="240" fill="url(#g2)" transform="translate(0 0.8)"/>
<rect x="777" y="270" width="2.3" height="240" fill="url(#g2)" transform="translate(0 -3.2)"/>
<rect x="779" y="270" width="3.3" height="240" fill="url(#g2)" transform="translate(0 -1.7)"/>
<rect x="782" y="270" width="3.3" height="240" fill="url(#g2)" transform="translate(0 -2.8)"/>
<rect x="785" y="270" width="2.3" height="240" fill="url(#g2)" transform="translate(0 1.3)"/>
<rect x="787" y="270" width="2.3" height="240" fill="url(#g2)" transform="translate(0 -0.1)"/>
<rect x="789" y="270" width="3.3" height="240" fill="url(#g2)" transform="translate(0 1.2)"/>
<rect x="792" y="270" width="2.3" height="240" fill="url(#g2)" transform="translate(0 0.4)"/>
<rect x="794" y="270" width="1.3" height="240" fill="url(#g2)" transform="translate(0 1.1)"/>
<rect x="795" y="270" width="3.3" height="240" fill="url(#g2)" transform="translate(0 0.4)"/>
<rect x="798" y="270" width="1.3" height="240" fill="url(#g2)" transform="translate(0 4.4)"/>
<rect x="799" y="270" width="3.3" height="240" fill="url(#g2)" transform="translate(0 -1.2)"/>
<rect x="802" y="270" width="1.3" height="240" fill="url(#g2)" transform="translate(0 -1.8)"/>
<rect x="803" y="270" width="2.3" height="240" fill="url(#g2)" transform="translate(0 -0.4)"/>
<rect x="805" y="270" width="3.3" height="240" fill="url(#g2)" transform="translate(0 0.2)"/>
<rect x="808" y="270" width="2.3" height="240" fill="url(#g2)" transform="translate(0 1.2)"/>
<rect x="810" y="270" width="3.3" height="240" fill="url(#g2)" transform="translate(0 -0.4)"/>
<rect x="813" y="270" width="2.3" height="240" fill="url(#g2)" transform="translate(0 4.1)"/>
<rect x="815" y="270" width="2.3" height="240" fill="url(#g2)" transform="translate(0 0.4)"/>
<rect x="817" y="270" width="2.3" height="240" fill="url(#g2)" transform="translate(0 -0.9)"/>
<rect x="819" y="270" width="1.3" height="240" fill="url(#g2)" transform="translate(0 0.4)"/>
<rect x="820" y="270" width="2.3" height="240" fill="url(#g2)" transform="translate(0 2.4)"/>
<rect x="822" y="270" width="2.3" height="240" fill="url(#g2)" transform="translate(0 1.3)"/>
<rect x="824" y="270" width="2.3" height="240" fill="url(#g2)" transform="translate(0 -3.6)"/>
<rect x="826" y="270" width="2.3" height="240" fill="url(#g2)" transform="translate(0 -2.1)"/>
<rect x="828" y="270" width="2.3" height="240" fill="url(#g2)" transform="translate(0 -4.3)"/>
<rect x="830" y="270" width="1.3" height="240" fill="url(#g2)" transform="translate(0 -5.8)"/>
<rect x="831" y="270" width="3.3" height="240" fill="url(#g2)" transform="translate(0 1.0)"/>
<rect x="834" y="270" width="1.3" height="240" fill="url(#g2)" transform="translate(0 -1.3)"/>
<rect x="835" y="270" width="1.3" height="240" fill="url(#g2)" transform="translate(0 2.2)"/>
<rect x="836" y="270" width="1.3" height="240" fill="url(#g2)" transform="translate(0 1.0)"/>
<rect x="837" y="270" width="3.3" height="240" fill="url(#g2)" transform="translate(0 -1.5)"/>
<rect x="840" y="270" width="2.3" height="240" fill="url(#g2)" transform="translate(0 1.7)"/>
<rect x="842" y="270" width="1.3" height="240" fill="url(#g2)" transform="translate(0 0.9)"/>
<rect x="843" y="270" width="1.3" height="240" fill="url(#g2)" transform="translate(0 2.5)"/>
<rect x="844" y="270" width="2.3" height="240" fill="url(#g2)" transform="translate(0 -0.5)"/>
<rect x="846" y="270" width="3.3" height="240" fill="url(#g2)" transform="translate(0 4.2)"/>
<rect x="849" y="270" width="3.3" height="240" fill="url(#g2)" transform="translate(0 3.6)"/>
<rect x="852" y="270" width="3.3" height="240" fill="url(#g2)" transform="translate(0 5.4)"/>
<rect x="855" y="270" width="1.3" height="240" fill="url(#g2)" transform="translate(0 -1.4)"/>
<rect x="856" y="270" width="1.3" height="240" fill="url(#g2)" transform="translate(0 -2.6)"/>
<rect x="857" y="270" width="3.3" height="240" fill="url(#g2)" transform="translate(0 0.5)"/>
<rect x="860" y="270" width="3.3" height="240" fill="url(#g2)" transform="translate(0 -1.6)"/>
<rect x="863" y="270" width="3.3" height="240" fill="url(#g2)" transform="translate(0 -5.1)"/>
<rect x="866" y="270" width="2.3" height="240" fill="url(#g2)" transform="translate(0 -4.1)"/>
<rect x="868" y="270" width="3.3" height="240" fill="url(#g2)" transform="translate(0 -5.5)"/>
<rect x="871" y="270" width="1.3" height="240" fill="url(#g2)" transform="translate(0 -5.3)"/>
<rect x="872" y="270" width="2.3" height="240" fill="url(#g2)" transform="translate(0 -1.2)"/>
<rect x="874" y="270" width="1.3" height="240" fill="url(#g2)" transform="translate(0 2.8)"/>
<rect x="875" y="270" width="3.3" height="240" fill="url(#g2)" transform="translate(0 -1.2)"/>
<rect x="878" y="270" width="2.3" height="240" fill="url(#g2)" transform="translate(0 1.8)"/>
<rect x="880" y="270" width="2.3" height="240" fill="url(#g2)" transform="translate(0 1.9)"/>
<rect x="882" y="270" width="2.3" height="240" fill="url(#g2)" transform="translate(0 4.3)"/>
<polygon points="806,300 900,300 900,430 800,430 812,360" fill="#e0f1f6" filter="url(#b6)"/>
<polygon points="760,318 800,326 850,336 850,346 800,338 760,330" fill="#e2f1f4" filter="url(#b3)"/>
<polygon points="796,396 822,378 862,364 890,368 890,430 800,430" fill="#a2cde6" filter="url(#b3)"/>
<polygon points="838,396 856,380 866,372 890,374 890,430 838,430" fill="#74a7d5" filter="url(#b3)"/>
<polygon points="862,388 890,384 890,430 856,430" fill="#5d90c9" filter="url(#b3)"/>
<polygon points="540,414 562,408 570,422 560,445 540,440" fill="#6da2d2" filter="url(#b3)"/>
</g>
<line x1="511.6" y1="461.3" x2="516.9" y2="458.6" stroke="#ffffb0" stroke-width="1"/>
<line x1="538.3" y1="465.9" x2="541.0" y2="464.6" stroke="#ffffb0" stroke-width="1"/>
<line x1="565.0" y1="470.6" x2="570.4" y2="467.8" stroke="#ffffb0" stroke-width="1"/>
<line x1="591.8" y1="475.2" x2="594.4" y2="473.8" stroke="#ffffb0" stroke-width="1"/>
<line x1="618.5" y1="479.8" x2="623.8" y2="477.1" stroke="#ffffb0" stroke-width="1"/>
<line x1="645.2" y1="484.5" x2="647.9" y2="483.1" stroke="#ffffb0" stroke-width="1"/>
<line x1="671.9" y1="489.1" x2="677.3" y2="486.3" stroke="#ffffb0" stroke-width="1"/>
<line x1="698.6" y1="493.7" x2="701.3" y2="492.3" stroke="#ffffb0" stroke-width="1"/>
<line x1="725.4" y1="498.3" x2="730.7" y2="495.6" stroke="#ffffb0" stroke-width="1"/>
<line x1="752.1" y1="503.0" x2="754.7" y2="501.6" stroke="#ffffb0" stroke-width="1"/>
<line x1="778.8" y1="507.6" x2="784.1" y2="504.9" stroke="#ffffb0" stroke-width="1"/>
<line x1="778.8" y1="507.6" x2="772.9" y2="506.6" stroke="#ffffb0" stroke-width="1"/>
<line x1="801.0" y1="496.2" x2="795.0" y2="495.2" stroke="#ffffb0" stroke-width="1"/>
<line x1="823.1" y1="484.9" x2="817.2" y2="483.9" stroke="#ffffb0" stroke-width="1"/>
<line x1="845.3" y1="473.5" x2="839.4" y2="472.5" stroke="#ffffb0" stroke-width="1"/>
<line x1="867.4" y1="462.2" x2="861.5" y2="461.1" stroke="#ffffb0" stroke-width="1"/>
<line x1="889.6" y1="450.8" x2="883.7" y2="449.8" stroke="#ffffb0" stroke-width="1"/>
<line x1="911.7" y1="439.5" x2="905.8" y2="438.4" stroke="#ffffb0" stroke-width="1"/>
<line x1="933.9" y1="428.1" x2="928.0" y2="427.1" stroke="#ffffb0" stroke-width="1"/>
<line x1="511.5" y1="302.5" x2="511.5" y2="461.8" stroke="#ffffb0" stroke-width="1"/>
<line x1="511.5" y1="302.5" x2="519.5" y2="302.5" stroke="#ffffb0" stroke-width="1"/>
<text x="494" y="307.5" fill="#f2f2b0" font-size="16.60" text-anchor="end" textLength="10.2" lengthAdjust="spacingAndGlyphs">0</text>
<line x1="511.5" y1="329.0" x2="519.5" y2="329.0" stroke="#ffffb0" stroke-width="1"/>
<text x="494" y="334.0" fill="#f2f2b0" font-size="16.60" text-anchor="end" textLength="26.2" lengthAdjust="spacingAndGlyphs">-20</text>
<line x1="511.5" y1="355.5" x2="519.5" y2="355.5" stroke="#ffffb0" stroke-width="1"/>
<text x="494" y="360.5" fill="#f2f2b0" font-size="16.60" text-anchor="end" textLength="26.2" lengthAdjust="spacingAndGlyphs">-40</text>
<line x1="511.5" y1="382.0" x2="519.5" y2="382.0" stroke="#ffffb0" stroke-width="1"/>
<text x="494" y="387.0" fill="#f2f2b0" font-size="16.60" text-anchor="end" textLength="26.2" lengthAdjust="spacingAndGlyphs">-60</text>
<line x1="511.5" y1="408.5" x2="519.5" y2="408.5" stroke="#ffffb0" stroke-width="1"/>
<text x="494" y="413.5" fill="#f2f2b0" font-size="16.60" text-anchor="end" textLength="26.2" lengthAdjust="spacingAndGlyphs">-80</text>
<line x1="511.5" y1="435.0" x2="519.5" y2="435.0" stroke="#ffffb0" stroke-width="1"/>
<text x="494" y="440.0" fill="#f2f2b0" font-size="16.60" text-anchor="end" textLength="36.3" lengthAdjust="spacingAndGlyphs">-100</text>
<line x1="511.5" y1="461.5" x2="519.5" y2="461.5" stroke="#ffffb0" stroke-width="1"/>
<text x="494" y="466.5" fill="#f2f2b0" font-size="16.60" text-anchor="end" textLength="36.3" lengthAdjust="spacingAndGlyphs">-120</text>
<text x="436.8" y="382" fill="#f2f2b0" font-size="16.60" text-anchor="middle" textLength="86.5" lengthAdjust="spacingAndGlyphs" transform="rotate(-90 436.8 382)">PSD (dBm)</text>
<text x="502.8" y="473.4" fill="#f2f2b0" font-size="16.60" text-anchor="middle" textLength="71.9" lengthAdjust="spacingAndGlyphs">19:25:00</text>
<text x="556.2" y="482.7" fill="#f2f2b0" font-size="16.60" text-anchor="middle" textLength="71.9" lengthAdjust="spacingAndGlyphs">19:25:20</text>
<text x="609.7" y="491.9" fill="#f2f2b0" font-size="16.60" text-anchor="middle" textLength="71.9" lengthAdjust="spacingAndGlyphs">19:25:40</text>
<text x="663.1" y="501.2" fill="#f2f2b0" font-size="16.60" text-anchor="middle" textLength="71.9" lengthAdjust="spacingAndGlyphs">19:26:00</text>
<text x="716.6" y="510.4" fill="#f2f2b0" font-size="16.60" text-anchor="middle" textLength="71.9" lengthAdjust="spacingAndGlyphs">19:26:20</text>
<text x="770.0" y="519.7" fill="#f2f2b0" font-size="16.60" text-anchor="middle" textLength="71.9" lengthAdjust="spacingAndGlyphs">19:26:40</text>
<text x="816.7" y="515.7" fill="#f2f2b0" font-size="16.60" text-anchor="middle" textLength="40.8" lengthAdjust="spacingAndGlyphs">1210</text>
<text x="838.9" y="504.3" fill="#f2f2b0" font-size="16.60" text-anchor="middle" textLength="40.8" lengthAdjust="spacingAndGlyphs">1215</text>
<text x="861.0" y="493.0" fill="#f2f2b0" font-size="16.60" text-anchor="middle" textLength="40.8" lengthAdjust="spacingAndGlyphs">1220</text>
<text x="883.2" y="481.6" fill="#f2f2b0" font-size="16.60" text-anchor="middle" textLength="40.8" lengthAdjust="spacingAndGlyphs">1225</text>
<text x="905.3" y="470.3" fill="#f2f2b0" font-size="16.60" text-anchor="middle" textLength="40.8" lengthAdjust="spacingAndGlyphs">1230</text>
<text x="927.5" y="458.9" fill="#f2f2b0" font-size="16.60" text-anchor="middle" textLength="40.8" lengthAdjust="spacingAndGlyphs">1235</text>
<text x="949.6" y="447.6" fill="#f2f2b0" font-size="16.60" text-anchor="middle" textLength="40.8" lengthAdjust="spacingAndGlyphs">1240</text>
<text x="971.8" y="436.2" fill="#f2f2b0" font-size="16.60" text-anchor="middle" textLength="40.8" lengthAdjust="spacingAndGlyphs">1245</text>
<g transform="translate(597.5 506.2) rotate(10)">
<text x="0" y="6" fill="#f2f2b0" font-size="16.60" text-anchor="middle" textLength="88.5" lengthAdjust="spacingAndGlyphs">Time (UTC)</text>
</g>
<g transform="translate(931.6 481.7) rotate(-27)">
<text x="0" y="6" fill="#f2f2b0" font-size="16.60" text-anchor="middle" textLength="134.5" lengthAdjust="spacingAndGlyphs">Frequency (MHz)</text>
</g>
<polygon points="623.5,311 758.5,242 758.5,400 623.5,470" fill="none" stroke="#ff0000" stroke-width="1" class="cr"/>
</g>
</svg>
</body></html>
